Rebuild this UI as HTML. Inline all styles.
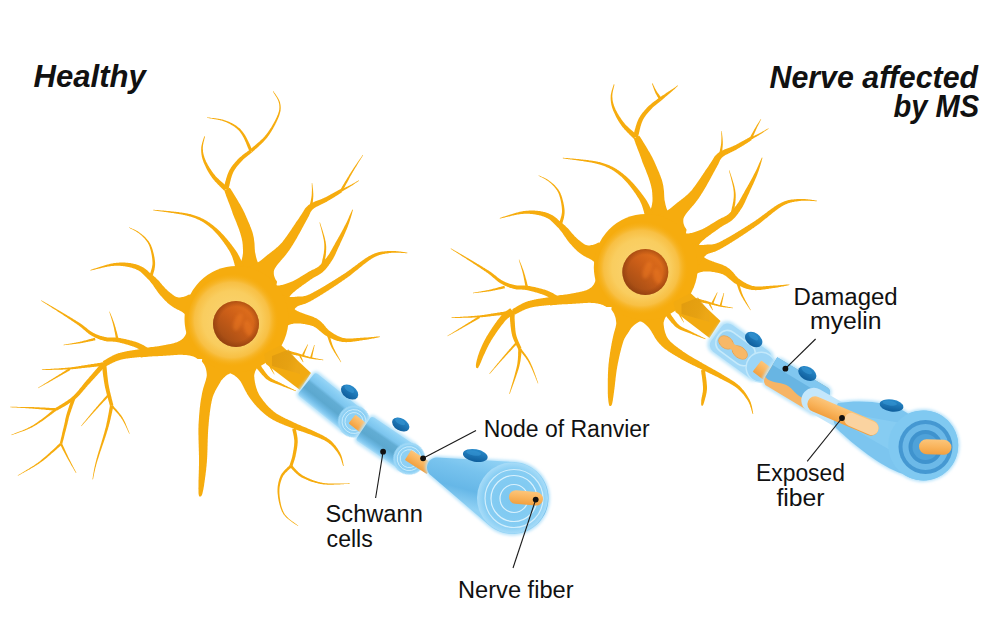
<!DOCTYPE html>
<html><head><meta charset="utf-8"><style>
html,body{margin:0;padding:0;background:#fff;}
body{width:1000px;height:630px;overflow:hidden;position:relative;}
svg{position:absolute;left:0;top:0;}
</style></head><body>
<svg width="1000" height="630" viewBox="0 0 1000 630">
<defs>
<radialGradient id="somaL" gradientUnits="userSpaceOnUse" cx="232.0" cy="320.0" r="47">
 <stop offset="0" stop-color="#FAD575"/>
 <stop offset="0.62" stop-color="#F9CD5F"/>
 <stop offset="0.8" stop-color="#F8C24A" stop-opacity="0.9"/>
 <stop offset="1" stop-color="#F6AC0E" stop-opacity="0"/>
</radialGradient>
<linearGradient id="nucL" x1="0.85" y1="0.1" x2="0.15" y2="0.9">
 <stop offset="0" stop-color="#E4721C"/>
 <stop offset="0.45" stop-color="#CB5E18"/>
 <stop offset="1" stop-color="#9E4A14"/>
</linearGradient>
<radialGradient id="nucEL" cx="0.5" cy="0.5" r="0.5">
 <stop offset="0.75" stop-color="#8A3A0C" stop-opacity="0"/>
 <stop offset="1" stop-color="#8A3A0C" stop-opacity="0.55"/>
</radialGradient>

<radialGradient id="somaR" gradientUnits="userSpaceOnUse" cx="641.3" cy="268.0" r="47">
 <stop offset="0" stop-color="#FAD575"/>
 <stop offset="0.62" stop-color="#F9CD5F"/>
 <stop offset="0.8" stop-color="#F8C24A" stop-opacity="0.9"/>
 <stop offset="1" stop-color="#F6AC0E" stop-opacity="0"/>
</radialGradient>
<linearGradient id="nucR" x1="0.85" y1="0.1" x2="0.15" y2="0.9">
 <stop offset="0" stop-color="#E4721C"/>
 <stop offset="0.45" stop-color="#CB5E18"/>
 <stop offset="1" stop-color="#9E4A14"/>
</linearGradient>
<radialGradient id="nucER" cx="0.5" cy="0.5" r="0.5">
 <stop offset="0.75" stop-color="#8A3A0C" stop-opacity="0"/>
 <stop offset="1" stop-color="#8A3A0C" stop-opacity="0.55"/>
</radialGradient>

<linearGradient id="cyl" x1="0" y1="0" x2="0" y2="1">
 <stop offset="0" stop-color="#9AD6F7"/>
 <stop offset="0.12" stop-color="#8ACFF4"/>
 <stop offset="0.3" stop-color="#7CC5EE"/>
 <stop offset="0.4" stop-color="#62ADD4"/>
 <stop offset="0.65" stop-color="#5CA8CF"/>
 <stop offset="0.8" stop-color="#6DB9E4"/>
 <stop offset="0.92" stop-color="#86CBF1"/>
 <stop offset="1" stop-color="#A8DCF8"/>
</linearGradient>
<linearGradient id="cylR" x1="0" y1="0" x2="0" y2="1">
 <stop offset="0" stop-color="#BDE5FA"/>
 <stop offset="0.3" stop-color="#A3D8F6"/>
 <stop offset="0.7" stop-color="#96D1F3"/>
 <stop offset="1" stop-color="#B8E3F9"/>
</linearGradient>
<linearGradient id="cone" gradientUnits="userSpaceOnUse" x1="455" y1="445" x2="440" y2="500">
 <stop offset="0" stop-color="#96D5F6"/>
 <stop offset="0.35" stop-color="#78C3EE"/>
 <stop offset="0.7" stop-color="#66B7E7"/>
 <stop offset="1" stop-color="#90D1F4"/>
</linearGradient>
<radialGradient id="face" cx="0.5" cy="0.5" r="0.5">
 <stop offset="0" stop-color="#7CC7F0"/>
 <stop offset="0.8" stop-color="#86CDF3"/>
 <stop offset="1" stop-color="#A8DCF8"/>
</radialGradient>
<linearGradient id="orng" x1="0" y1="0" x2="0" y2="1">
 <stop offset="0" stop-color="#FCC57A"/>
 <stop offset="0.5" stop-color="#F9B45C"/>
 <stop offset="1" stop-color="#F2A040"/>
</linearGradient>
<linearGradient id="nucb" x1="0" y1="0" x2="0" y2="1">
 <stop offset="0" stop-color="#2A8BCB"/>
 <stop offset="1" stop-color="#0F5E9C"/>
</linearGradient>
<linearGradient id="hil" x1="0" y1="0" x2="1" y2="0.3">
 <stop offset="0" stop-color="#DC970E"/>
 <stop offset="0.7" stop-color="#E29E12"/>
 <stop offset="1" stop-color="#EBA618"/>
</linearGradient>
<filter id="blur1" x="-20%" y="-20%" width="140%" height="140%"><feGaussianBlur stdDeviation="1.6"/></filter>
<filter id="blur05"><feGaussianBlur stdDeviation="0.6"/></filter>
</defs>
<g fill="#F6AC0E">
<path d="M259.8 314.4 L259.8 314.3 L259.8 314.2 L259.9 314.0 L260.1 313.6 L260.3 313.1 L260.6 312.6 L260.9 312.0 L261.2 311.3 L261.5 310.5 L261.9 309.7 L262.3 308.9 L262.7 307.9 L263.1 307.0 L263.5 306.0 L263.9 304.9 L264.3 303.8 L264.7 302.7 L265.1 301.5 L265.5 300.2 L265.9 298.9 L266.2 297.5 L266.5 296.2 L266.6 295.2 L266.6 294.3 L266.5 293.4 L266.5 292.5 L266.5 291.6 L266.4 290.7 L266.4 289.8 L266.3 288.9 L266.2 288.1 L266.1 287.2 L266.0 286.3 L265.9 285.5 L265.8 284.6 L265.7 283.8 L265.6 282.9 L265.5 282.1 L265.4 281.3 L265.3 280.4 L265.1 279.6 L265.0 278.8 L264.9 278.0 L264.7 277.2 L264.6 276.4 L264.5 275.7 L264.3 274.9 L264.2 274.2 L264.1 273.4 L263.9 272.7 L263.8 272.0 L263.6 271.4 L263.5 270.7 L263.5 269.9 L262.4 269.0 L261.5 268.1 L260.7 267.3 L260.1 266.5 L259.5 265.7 L259.0 264.9 L258.6 264.1 L258.2 263.3 L257.9 262.6 L257.6 261.8 L257.3 261.1 L257.0 260.3 L256.8 259.6 L256.6 258.9 L256.4 258.1 L256.2 257.4 L256.0 256.7 L255.9 256.0 L255.7 255.2 L255.6 254.5 L255.4 253.8 L255.3 253.1 L255.1 252.4 L255.0 251.7 L254.9 251.0 L254.9 250.3 L254.8 249.6 L254.8 248.9 L254.7 248.2 L254.7 247.6 L254.7 246.9 L254.6 246.2 L254.6 245.5 L254.6 244.8 L254.5 244.0 L254.5 243.3 L254.4 242.6 L254.3 241.8 L254.2 241.0 L254.1 240.3 L254.0 239.5 L253.9 238.6 L253.8 237.8 L253.6 237.0 L253.4 236.1 L253.2 235.2 L253.0 234.3 L252.8 233.4 L252.6 232.8 L252.4 232.1 L252.2 231.5 L252.0 230.8 L251.7 230.2 L251.5 229.5 L251.3 228.9 L251.0 228.2 L250.8 227.5 L250.5 226.9 L250.2 226.2 L250.0 225.5 L249.7 224.8 L249.4 224.1 L249.1 223.4 L248.8 222.8 L248.5 222.1 L248.2 221.4 L247.9 220.7 L247.6 220.0 L247.3 219.3 L247.0 218.6 L246.7 217.9 L246.4 217.2 L246.1 216.5 L245.8 215.8 L245.5 215.2 L245.2 214.5 L244.9 213.8 L244.6 213.1 L244.3 212.4 L243.9 211.8 L243.6 211.1 L243.3 210.5 L243.0 209.8 L242.7 209.2 L242.3 208.5 L241.9 207.8 L241.6 207.2 L241.2 206.5 L240.8 205.8 L240.4 205.1 L240.0 204.3 L239.5 203.6 L239.1 202.9 L238.7 202.2 L238.3 201.5 L237.9 200.7 L237.4 200.0 L237.0 199.3 L236.6 198.6 L236.2 197.9 L235.8 197.2 L235.3 196.5 L234.9 195.8 L234.5 195.2 L234.1 194.5 L233.7 193.9 L233.4 193.3 L233.0 192.7 L232.6 192.1 L232.3 191.5 L231.9 191.0 L231.6 190.5 L231.3 190.0 L231.0 189.5 L230.7 189.1 L230.4 188.7 L230.2 188.3 L229.9 188.0 L229.7 187.7 L224.3 190.3 L224.4 190.7 L224.5 191.1 L224.7 191.5 L224.8 192.0 L225.0 192.5 L225.2 193.0 L225.3 193.6 L225.6 194.1 L225.8 194.7 L226.0 195.4 L226.2 196.0 L226.5 196.7 L226.7 197.3 L227.0 198.0 L227.3 198.7 L227.6 199.5 L227.8 200.2 L228.1 200.9 L228.4 201.7 L228.7 202.4 L229.0 203.2 L229.3 204.0 L229.6 204.7 L229.9 205.5 L230.2 206.3 L230.4 207.0 L230.7 207.8 L231.0 208.5 L231.3 209.3 L231.5 210.0 L231.8 210.8 L232.1 211.5 L232.3 212.2 L232.5 212.9 L232.7 213.5 L233.0 214.2 L233.2 214.9 L233.5 215.5 L233.8 216.2 L234.1 216.9 L234.3 217.6 L234.6 218.2 L234.9 218.9 L235.2 219.6 L235.5 220.3 L235.7 221.0 L236.0 221.6 L236.3 222.3 L236.6 223.0 L236.8 223.7 L237.1 224.4 L237.3 225.0 L237.6 225.7 L237.9 226.4 L238.1 227.0 L238.4 227.7 L238.6 228.3 L238.8 229.0 L239.1 229.6 L239.3 230.3 L239.5 230.9 L239.7 231.5 L239.9 232.1 L240.1 232.7 L240.3 233.3 L240.5 233.9 L240.6 234.4 L240.8 235.0 L240.9 235.5 L241.1 236.1 L241.2 236.6 L241.4 237.3 L241.6 238.0 L241.8 238.7 L241.9 239.4 L242.0 240.0 L242.2 240.7 L242.3 241.3 L242.4 241.9 L242.5 242.5 L242.5 243.1 L242.6 243.7 L242.7 244.3 L242.7 244.9 L242.8 245.5 L242.8 246.2 L242.8 246.8 L242.9 247.4 L242.9 248.1 L242.9 248.8 L243.0 249.4 L243.0 250.1 L243.0 250.9 L243.0 251.6 L243.0 252.3 L243.0 253.0 L242.9 253.7 L242.8 254.4 L242.7 255.0 L242.6 255.7 L242.5 256.4 L242.4 257.0 L242.2 257.7 L242.1 258.4 L241.9 259.0 L241.7 259.7 L241.5 260.4 L241.2 261.0 L240.9 261.7 L240.6 262.4 L240.3 263.0 L239.9 263.7 L239.4 264.4 L238.9 265.1 L238.2 265.8 L237.5 266.5 L236.7 267.2 L235.7 267.8 L234.6 268.5 L234.5 269.3 L234.3 269.9 L234.1 270.6 L233.9 271.3 L233.7 271.9 L233.5 272.6 L233.3 273.3 L233.0 274.0 L232.8 274.7 L232.6 275.4 L232.4 276.1 L232.2 276.8 L231.9 277.5 L231.7 278.2 L231.5 278.9 L231.3 279.6 L231.0 280.2 L230.8 280.9 L230.6 281.5 L230.3 282.2 L230.1 282.8 L229.9 283.4 L229.6 284.0 L229.4 284.5 L229.1 285.1 L228.9 285.6 L228.6 286.0 L228.4 286.5 L228.2 286.9 L227.9 287.3 L227.7 287.6 L227.5 287.8 L227.4 288.1 L227.3 288.5 L227.2 288.8 L227.1 289.2 L226.9 289.7 L226.7 290.1 L226.6 290.6 L226.4 291.1 L226.1 291.7 L225.9 292.2 L225.7 292.7 L225.4 293.3 L225.2 293.8 L224.9 294.4 L224.7 295.0 L224.4 295.5 L224.1 296.1 L223.8 296.7 L223.6 297.3 L223.3 298.0 L222.9 298.7 L222.7 299.3Z"/>
<path d="M227.8 187.2 L227.5 186.9 L227.1 186.6 L226.7 186.3 L226.3 185.9 L225.9 185.6 L225.4 185.2 L224.9 184.7 L224.4 184.3 L223.8 183.8 L223.3 183.3 L222.7 182.8 L222.1 182.3 L221.5 181.8 L220.9 181.3 L220.3 180.7 L219.8 180.2 L219.2 179.7 L218.6 179.1 L218.0 178.5 L217.4 178.0 L216.9 177.4 L216.4 176.9 L215.9 176.4 L215.4 175.9 L215.0 175.3 L214.6 174.8 L214.1 174.3 L213.7 173.7 L213.3 173.2 L212.8 172.6 L212.4 172.0 L212.0 171.4 L211.6 170.8 L211.2 170.2 L210.8 169.6 L210.4 169.0 L210.0 168.4 L209.6 167.8 L209.2 167.2 L208.9 166.6 L208.5 166.0 L208.2 165.4 L207.8 164.8 L207.5 164.2 L207.2 163.6 L206.9 163.0 L206.6 162.5 L206.3 161.9 L206.0 161.4 L205.8 160.8 L205.5 160.1 L205.2 159.4 L204.9 158.6 L204.6 157.9 L204.4 157.3 L204.2 156.6 L204.0 155.9 L203.8 155.2 L203.6 154.6 L203.5 153.9 L203.3 153.2 L203.2 152.6 L203.1 151.9 L203.0 151.3 L203.0 150.6 L202.9 149.9 L202.9 149.3 L202.8 148.6 L202.8 147.9 L202.9 147.1 L202.9 146.4 L203.0 145.6 L203.1 144.7 L203.3 143.9 L203.4 143.1 L203.6 142.3 L203.8 141.5 L204.0 140.7 L204.2 139.9 L204.3 139.2 L204.5 138.6 L204.7 137.9 L204.8 137.4 L204.9 136.9 L205.0 136.5 L204.2 136.3 L204.1 136.7 L204.0 137.2 L203.8 137.7 L203.6 138.3 L203.4 138.9 L203.2 139.6 L202.9 140.4 L202.7 141.2 L202.4 142.0 L202.2 142.8 L202.0 143.6 L201.8 144.5 L201.6 145.3 L201.4 146.2 L201.3 147.0 L201.2 147.8 L201.2 148.6 L201.2 149.3 L201.1 150.0 L201.2 150.7 L201.2 151.4 L201.2 152.1 L201.3 152.8 L201.4 153.5 L201.4 154.2 L201.6 155.0 L201.7 155.7 L201.8 156.4 L202.0 157.2 L202.2 157.9 L202.4 158.7 L202.6 159.4 L202.9 160.2 L203.1 161.0 L203.4 161.8 L203.6 162.4 L203.9 163.0 L204.1 163.6 L204.4 164.2 L204.7 164.8 L205.0 165.5 L205.3 166.1 L205.6 166.8 L205.9 167.4 L206.2 168.1 L206.5 168.7 L206.9 169.4 L207.2 170.0 L207.6 170.7 L208.0 171.4 L208.4 172.0 L208.7 172.7 L209.1 173.3 L209.5 174.0 L209.9 174.6 L210.3 175.2 L210.7 175.8 L211.2 176.5 L211.6 177.1 L212.0 177.7 L212.5 178.3 L212.9 178.9 L213.4 179.5 L214.0 180.1 L214.5 180.7 L215.0 181.4 L215.6 182.0 L216.2 182.6 L216.8 183.2 L217.3 183.8 L217.9 184.4 L218.5 185.0 L219.1 185.6 L219.6 186.2 L220.2 186.7 L220.7 187.2 L221.2 187.7 L221.7 188.2 L222.2 188.7 L222.6 189.1 L223.0 189.5 L223.4 189.9 L223.7 190.2 L224.0 190.5 L224.2 190.8Z"/>
<path d="M228.4 189.7 L228.5 189.3 L228.6 188.8 L228.7 188.3 L228.9 187.8 L229.0 187.2 L229.1 186.6 L229.3 185.9 L229.5 185.2 L229.6 184.5 L229.8 183.8 L230.0 183.0 L230.1 182.2 L230.3 181.5 L230.5 180.7 L230.7 179.9 L230.9 179.1 L231.1 178.3 L231.4 177.6 L231.6 176.8 L231.8 176.1 L232.0 175.4 L232.3 174.7 L232.5 174.1 L232.8 173.5 L233.0 173.0 L233.3 172.3 L233.6 171.7 L233.9 171.1 L234.3 170.5 L234.6 169.9 L235.0 169.3 L235.4 168.7 L235.8 168.2 L236.2 167.6 L236.6 167.1 L237.0 166.5 L237.4 166.0 L237.8 165.5 L238.3 164.9 L238.7 164.4 L239.1 163.9 L239.6 163.4 L240.0 162.9 L240.5 162.4 L241.0 161.9 L241.4 161.4 L241.9 160.9 L242.4 160.4 L243.0 159.8 L243.5 159.3 L244.1 158.8 L244.7 158.3 L245.3 157.7 L246.0 157.2 L246.6 156.7 L247.2 156.2 L247.8 155.7 L248.4 155.3 L249.0 154.8 L249.5 154.4 L250.0 154.0 L250.5 153.6 L251.0 153.2 L251.4 152.9 L251.8 152.6 L252.1 152.4 L249.9 149.6 L249.6 149.9 L249.3 150.1 L248.9 150.4 L248.4 150.8 L247.9 151.1 L247.4 151.5 L246.8 151.9 L246.2 152.4 L245.6 152.8 L244.9 153.3 L244.3 153.8 L243.6 154.3 L242.9 154.8 L242.3 155.3 L241.6 155.9 L241.0 156.4 L240.3 157.0 L239.7 157.5 L239.1 158.1 L238.6 158.6 L238.1 159.1 L237.6 159.6 L237.1 160.1 L236.6 160.7 L236.1 161.2 L235.6 161.7 L235.2 162.2 L234.7 162.8 L234.2 163.4 L233.7 163.9 L233.2 164.5 L232.8 165.1 L232.3 165.7 L231.9 166.3 L231.4 166.9 L231.0 167.6 L230.6 168.2 L230.2 168.9 L229.8 169.6 L229.4 170.3 L229.0 171.0 L228.7 171.7 L228.4 172.4 L228.1 173.1 L227.8 173.9 L227.5 174.6 L227.2 175.4 L227.0 176.2 L226.7 177.0 L226.5 177.8 L226.2 178.6 L226.0 179.4 L225.8 180.3 L225.5 181.1 L225.3 181.8 L225.1 182.6 L224.9 183.4 L224.7 184.1 L224.6 184.8 L224.4 185.4 L224.2 186.0 L224.1 186.6 L223.9 187.1 L223.8 187.6 L223.7 188.0 L223.6 188.3Z"/>
<path d="M252.2 152.3 L252.5 152.0 L252.7 151.7 L253.1 151.4 L253.4 151.1 L253.8 150.8 L254.2 150.4 L254.7 150.0 L255.1 149.6 L255.6 149.1 L256.1 148.7 L256.7 148.2 L257.2 147.7 L257.8 147.2 L258.3 146.7 L258.9 146.2 L259.5 145.6 L260.1 145.1 L260.7 144.5 L261.3 143.9 L261.9 143.3 L262.5 142.7 L263.1 142.2 L263.7 141.6 L264.2 140.9 L264.8 140.3 L265.3 139.7 L265.9 139.1 L266.4 138.5 L266.9 137.9 L267.4 137.3 L267.8 136.7 L268.2 136.1 L268.7 135.6 L269.1 135.0 L269.5 134.3 L269.9 133.7 L270.3 133.1 L270.7 132.5 L271.1 131.8 L271.5 131.2 L271.9 130.5 L272.3 129.8 L272.7 129.2 L273.1 128.5 L273.5 127.8 L273.8 127.1 L274.2 126.5 L274.6 125.8 L274.9 125.1 L275.3 124.4 L275.6 123.8 L275.9 123.1 L276.3 122.4 L276.6 121.8 L276.9 121.1 L277.2 120.5 L277.4 119.9 L277.7 119.3 L278.0 118.7 L278.2 118.1 L278.5 117.5 L278.7 117.0 L278.9 116.4 L279.1 115.9 L279.4 115.0 L279.7 114.1 L279.9 113.3 L280.1 112.4 L280.3 111.7 L280.5 110.9 L280.6 110.2 L280.6 109.4 L280.7 108.7 L280.7 108.1 L280.7 107.4 L280.7 106.7 L280.6 106.1 L280.6 105.4 L280.5 104.8 L280.3 104.1 L280.2 103.5 L280.1 102.8 L279.9 102.1 L279.6 101.3 L279.3 100.6 L278.9 99.8 L278.6 99.1 L278.1 98.3 L277.7 97.6 L277.2 96.8 L276.8 96.1 L276.3 95.4 L275.9 94.8 L275.4 94.1 L275.0 93.5 L274.6 93.0 L274.2 92.5 L273.9 92.0 L273.7 91.6 L273.5 91.2 L272.9 91.6 L273.1 91.9 L273.4 92.3 L273.7 92.8 L274.0 93.4 L274.4 93.9 L274.8 94.5 L275.2 95.2 L275.6 95.9 L276.1 96.6 L276.5 97.3 L276.9 98.0 L277.3 98.8 L277.7 99.5 L278.0 100.3 L278.3 101.0 L278.6 101.7 L278.8 102.4 L278.9 103.0 L279.1 103.7 L279.2 104.3 L279.3 104.9 L279.3 105.6 L279.4 106.2 L279.4 106.8 L279.4 107.4 L279.4 108.0 L279.3 108.7 L279.3 109.3 L279.2 109.9 L279.0 110.6 L278.9 111.3 L278.7 112.1 L278.4 112.8 L278.2 113.6 L277.9 114.4 L277.5 115.3 L277.3 115.8 L277.1 116.3 L276.9 116.8 L276.6 117.4 L276.3 117.9 L276.1 118.5 L275.8 119.1 L275.5 119.7 L275.2 120.3 L274.9 120.9 L274.5 121.6 L274.2 122.2 L273.8 122.8 L273.5 123.5 L273.1 124.1 L272.7 124.8 L272.3 125.4 L272.0 126.1 L271.6 126.7 L271.2 127.4 L270.8 128.0 L270.4 128.6 L269.9 129.3 L269.5 129.9 L269.1 130.5 L268.7 131.1 L268.3 131.7 L267.9 132.3 L267.4 132.9 L267.0 133.5 L266.6 134.0 L266.2 134.6 L265.8 135.1 L265.3 135.6 L264.8 136.2 L264.4 136.7 L263.8 137.3 L263.3 137.9 L262.8 138.4 L262.2 139.0 L261.6 139.5 L261.0 140.1 L260.4 140.6 L259.9 141.2 L259.2 141.7 L258.6 142.3 L258.0 142.8 L257.4 143.3 L256.8 143.8 L256.3 144.3 L255.7 144.8 L255.1 145.3 L254.6 145.7 L254.0 146.2 L253.5 146.6 L253.0 147.0 L252.5 147.4 L252.0 147.8 L251.6 148.2 L251.2 148.5 L250.8 148.9 L250.4 149.2 L250.1 149.5 L249.8 149.7Z"/>
<path d="M252.5 150.3 L252.3 150.0 L252.1 149.6 L251.9 149.1 L251.6 148.6 L251.4 148.0 L251.1 147.4 L250.8 146.7 L250.5 146.0 L250.2 145.3 L249.8 144.6 L249.5 143.8 L249.1 143.0 L248.7 142.3 L248.4 141.5 L248.0 140.7 L247.6 140.0 L247.3 139.2 L246.9 138.5 L246.5 137.8 L246.1 137.1 L245.8 136.4 L245.4 135.8 L245.1 135.3 L244.6 134.5 L244.1 133.8 L243.7 133.2 L243.2 132.5 L242.7 131.9 L242.3 131.3 L241.8 130.7 L241.3 130.2 L240.9 129.7 L240.4 129.1 L239.8 128.6 L239.3 128.1 L238.7 127.7 L238.1 127.2 L237.5 126.7 L236.9 126.2 L236.4 125.8 L235.8 125.5 L235.2 125.1 L234.7 124.7 L234.1 124.4 L233.5 124.0 L232.8 123.7 L232.2 123.3 L231.6 123.0 L230.9 122.7 L230.3 122.4 L229.6 122.1 L228.9 121.8 L228.2 121.5 L227.5 121.2 L226.8 120.9 L226.1 120.7 L225.4 120.4 L224.6 120.2 L223.9 120.0 L223.3 119.8 L222.6 119.6 L221.9 119.4 L221.1 119.3 L220.3 119.1 L219.6 119.0 L218.8 118.8 L217.9 118.7 L217.1 118.6 L216.3 118.5 L215.5 118.3 L214.7 118.2 L213.9 118.1 L213.1 118.0 L212.3 117.9 L211.6 117.9 L210.9 117.8 L210.2 117.7 L209.6 117.6 L209.0 117.5 L208.5 117.5 L208.0 117.4 L207.5 117.4 L207.2 117.3 L207.0 117.9 L207.4 118.0 L207.9 118.0 L208.4 118.1 L208.9 118.2 L209.5 118.3 L210.1 118.4 L210.8 118.5 L211.5 118.6 L212.2 118.8 L213.0 118.9 L213.8 119.0 L214.5 119.2 L215.3 119.3 L216.1 119.5 L217.0 119.6 L217.8 119.8 L218.5 119.9 L219.3 120.1 L220.1 120.3 L220.8 120.5 L221.6 120.6 L222.2 120.8 L222.9 121.0 L223.5 121.2 L224.2 121.5 L224.9 121.8 L225.6 122.0 L226.3 122.3 L227.0 122.6 L227.6 122.9 L228.3 123.2 L228.9 123.5 L229.6 123.8 L230.2 124.2 L230.8 124.5 L231.4 124.9 L232.0 125.2 L232.5 125.6 L233.1 125.9 L233.7 126.3 L234.2 126.6 L234.7 127.0 L235.2 127.4 L235.7 127.8 L236.3 128.3 L236.9 128.7 L237.4 129.2 L237.9 129.7 L238.3 130.1 L238.8 130.6 L239.2 131.1 L239.7 131.6 L240.1 132.1 L240.5 132.7 L240.9 133.3 L241.3 133.8 L241.7 134.5 L242.1 135.1 L242.5 135.8 L242.9 136.5 L243.2 137.1 L243.5 137.6 L243.9 138.3 L244.2 138.9 L244.5 139.6 L244.9 140.4 L245.2 141.1 L245.5 141.9 L245.9 142.6 L246.2 143.4 L246.5 144.2 L246.8 145.0 L247.1 145.7 L247.4 146.5 L247.7 147.2 L248.0 147.9 L248.3 148.6 L248.5 149.2 L248.8 149.8 L249.0 150.4 L249.2 150.8 L249.4 151.3 L249.5 151.7Z"/>
<path d="M244.1 266.2 L244.0 266.0 L243.8 265.7 L243.6 265.3 L243.4 264.9 L243.1 264.5 L242.9 264.0 L242.6 263.5 L242.4 262.9 L242.1 262.4 L241.8 261.8 L241.5 261.1 L241.2 260.5 L240.9 259.8 L240.5 259.1 L240.2 258.4 L239.8 257.6 L239.5 256.9 L239.1 256.1 L238.7 255.4 L238.2 254.6 L237.8 253.8 L237.4 253.1 L236.9 252.3 L236.4 251.5 L235.9 250.7 L235.4 250.0 L234.8 249.2 L234.3 248.5 L233.9 248.0 L233.6 247.5 L233.2 247.0 L232.8 246.5 L232.4 245.9 L232.0 245.4 L231.6 244.8 L231.1 244.3 L230.7 243.7 L230.3 243.2 L229.8 242.6 L229.4 242.0 L228.9 241.5 L228.4 240.9 L228.0 240.3 L227.5 239.7 L227.0 239.2 L226.5 238.6 L226.0 238.0 L225.5 237.4 L225.0 236.8 L224.5 236.3 L224.0 235.7 L223.5 235.1 L222.9 234.6 L222.4 234.0 L221.9 233.4 L221.4 232.9 L220.8 232.3 L220.3 231.8 L219.8 231.3 L219.2 230.7 L218.7 230.2 L218.2 229.7 L217.6 229.2 L217.1 228.7 L216.5 228.3 L216.0 227.8 L215.5 227.4 L214.9 226.9 L214.4 226.5 L213.8 226.0 L213.2 225.6 L212.7 225.1 L212.1 224.7 L211.5 224.3 L211.0 223.8 L210.4 223.4 L209.9 223.0 L209.3 222.6 L208.7 222.2 L208.2 221.9 L207.6 221.5 L207.0 221.1 L206.5 220.8 L205.9 220.4 L205.3 220.1 L204.7 219.7 L204.1 219.4 L203.5 219.1 L202.9 218.8 L202.3 218.5 L201.6 218.2 L201.0 217.9 L200.4 217.6 L199.7 217.3 L199.0 217.0 L198.3 216.7 L197.6 216.5 L196.9 216.2 L196.2 215.9 L195.4 215.7 L194.7 215.4 L193.9 215.2 L193.1 214.9 L192.3 214.7 L191.4 214.4 L190.9 214.3 L190.2 214.1 L189.6 214.0 L189.0 213.9 L188.3 213.7 L187.6 213.6 L186.9 213.4 L186.2 213.3 L185.5 213.2 L184.7 213.1 L184.0 212.9 L183.2 212.8 L182.4 212.7 L181.6 212.6 L180.8 212.5 L180.0 212.4 L179.2 212.3 L178.4 212.1 L177.6 212.0 L176.7 211.9 L175.9 211.8 L175.1 211.7 L174.2 211.7 L173.4 211.6 L172.6 211.5 L171.7 211.4 L170.9 211.3 L170.1 211.2 L169.3 211.1 L168.4 211.0 L167.6 211.0 L166.8 210.9 L166.0 210.8 L165.3 210.7 L164.5 210.7 L163.7 210.6 L163.0 210.5 L162.3 210.5 L161.6 210.4 L160.9 210.4 L160.2 210.3 L159.5 210.2 L158.9 210.2 L158.2 210.1 L157.6 210.1 L157.1 210.0 L156.5 210.0 L156.0 209.9 L155.5 209.9 L155.0 209.9 L154.5 209.8 L154.1 209.8 L153.7 209.7 L153.3 209.7 L153.3 210.3 L153.6 210.4 L154.0 210.4 L154.4 210.5 L154.9 210.6 L155.4 210.7 L155.9 210.7 L156.4 210.8 L157.0 210.9 L157.5 211.0 L158.1 211.1 L158.8 211.2 L159.4 211.2 L160.1 211.3 L160.7 211.4 L161.4 211.5 L162.1 211.6 L162.9 211.7 L163.6 211.8 L164.4 211.9 L165.1 212.0 L165.9 212.1 L166.7 212.2 L167.5 212.3 L168.3 212.4 L169.1 212.6 L169.9 212.7 L170.7 212.8 L171.5 212.9 L172.4 213.0 L173.2 213.1 L174.0 213.3 L174.8 213.4 L175.7 213.5 L176.5 213.7 L177.3 213.8 L178.1 213.9 L178.9 214.1 L179.7 214.2 L180.5 214.3 L181.3 214.5 L182.1 214.6 L182.8 214.8 L183.6 214.9 L184.3 215.1 L185.1 215.3 L185.8 215.4 L186.5 215.6 L187.1 215.7 L187.8 215.9 L188.4 216.1 L189.0 216.2 L189.6 216.4 L190.2 216.6 L190.8 216.8 L191.6 217.0 L192.4 217.3 L193.1 217.5 L193.9 217.8 L194.6 218.1 L195.3 218.3 L196.0 218.6 L196.7 218.9 L197.3 219.2 L198.0 219.5 L198.6 219.8 L199.2 220.0 L199.8 220.3 L200.4 220.7 L201.0 221.0 L201.6 221.3 L202.1 221.6 L202.7 221.9 L203.2 222.3 L203.8 222.6 L204.3 222.9 L204.8 223.3 L205.4 223.7 L205.9 224.0 L206.4 224.4 L206.9 224.8 L207.4 225.2 L208.0 225.6 L208.5 226.0 L209.0 226.4 L209.5 226.8 L210.0 227.3 L210.6 227.7 L211.1 228.2 L211.7 228.6 L212.2 229.1 L212.7 229.5 L213.1 230.0 L213.6 230.4 L214.1 230.9 L214.6 231.4 L215.0 231.9 L215.5 232.4 L216.0 232.9 L216.5 233.4 L216.9 234.0 L217.4 234.5 L217.9 235.0 L218.3 235.6 L218.8 236.2 L219.3 236.7 L219.8 237.3 L220.2 237.9 L220.7 238.5 L221.1 239.1 L221.6 239.7 L222.0 240.2 L222.5 240.8 L222.9 241.4 L223.4 242.0 L223.8 242.6 L224.2 243.2 L224.6 243.8 L225.1 244.4 L225.5 245.0 L225.9 245.5 L226.3 246.1 L226.6 246.7 L227.0 247.3 L227.4 247.8 L227.7 248.4 L228.1 248.9 L228.4 249.5 L228.8 250.0 L229.1 250.5 L229.4 251.0 L229.7 251.5 L230.1 252.2 L230.5 252.9 L230.8 253.7 L231.1 254.4 L231.5 255.1 L231.8 255.9 L232.1 256.6 L232.4 257.3 L232.6 258.1 L232.9 258.8 L233.1 259.6 L233.4 260.3 L233.6 261.0 L233.8 261.7 L234.0 262.4 L234.2 263.1 L234.4 263.7 L234.5 264.4 L234.7 265.0 L234.8 265.6 L235.0 266.2 L235.1 266.8 L235.3 267.4 L235.4 267.9 L235.5 268.4 L235.6 268.9 L235.8 269.4 L235.9 269.8Z"/>
<path d="M228.9 299.1 L228.7 299.0 L228.4 298.9 L228.0 298.8 L227.6 298.6 L227.1 298.4 L226.5 298.1 L225.9 297.9 L225.3 297.6 L224.6 297.3 L223.8 297.0 L223.1 296.7 L222.3 296.4 L221.4 296.0 L220.6 295.7 L219.7 295.4 L218.8 295.0 L217.9 294.7 L217.0 294.4 L216.0 294.0 L215.0 293.7 L214.0 293.4 L213.0 293.1 L212.0 292.8 L211.0 292.5 L210.0 292.5 L209.1 292.5 L208.1 292.5 L207.2 292.5 L206.3 292.5 L205.4 292.6 L204.5 292.6 L203.6 292.7 L202.8 292.8 L201.9 292.8 L201.1 292.9 L200.2 293.0 L199.4 293.1 L198.6 293.2 L197.8 293.3 L197.1 293.4 L196.3 293.5 L195.6 293.7 L194.8 293.8 L194.1 293.9 L193.5 294.0 L192.8 294.1 L192.2 294.2 L191.6 294.3 L191.0 294.5 L190.4 294.6 L189.9 294.7 L189.0 294.6 L188.0 295.1 L187.0 295.5 L186.1 295.9 L185.3 296.2 L184.5 296.5 L183.8 296.7 L183.2 296.9 L182.5 297.0 L181.9 297.1 L181.4 297.3 L180.8 297.3 L180.3 297.4 L179.8 297.4 L179.3 297.4 L178.8 297.4 L178.4 297.4 L177.9 297.3 L177.4 297.2 L176.9 297.1 L176.4 296.9 L175.9 296.7 L175.4 296.4 L174.9 296.2 L174.4 295.9 L173.9 295.5 L173.4 295.2 L172.9 294.8 L172.3 294.4 L171.8 294.0 L171.3 293.6 L170.7 293.2 L170.2 292.8 L169.7 292.3 L169.1 291.9 L168.6 291.4 L168.1 290.9 L167.5 290.5 L167.0 290.0 L166.6 289.6 L166.1 289.1 L165.6 288.7 L165.1 288.2 L164.6 287.6 L164.2 287.1 L163.7 286.6 L163.2 286.0 L162.7 285.5 L162.2 284.9 L161.7 284.3 L161.3 283.8 L160.8 283.2 L160.3 282.7 L159.9 282.1 L159.4 281.6 L159.0 281.1 L158.5 280.6 L158.1 280.1 L157.6 279.7 L156.9 279.0 L156.3 278.4 L155.8 277.8 L155.2 277.3 L154.7 276.9 L154.2 276.5 L153.7 276.0 L153.2 275.6 L152.5 275.1 L151.8 274.5 L151.4 274.1 L150.9 273.7 L150.4 273.3 L149.9 272.9 L149.4 272.4 L148.9 271.9 L148.3 271.4 L147.7 270.8 L147.1 270.3 L146.4 269.8 L145.8 269.3 L145.1 268.8 L144.4 268.3 L143.7 267.8 L143.0 267.3 L142.2 266.9 L141.5 266.5 L140.8 266.2 L140.1 265.9 L139.4 265.6 L138.7 265.3 L138.0 265.0 L137.2 264.8 L136.5 264.5 L135.8 264.3 L135.0 264.1 L134.2 263.9 L133.5 263.7 L132.7 263.6 L131.9 263.4 L131.1 263.3 L130.3 263.1 L129.5 263.0 L128.7 262.9 L127.9 262.8 L127.2 262.8 L126.5 262.7 L125.8 262.7 L125.2 262.6 L124.5 262.6 L123.8 262.6 L123.1 262.6 L122.4 262.6 L121.7 262.6 L120.9 262.6 L120.2 262.6 L119.5 262.6 L118.7 262.7 L118.0 262.7 L117.2 262.8 L116.4 262.8 L115.6 262.9 L114.8 263.0 L114.0 263.1 L113.2 263.3 L112.4 263.4 L111.5 263.6 L110.9 263.7 L110.2 263.8 L109.5 264.0 L108.8 264.2 L108.1 264.4 L107.3 264.6 L106.6 264.8 L105.8 265.0 L105.0 265.2 L104.2 265.4 L103.4 265.7 L102.6 265.9 L101.8 266.2 L101.0 266.4 L100.2 266.7 L99.4 266.9 L98.6 267.2 L97.9 267.4 L97.1 267.7 L96.4 267.9 L95.6 268.2 L95.0 268.4 L94.3 268.6 L93.7 268.8 L93.0 269.0 L92.5 269.2 L91.9 269.4 L91.4 269.6 L91.0 269.7 L90.6 269.9 L90.2 270.0 L90.4 270.6 L90.8 270.5 L91.2 270.4 L91.7 270.3 L92.2 270.2 L92.7 270.1 L93.3 270.0 L93.9 269.8 L94.6 269.7 L95.3 269.5 L96.0 269.3 L96.7 269.1 L97.5 269.0 L98.2 268.8 L99.0 268.6 L99.8 268.4 L100.6 268.2 L101.4 268.0 L102.2 267.8 L103.1 267.6 L103.9 267.5 L104.7 267.3 L105.5 267.1 L106.3 266.9 L107.1 266.8 L107.8 266.6 L108.6 266.5 L109.3 266.4 L110.0 266.3 L110.6 266.2 L111.3 266.1 L111.9 266.0 L112.7 266.0 L113.5 265.9 L114.3 265.8 L115.1 265.8 L115.9 265.8 L116.6 265.7 L117.3 265.7 L118.1 265.8 L118.8 265.8 L119.5 265.8 L120.2 265.8 L120.9 265.9 L121.5 265.9 L122.2 266.0 L122.9 266.1 L123.5 266.2 L124.2 266.2 L124.8 266.3 L125.4 266.4 L126.1 266.6 L126.7 266.7 L127.3 266.8 L128.1 266.9 L128.8 267.1 L129.6 267.2 L130.3 267.4 L131.0 267.6 L131.7 267.8 L132.4 268.0 L133.0 268.2 L133.7 268.4 L134.3 268.6 L135.0 268.9 L135.6 269.1 L136.2 269.4 L136.8 269.7 L137.4 270.0 L138.0 270.3 L138.6 270.6 L139.1 270.9 L139.7 271.2 L140.2 271.6 L140.7 272.0 L141.3 272.4 L141.8 272.9 L142.3 273.4 L142.9 273.9 L143.4 274.4 L143.9 274.9 L144.4 275.4 L144.9 275.9 L145.4 276.5 L145.9 277.0 L146.4 277.5 L146.9 278.0 L147.3 278.5 L147.8 278.9 L148.4 279.6 L149.0 280.1 L149.4 280.6 L149.8 281.0 L150.1 281.4 L150.5 281.9 L150.8 282.3 L151.2 282.9 L151.8 283.5 L152.4 284.3 L152.7 284.7 L153.0 285.1 L153.3 285.6 L153.6 286.1 L154.0 286.7 L154.4 287.2 L154.8 287.8 L155.2 288.4 L155.6 289.0 L156.1 289.6 L156.5 290.3 L157.0 290.9 L157.4 291.6 L157.9 292.2 L158.4 292.9 L158.9 293.5 L159.4 294.2 L159.9 294.8 L160.4 295.4 L161.0 296.0 L161.5 296.6 L161.9 297.1 L162.4 297.6 L162.9 298.2 L163.5 298.8 L164.0 299.3 L164.5 299.9 L165.1 300.4 L165.6 301.0 L166.2 301.6 L166.8 302.1 L167.3 302.7 L167.9 303.2 L168.6 303.8 L169.2 304.3 L169.8 304.8 L170.5 305.3 L171.2 305.8 L171.9 306.3 L172.6 306.8 L173.4 307.3 L174.1 307.7 L174.9 308.2 L175.7 308.6 L176.4 309.0 L177.2 309.4 L177.9 309.8 L178.7 310.1 L179.4 310.5 L180.1 310.8 L180.8 311.2 L181.5 311.6 L182.2 312.1 L182.9 312.5 L183.5 313.1 L184.2 313.6 L184.8 314.3 L185.4 315.1 L186.1 315.3 L186.8 315.7 L187.5 316.0 L188.2 316.3 L188.9 316.6 L189.6 316.9 L190.3 317.2 L191.0 317.5 L191.7 317.8 L192.4 318.1 L193.1 318.4 L193.8 318.7 L194.5 319.0 L195.2 319.3 L195.9 319.6 L196.6 319.9 L197.3 320.2 L197.9 320.5 L198.5 320.8 L199.2 321.1 L199.7 321.4 L200.3 321.7 L200.9 322.0 L201.4 322.3 L201.8 322.6 L202.3 322.9 L202.7 323.2 L203.0 323.5 L203.5 323.6 L204.0 323.8 L204.5 323.9 L205.1 324.1 L205.7 324.3 L206.3 324.5 L207.0 324.8 L207.6 325.0 L208.3 325.3 L209.0 325.5 L209.7 325.8 L210.3 326.1 L211.0 326.3 L211.7 326.6 L212.3 326.9 L213.0 327.1 L213.6 327.4 L214.2 327.7 L214.8 327.9 L215.4 328.1 L215.9 328.4 L216.5 328.6 L217.1 328.8 L217.5 329.0Z"/>
<path d="M153.0 275.3 L153.0 275.0 L153.1 274.6 L153.2 274.1 L153.4 273.6 L153.5 273.0 L153.7 272.3 L153.9 271.7 L154.1 270.9 L154.3 270.2 L154.5 269.4 L154.6 268.5 L154.8 267.7 L154.9 266.8 L155.0 265.9 L155.1 265.1 L155.1 264.1 L155.1 263.2 L155.1 262.3 L155.0 261.7 L155.0 261.0 L154.9 260.4 L154.8 259.7 L154.7 259.0 L154.6 258.2 L154.5 257.5 L154.3 256.8 L154.2 256.0 L154.0 255.2 L153.9 254.5 L153.7 253.7 L153.5 252.9 L153.3 252.2 L153.1 251.4 L152.9 250.7 L152.7 249.9 L152.5 249.2 L152.2 248.5 L152.0 247.8 L151.7 247.1 L151.4 246.4 L151.2 245.8 L150.9 245.1 L150.6 244.5 L150.2 243.8 L149.8 243.1 L149.4 242.4 L149.0 241.7 L148.5 241.1 L148.0 240.5 L147.5 239.9 L147.0 239.3 L146.5 238.7 L146.0 238.2 L145.5 237.6 L145.0 237.1 L144.4 236.6 L143.9 236.1 L143.3 235.6 L142.8 235.2 L142.3 234.7 L141.7 234.3 L141.2 233.8 L140.6 233.4 L140.0 232.9 L139.4 232.4 L138.7 232.0 L138.0 231.6 L137.3 231.1 L136.5 230.7 L135.8 230.3 L135.1 230.0 L134.3 229.6 L133.6 229.3 L132.9 229.0 L132.3 228.7 L131.7 228.4 L131.1 228.1 L130.5 227.9 L130.1 227.7 L129.7 227.5 L129.3 227.3 L129.1 227.7 L129.4 227.9 L129.8 228.1 L130.3 228.4 L130.8 228.7 L131.4 228.9 L132.0 229.2 L132.6 229.6 L133.3 229.9 L134.0 230.3 L134.7 230.7 L135.4 231.1 L136.1 231.5 L136.8 231.9 L137.5 232.4 L138.1 232.8 L138.8 233.3 L139.4 233.7 L140.0 234.2 L140.5 234.7 L141.0 235.1 L141.5 235.6 L142.0 236.1 L142.5 236.5 L143.0 237.0 L143.5 237.5 L144.0 238.1 L144.5 238.6 L145.0 239.1 L145.4 239.7 L145.9 240.2 L146.3 240.8 L146.8 241.4 L147.2 242.0 L147.6 242.6 L148.0 243.3 L148.3 243.9 L148.7 244.6 L149.0 245.3 L149.2 245.8 L149.5 246.4 L149.7 247.1 L149.9 247.7 L150.1 248.4 L150.3 249.1 L150.5 249.8 L150.7 250.5 L150.9 251.2 L151.1 251.9 L151.2 252.7 L151.4 253.4 L151.5 254.2 L151.7 254.9 L151.8 255.7 L151.9 256.4 L152.0 257.1 L152.1 257.9 L152.2 258.6 L152.3 259.3 L152.3 259.9 L152.4 260.6 L152.4 261.3 L152.5 261.9 L152.5 262.5 L152.5 263.2 L152.5 264.0 L152.4 264.8 L152.3 265.6 L152.1 266.4 L152.0 267.2 L151.8 267.9 L151.6 268.7 L151.4 269.4 L151.2 270.1 L151.0 270.8 L150.8 271.5 L150.6 272.1 L150.4 272.7 L150.2 273.3 L150.1 273.8 L149.9 274.2 L149.8 274.7Z"/>
<path d="M211.8 309.9 L211.4 310.2 L210.9 310.5 L210.4 310.8 L209.9 311.2 L209.4 311.5 L208.9 311.9 L208.4 312.2 L207.8 312.6 L207.2 313.0 L206.6 313.4 L206.0 313.8 L205.4 314.2 L204.8 314.7 L204.1 315.1 L203.5 315.5 L202.9 315.9 L202.2 316.3 L201.6 316.7 L201.0 317.1 L200.4 317.5 L199.8 317.9 L199.3 318.2 L198.7 318.5 L198.2 318.8 L197.8 319.1 L197.4 319.3 L197.0 319.5 L196.6 320.0 L196.2 320.5 L195.8 321.0 L195.4 321.5 L195.0 322.0 L194.5 322.5 L194.1 323.0 L193.6 323.5 L193.1 323.9 L192.7 324.4 L192.2 324.9 L191.7 325.4 L191.2 325.9 L190.7 326.3 L190.2 326.8 L189.8 327.3 L189.3 327.7 L188.8 328.2 L188.3 328.7 L187.8 329.1 L187.3 329.6 L186.8 330.0 L186.7 331.3 L186.5 332.4 L186.1 333.5 L185.7 334.4 L185.3 335.2 L184.9 336.0 L184.5 336.6 L184.0 337.2 L183.6 337.7 L183.2 338.2 L182.7 338.7 L182.2 339.1 L181.7 339.5 L181.2 339.9 L180.7 340.3 L180.1 340.6 L179.5 341.0 L178.9 341.3 L178.2 341.6 L177.5 341.9 L176.8 342.3 L176.2 342.4 L175.6 342.6 L175.0 342.8 L174.4 343.0 L173.7 343.2 L173.0 343.4 L172.3 343.5 L171.5 343.7 L170.8 343.9 L170.0 344.0 L169.3 344.2 L168.5 344.3 L167.8 344.5 L167.0 344.6 L166.3 344.8 L165.5 344.9 L164.8 345.0 L164.0 345.2 L163.3 345.3 L162.6 345.4 L161.9 345.6 L161.3 345.7 L160.6 345.8 L160.0 345.9 L159.4 346.0 L158.5 346.2 L157.7 346.3 L156.9 346.4 L156.1 346.5 L155.3 346.6 L154.6 346.7 L153.9 346.8 L153.3 346.9 L152.6 346.9 L151.9 347.0 L151.2 347.1 L150.5 347.2 L149.9 347.3 L149.2 347.4 L148.4 347.5 L147.6 347.7 L146.8 347.8 L145.9 348.0 L145.1 348.2 L144.3 348.4 L143.5 348.5 L142.7 348.7 L142.0 348.9 L141.3 349.0 L140.7 349.2 L140.1 349.3 L139.7 349.5 L139.3 349.6 L140.7 357.4 L141.1 357.4 L141.6 357.4 L142.2 357.3 L142.8 357.2 L143.5 357.1 L144.2 357.0 L144.9 357.0 L145.7 356.9 L146.5 356.8 L147.3 356.7 L148.1 356.6 L148.8 356.5 L149.6 356.5 L150.2 356.4 L150.8 356.4 L151.4 356.4 L152.0 356.4 L152.6 356.3 L153.3 356.3 L153.9 356.3 L154.6 356.3 L155.4 356.3 L156.1 356.2 L156.9 356.2 L157.8 356.2 L158.7 356.1 L159.6 356.1 L160.6 356.0 L161.2 355.9 L161.8 355.9 L162.5 355.9 L163.2 355.8 L163.9 355.8 L164.6 355.7 L165.3 355.7 L166.1 355.7 L166.8 355.6 L167.6 355.6 L168.4 355.5 L169.2 355.4 L170.0 355.4 L170.8 355.3 L171.6 355.3 L172.4 355.2 L173.2 355.2 L174.0 355.1 L174.8 355.1 L175.5 355.0 L176.3 354.9 L177.1 354.9 L177.8 354.8 L178.5 354.8 L179.2 354.7 L180.1 354.8 L180.9 354.8 L181.7 354.8 L182.5 354.8 L183.3 354.9 L184.1 354.9 L184.8 355.0 L185.6 355.0 L186.4 355.1 L187.2 355.2 L188.0 355.3 L188.8 355.4 L189.6 355.6 L190.5 355.8 L191.4 356.0 L192.4 356.3 L193.4 356.6 L194.4 357.0 L195.5 357.6 L196.6 358.3 L197.6 359.1 L198.4 359.1 L199.2 359.0 L200.0 359.0 L200.8 358.9 L201.6 358.9 L202.5 358.8 L203.3 358.8 L204.2 358.7 L205.0 358.6 L205.9 358.5 L206.8 358.4 L207.7 358.3 L208.6 358.1 L209.5 358.0 L210.4 357.8 L211.3 357.7 L212.2 357.5 L213.2 357.3 L214.1 357.1 L215.1 356.9 L216.0 356.7 L217.0 356.5 L217.9 356.0 L218.7 355.5 L219.5 355.0 L220.4 354.5 L221.2 354.0 L222.0 353.5 L222.8 353.0 L223.6 352.5 L224.4 352.0 L225.1 351.5 L225.9 351.0 L226.7 350.5 L227.4 350.1 L228.1 349.6 L228.8 349.1 L229.5 348.6 L230.2 348.2 L230.8 347.8 L231.4 347.4 L232.0 347.0 L232.5 346.6 L233.0 346.3 L233.4 346.0 L233.8 345.7 L234.2 345.5 L234.4 345.3 L234.7 345.2Z"/>
<path d="M150.5 349.4 L150.2 349.2 L149.8 349.0 L149.4 348.8 L149.0 348.5 L148.5 348.2 L147.9 347.9 L147.4 347.5 L146.7 347.2 L146.1 346.8 L145.4 346.4 L144.7 346.0 L144.0 345.5 L143.2 345.1 L142.4 344.7 L141.6 344.3 L140.8 343.9 L140.0 343.5 L139.2 343.2 L138.3 342.8 L137.5 342.5 L136.8 342.3 L136.2 342.1 L135.5 341.8 L134.9 341.6 L134.2 341.4 L133.5 341.2 L132.7 341.0 L132.0 340.8 L131.3 340.6 L130.5 340.4 L129.8 340.2 L129.0 340.0 L128.3 339.8 L127.5 339.7 L126.8 339.5 L126.0 339.3 L125.3 339.1 L124.5 339.0 L123.8 338.8 L123.1 338.7 L122.4 338.5 L121.7 338.4 L121.0 338.2 L120.3 338.1 L119.7 338.0 L119.0 337.9 L118.4 337.8 L117.5 337.6 L116.6 337.5 L115.7 337.5 L114.9 337.4 L114.1 337.4 L113.3 337.4 L112.6 337.4 L111.9 337.4 L111.2 337.4 L110.5 337.4 L109.8 337.4 L109.2 337.4 L108.6 337.4 L107.9 337.4 L107.3 337.4 L106.7 337.3 L106.1 337.2 L105.4 337.1 L104.8 336.9 L104.1 336.8 L103.4 336.6 L102.8 336.5 L102.1 336.3 L101.4 336.1 L100.8 335.9 L100.1 335.7 L99.4 335.5 L98.8 335.2 L98.1 335.0 L97.5 334.7 L96.8 334.5 L96.1 334.2 L95.5 333.9 L94.8 333.6 L94.1 333.2 L93.5 332.9 L92.8 332.6 L92.3 332.3 L91.7 331.9 L91.2 331.6 L90.7 331.3 L90.2 330.9 L89.7 330.5 L89.2 330.2 L88.6 329.8 L88.1 329.4 L87.6 328.9 L87.1 328.5 L86.5 328.1 L86.0 327.6 L85.4 327.2 L84.8 326.7 L84.2 326.3 L83.6 325.8 L82.9 325.3 L82.3 324.8 L81.6 324.3 L80.9 323.8 L80.1 323.3 L79.6 323.0 L79.1 322.6 L78.5 322.3 L78.0 321.9 L77.4 321.6 L76.8 321.2 L76.3 320.9 L75.7 320.5 L75.1 320.1 L74.4 319.7 L73.8 319.4 L73.2 319.0 L72.6 318.6 L71.9 318.2 L71.3 317.8 L70.6 317.4 L70.0 317.0 L69.3 316.6 L68.7 316.3 L68.0 315.9 L67.4 315.5 L66.7 315.1 L66.1 314.7 L65.4 314.3 L64.8 313.9 L64.2 313.6 L63.5 313.2 L62.9 312.8 L62.3 312.4 L61.6 312.1 L61.0 311.7 L60.4 311.3 L59.8 311.0 L59.1 310.6 L58.5 310.2 L57.8 309.8 L57.1 309.4 L56.4 309.0 L55.7 308.6 L55.0 308.2 L54.3 307.7 L53.6 307.3 L52.9 306.9 L52.2 306.5 L51.4 306.1 L50.7 305.7 L50.0 305.3 L49.4 304.9 L48.7 304.5 L48.0 304.1 L47.4 303.8 L46.8 303.4 L46.1 303.0 L45.6 302.7 L45.0 302.4 L44.4 302.1 L43.9 301.8 L43.4 301.5 L43.0 301.2 L42.5 301.0 L42.1 300.7 L41.8 300.5 L41.5 300.3 L41.1 300.9 L41.5 301.1 L41.8 301.3 L42.2 301.5 L42.6 301.8 L43.1 302.1 L43.5 302.4 L44.0 302.7 L44.6 303.0 L45.1 303.4 L45.7 303.8 L46.3 304.1 L46.9 304.5 L47.5 304.9 L48.2 305.3 L48.8 305.8 L49.5 306.2 L50.2 306.6 L50.9 307.0 L51.6 307.5 L52.2 307.9 L52.9 308.4 L53.6 308.8 L54.3 309.3 L55.0 309.7 L55.7 310.1 L56.4 310.6 L57.0 311.0 L57.7 311.4 L58.3 311.9 L59.0 312.3 L59.6 312.7 L60.2 313.1 L60.8 313.4 L61.4 313.8 L62.0 314.2 L62.6 314.6 L63.2 315.1 L63.8 315.5 L64.5 315.9 L65.1 316.3 L65.7 316.7 L66.4 317.1 L67.0 317.5 L67.6 318.0 L68.3 318.4 L68.9 318.8 L69.5 319.2 L70.1 319.6 L70.8 320.0 L71.4 320.4 L72.0 320.9 L72.6 321.3 L73.2 321.7 L73.8 322.1 L74.4 322.5 L74.9 322.9 L75.5 323.2 L76.1 323.6 L76.6 324.0 L77.1 324.4 L77.7 324.8 L78.2 325.1 L78.7 325.5 L79.3 326.0 L80.0 326.5 L80.6 327.0 L81.3 327.5 L81.9 328.0 L82.4 328.4 L83.0 328.9 L83.5 329.4 L84.1 329.9 L84.6 330.3 L85.1 330.8 L85.7 331.3 L86.2 331.7 L86.7 332.2 L87.2 332.6 L87.8 333.0 L88.3 333.5 L88.9 333.9 L89.4 334.3 L90.0 334.7 L90.6 335.1 L91.2 335.4 L91.9 335.8 L92.6 336.2 L93.3 336.6 L94.0 337.0 L94.7 337.3 L95.4 337.7 L96.1 338.0 L96.8 338.3 L97.5 338.6 L98.2 338.9 L98.9 339.1 L99.6 339.4 L100.3 339.7 L101.0 339.9 L101.7 340.1 L102.4 340.3 L103.1 340.5 L103.9 340.7 L104.6 340.9 L105.3 341.1 L106.1 341.2 L106.9 341.4 L107.6 341.4 L108.4 341.5 L109.1 341.5 L109.8 341.6 L110.5 341.6 L111.2 341.6 L111.8 341.6 L112.5 341.6 L113.2 341.7 L113.9 341.7 L114.6 341.8 L115.3 341.8 L116.0 341.9 L116.8 342.1 L117.6 342.2 L118.2 342.3 L118.8 342.5 L119.4 342.6 L120.0 342.8 L120.7 342.9 L121.3 343.1 L122.0 343.3 L122.7 343.4 L123.4 343.6 L124.1 343.8 L124.9 344.0 L125.6 344.2 L126.3 344.4 L127.0 344.6 L127.7 344.8 L128.4 345.0 L129.2 345.3 L129.9 345.5 L130.6 345.7 L131.2 345.9 L131.9 346.1 L132.6 346.4 L133.2 346.6 L133.8 346.8 L134.4 347.1 L135.0 347.3 L135.5 347.5 L136.2 347.8 L136.9 348.1 L137.6 348.5 L138.3 348.8 L139.0 349.2 L139.7 349.6 L140.4 350.0 L141.1 350.4 L141.8 350.8 L142.4 351.3 L143.0 351.7 L143.6 352.1 L144.2 352.4 L144.8 352.8 L145.3 353.2 L145.8 353.5 L146.3 353.8 L146.7 354.1 L147.1 354.4 L147.5 354.6Z"/>
<path d="M118.8 339.7 L118.7 339.3 L118.6 338.9 L118.4 338.4 L118.3 337.9 L118.1 337.3 L118.0 336.7 L117.8 336.0 L117.6 335.3 L117.5 334.6 L117.3 333.9 L117.1 333.1 L116.9 332.3 L116.7 331.5 L116.4 330.7 L116.2 329.9 L116.0 329.2 L115.8 328.4 L115.6 327.6 L115.4 326.9 L115.1 326.2 L114.9 325.5 L114.7 324.8 L114.5 324.1 L114.2 323.3 L114.0 322.6 L113.7 321.8 L113.4 321.1 L113.1 320.3 L112.8 319.5 L112.6 318.7 L112.3 318.0 L112.0 317.3 L111.7 316.5 L111.4 315.8 L111.1 315.2 L110.9 314.5 L110.7 313.9 L110.4 313.4 L110.2 312.9 L110.0 312.4 L109.9 312.0 L109.7 311.6 L109.3 311.8 L109.4 312.1 L109.5 312.6 L109.7 313.1 L109.8 313.6 L110.0 314.2 L110.2 314.8 L110.4 315.4 L110.6 316.1 L110.9 316.8 L111.1 317.6 L111.3 318.3 L111.6 319.1 L111.8 319.9 L112.0 320.7 L112.3 321.4 L112.5 322.2 L112.7 323.0 L112.9 323.7 L113.1 324.5 L113.3 325.2 L113.4 325.9 L113.6 326.6 L113.8 327.3 L113.9 328.0 L114.1 328.8 L114.2 329.6 L114.4 330.4 L114.5 331.2 L114.7 332.0 L114.9 332.8 L115.0 333.6 L115.1 334.3 L115.3 335.1 L115.4 335.8 L115.5 336.5 L115.7 337.2 L115.8 337.8 L115.9 338.4 L116.0 339.0 L116.1 339.5 L116.2 339.9 L116.2 340.3Z"/>
<path d="M94.9 337.7 L94.5 337.8 L94.1 338.0 L93.6 338.1 L93.1 338.2 L92.5 338.4 L91.9 338.6 L91.3 338.7 L90.6 338.9 L89.9 339.1 L89.1 339.3 L88.4 339.5 L87.6 339.8 L86.8 340.0 L86.0 340.2 L85.2 340.4 L84.4 340.6 L83.6 340.8 L82.9 341.0 L82.1 341.2 L81.3 341.4 L80.6 341.6 L79.9 341.7 L79.2 341.9 L78.4 342.0 L77.7 342.2 L76.9 342.3 L76.1 342.5 L75.3 342.7 L74.4 342.8 L73.6 343.0 L72.8 343.1 L72.0 343.3 L71.1 343.4 L70.3 343.6 L69.5 343.7 L68.8 343.8 L68.0 344.0 L67.3 344.1 L66.6 344.2 L66.0 344.3 L65.4 344.4 L64.8 344.5 L64.3 344.6 L63.9 344.7 L63.5 344.8 L63.5 345.2 L63.9 345.2 L64.4 345.2 L64.9 345.1 L65.5 345.0 L66.1 345.0 L66.7 344.9 L67.4 344.8 L68.1 344.8 L68.9 344.7 L69.7 344.6 L70.5 344.5 L71.3 344.4 L72.1 344.3 L73.0 344.2 L73.8 344.1 L74.6 344.0 L75.5 343.9 L76.3 343.8 L77.1 343.7 L77.9 343.6 L78.7 343.5 L79.4 343.4 L80.1 343.3 L80.9 343.2 L81.7 343.0 L82.4 342.9 L83.2 342.8 L84.0 342.6 L84.9 342.4 L85.7 342.3 L86.5 342.1 L87.3 342.0 L88.1 341.8 L88.9 341.6 L89.7 341.5 L90.4 341.3 L91.1 341.2 L91.8 341.0 L92.5 340.9 L93.1 340.8 L93.7 340.6 L94.2 340.5 L94.7 340.4 L95.1 340.3 L95.5 340.3Z"/>
<path d="M151.8 355.7 L152.2 355.7 L151.4 347.3 L151.0 347.4 L148.4 347.9 L148.0 347.9 L147.6 348.0 L147.2 348.1 L146.7 348.2 L146.1 348.2 L145.6 348.3 L145.0 348.4 L144.4 348.5 L143.8 348.6 L143.1 348.7 L142.4 348.8 L141.7 348.9 L141.0 349.0 L140.3 349.1 L139.5 349.2 L138.7 349.3 L138.0 349.4 L137.2 349.5 L136.4 349.7 L135.6 349.8 L134.8 349.9 L133.9 350.0 L133.1 350.2 L132.3 350.3 L131.5 350.4 L130.7 350.6 L129.9 350.7 L129.1 350.8 L128.3 351.0 L127.5 351.1 L126.7 351.3 L125.9 351.4 L125.2 351.6 L124.4 351.7 L123.7 351.9 L123.0 352.0 L122.3 352.2 L121.6 352.4 L121.0 352.5 L120.3 352.7 L119.7 352.9 L118.8 353.1 L117.8 353.5 L116.9 353.8 L116.1 354.1 L115.2 354.5 L114.3 354.8 L113.5 355.2 L112.7 355.6 L111.9 356.0 L111.2 356.4 L110.4 356.8 L109.7 357.2 L109.0 357.6 L108.4 357.9 L107.7 358.3 L107.1 358.7 L106.5 359.0 L106.0 359.4 L105.4 359.7 L104.9 360.0 L104.5 360.3 L104.0 360.5 L103.6 360.8 L103.3 361.0 L103.0 361.2 L102.7 361.3 L105.3 366.7 L105.7 366.5 L106.1 366.3 L106.6 366.1 L107.0 365.8 L107.5 365.6 L108.0 365.3 L108.5 365.0 L109.0 364.7 L109.6 364.4 L110.2 364.1 L110.8 363.8 L111.4 363.5 L112.0 363.2 L112.7 362.8 L113.3 362.5 L114.0 362.2 L114.7 361.9 L115.4 361.6 L116.2 361.3 L116.9 361.0 L117.6 360.7 L118.4 360.4 L119.2 360.2 L119.9 359.9 L120.7 359.7 L121.5 359.5 L122.0 359.4 L122.6 359.3 L123.1 359.2 L123.7 359.1 L124.4 359.0 L125.0 358.8 L125.7 358.7 L126.4 358.6 L127.1 358.5 L127.9 358.4 L128.6 358.3 L129.4 358.2 L130.2 358.1 L130.9 358.0 L131.7 357.9 L132.5 357.8 L133.3 357.7 L134.1 357.7 L134.9 357.6 L135.7 357.5 L136.5 357.4 L137.3 357.3 L138.1 357.2 L138.9 357.2 L139.7 357.1 L140.4 357.0 L141.2 357.0 L141.9 356.9 L142.7 356.8 L143.4 356.7 L144.1 356.7 L144.7 356.6 L145.4 356.6 L146.0 356.5 L146.6 356.4 L147.2 356.4 L147.7 356.3 L148.2 356.3 L148.7 356.2 L149.2 356.2 L149.6 356.1 L152.3 355.8 L153.2 355.6 L151.9 347.3 L152.2 347.3Z"/>
<path d="M103.8 362.2 L103.4 362.3 L103.0 362.3 L102.5 362.4 L102.0 362.5 L101.4 362.6 L100.8 362.7 L100.1 362.8 L99.5 362.9 L98.8 363.0 L98.0 363.1 L97.3 363.2 L96.5 363.4 L95.7 363.5 L94.9 363.6 L94.1 363.7 L93.3 363.9 L92.5 364.0 L91.6 364.1 L90.8 364.2 L90.0 364.4 L89.2 364.5 L88.4 364.6 L87.7 364.7 L86.9 364.9 L86.2 365.0 L85.5 365.1 L84.8 365.2 L84.1 365.3 L83.3 365.4 L82.6 365.5 L81.9 365.6 L81.3 365.7 L80.6 365.9 L80.0 366.0 L79.3 366.1 L78.7 366.2 L78.1 366.3 L77.4 366.4 L76.8 366.5 L76.2 366.6 L75.5 366.7 L74.8 366.8 L74.1 366.9 L73.4 367.0 L72.7 367.1 L71.9 367.2 L71.1 367.3 L70.3 367.4 L69.4 367.5 L68.5 367.6 L68.0 367.6 L67.3 367.7 L66.7 367.7 L66.0 367.8 L65.3 367.8 L64.6 367.9 L63.9 368.0 L63.1 368.0 L62.4 368.1 L61.6 368.1 L60.8 368.2 L60.0 368.2 L59.2 368.3 L58.3 368.4 L57.5 368.4 L56.7 368.5 L55.9 368.5 L55.0 368.6 L54.2 368.6 L53.4 368.7 L52.6 368.7 L51.8 368.8 L51.0 368.8 L50.2 368.9 L49.4 368.9 L48.7 369.0 L48.0 369.0 L47.3 369.1 L46.6 369.1 L45.9 369.1 L45.3 369.2 L44.7 369.2 L44.2 369.3 L43.6 369.3 L43.1 369.3 L42.7 369.3 L42.3 369.4 L41.9 369.4 L41.9 370.0 L42.3 370.0 L42.7 370.0 L43.2 370.0 L43.6 370.0 L44.2 370.0 L44.7 370.0 L45.3 369.9 L46.0 369.9 L46.6 369.9 L47.3 369.9 L48.0 369.9 L48.7 369.9 L49.5 369.9 L50.2 369.9 L51.0 369.9 L51.8 369.9 L52.6 369.8 L53.4 369.8 L54.2 369.8 L55.1 369.8 L55.9 369.8 L56.7 369.8 L57.6 369.8 L58.4 369.7 L59.2 369.7 L60.1 369.7 L60.9 369.7 L61.7 369.7 L62.5 369.7 L63.2 369.6 L64.0 369.6 L64.7 369.6 L65.4 369.6 L66.1 369.5 L66.8 369.5 L67.5 369.5 L68.1 369.5 L68.7 369.4 L69.6 369.4 L70.5 369.3 L71.3 369.3 L72.1 369.2 L72.9 369.2 L73.7 369.1 L74.4 369.0 L75.1 369.0 L75.8 368.9 L76.5 368.8 L77.1 368.8 L77.8 368.7 L78.4 368.6 L79.0 368.5 L79.7 368.5 L80.3 368.4 L81.0 368.3 L81.6 368.2 L82.3 368.1 L83.0 368.1 L83.7 368.0 L84.4 367.9 L85.2 367.8 L85.8 367.8 L86.5 367.7 L87.3 367.6 L88.0 367.5 L88.8 367.4 L89.6 367.4 L90.4 367.3 L91.2 367.2 L92.0 367.1 L92.9 367.0 L93.7 366.9 L94.5 366.8 L95.3 366.7 L96.1 366.7 L96.9 366.6 L97.7 366.5 L98.5 366.4 L99.2 366.3 L99.9 366.3 L100.6 366.2 L101.2 366.1 L101.8 366.0 L102.4 366.0 L102.9 365.9 L103.4 365.9 L103.9 365.8 L104.2 365.8Z"/>
<path d="M69.4 368.1 L69.1 368.3 L68.7 368.5 L68.3 368.8 L67.8 369.1 L67.3 369.4 L66.8 369.7 L66.3 370.1 L65.7 370.4 L65.1 370.8 L64.4 371.2 L63.8 371.7 L63.1 372.1 L62.4 372.5 L61.7 373.0 L61.0 373.4 L60.3 373.9 L59.5 374.3 L58.8 374.8 L58.1 375.2 L57.4 375.7 L56.7 376.1 L56.0 376.6 L55.3 377.0 L54.6 377.4 L54.1 377.8 L53.5 378.1 L52.9 378.5 L52.2 378.9 L51.6 379.3 L50.9 379.7 L50.2 380.2 L49.5 380.6 L48.8 381.0 L48.1 381.5 L47.4 381.9 L46.8 382.3 L46.1 382.8 L45.4 383.2 L44.7 383.6 L44.0 384.0 L43.4 384.4 L42.8 384.8 L42.2 385.2 L41.6 385.5 L41.0 385.9 L40.5 386.2 L40.0 386.5 L39.5 386.8 L39.1 387.1 L38.7 387.4 L38.3 387.6 L38.0 387.8 L38.2 388.2 L38.6 388.0 L38.9 387.8 L39.3 387.6 L39.8 387.3 L40.3 387.1 L40.8 386.8 L41.4 386.5 L41.9 386.1 L42.5 385.8 L43.2 385.5 L43.8 385.1 L44.5 384.7 L45.1 384.3 L45.8 383.9 L46.5 383.6 L47.3 383.2 L48.0 382.8 L48.7 382.4 L49.4 382.0 L50.1 381.6 L50.8 381.2 L51.5 380.8 L52.2 380.4 L52.9 380.0 L53.5 379.6 L54.2 379.3 L54.8 378.9 L55.4 378.6 L56.0 378.2 L56.7 377.8 L57.5 377.4 L58.2 377.0 L58.9 376.6 L59.7 376.2 L60.4 375.7 L61.1 375.3 L61.9 374.9 L62.6 374.5 L63.3 374.1 L64.0 373.7 L64.7 373.3 L65.4 372.9 L66.1 372.5 L66.7 372.2 L67.3 371.8 L67.9 371.5 L68.4 371.2 L68.9 370.9 L69.4 370.6 L69.8 370.4 L70.2 370.1 L70.6 369.9Z"/>
<path d="M102.1 362.3 L101.9 362.6 L101.6 362.9 L101.3 363.3 L101.0 363.7 L100.6 364.1 L100.3 364.5 L99.9 364.9 L99.5 365.4 L99.0 365.9 L98.6 366.4 L98.1 367.0 L97.7 367.5 L97.2 368.1 L96.7 368.7 L96.2 369.2 L95.7 369.8 L95.1 370.4 L94.6 371.1 L94.1 371.7 L93.5 372.3 L93.0 372.9 L92.5 373.6 L91.9 374.2 L91.4 374.8 L90.9 375.4 L90.3 376.0 L89.8 376.6 L89.3 377.2 L88.8 377.8 L88.3 378.4 L87.8 379.0 L87.3 379.5 L86.8 380.1 L86.4 380.6 L85.9 381.2 L85.4 381.7 L84.9 382.3 L84.4 382.9 L84.0 383.5 L83.5 384.1 L83.0 384.7 L82.6 385.2 L82.1 385.8 L81.7 386.4 L81.2 386.9 L80.8 387.5 L80.3 388.0 L79.9 388.6 L79.4 389.1 L79.0 389.7 L78.6 390.2 L78.1 390.7 L77.7 391.3 L77.2 391.8 L76.8 392.3 L76.3 392.8 L75.9 393.3 L75.4 393.8 L74.9 394.3 L74.5 394.8 L74.0 395.2 L73.5 395.7 L73.0 396.2 L72.5 396.6 L72.0 397.1 L71.5 397.5 L70.9 398.0 L70.3 398.4 L69.7 398.9 L69.1 399.3 L68.4 399.8 L67.8 400.3 L67.1 400.7 L66.4 401.2 L65.8 401.6 L65.1 402.1 L64.4 402.5 L63.7 402.9 L63.1 403.3 L62.4 403.8 L61.7 404.2 L61.1 404.6 L60.5 404.9 L59.8 405.3 L59.2 405.7 L58.7 406.0 L58.1 406.4 L57.6 406.7 L57.1 407.0 L56.6 407.3 L56.2 407.5 L55.8 407.8 L55.4 408.0 L55.1 408.2 L56.7 410.8 L57.0 410.6 L57.4 410.4 L57.8 410.1 L58.2 409.9 L58.7 409.6 L59.2 409.3 L59.7 409.0 L60.2 408.7 L60.8 408.4 L61.4 408.1 L62.1 407.7 L62.7 407.3 L63.4 406.9 L64.1 406.6 L64.8 406.2 L65.5 405.7 L66.2 405.3 L66.9 404.9 L67.6 404.5 L68.3 404.0 L69.0 403.6 L69.7 403.1 L70.4 402.7 L71.1 402.2 L71.8 401.7 L72.4 401.3 L73.1 400.8 L73.7 400.3 L74.3 399.9 L74.9 399.4 L75.4 398.9 L76.0 398.4 L76.5 397.9 L77.1 397.4 L77.6 396.9 L78.1 396.4 L78.6 395.9 L79.1 395.4 L79.6 394.9 L80.1 394.4 L80.6 393.8 L81.1 393.3 L81.5 392.8 L82.0 392.2 L82.5 391.7 L82.9 391.1 L83.4 390.6 L83.9 390.0 L84.3 389.5 L84.8 388.9 L85.3 388.4 L85.7 387.8 L86.2 387.3 L86.7 386.7 L87.2 386.2 L87.6 385.6 L88.1 385.1 L88.6 384.5 L89.1 384.0 L89.6 383.4 L90.1 382.9 L90.5 382.4 L91.0 381.9 L91.5 381.3 L92.0 380.8 L92.6 380.2 L93.1 379.6 L93.7 379.0 L94.2 378.4 L94.8 377.8 L95.3 377.2 L95.9 376.6 L96.4 376.0 L97.0 375.4 L97.5 374.8 L98.1 374.2 L98.6 373.6 L99.2 373.0 L99.7 372.4 L100.2 371.8 L100.8 371.2 L101.3 370.7 L101.7 370.2 L102.2 369.6 L102.7 369.1 L103.1 368.7 L103.5 368.2 L103.9 367.8 L104.3 367.3 L104.7 366.9 L105.0 366.6 L105.3 366.2 L105.6 365.9 L105.9 365.7Z"/>
<path d="M56.0 408.2 L55.6 408.2 L55.2 408.2 L54.7 408.1 L54.2 408.1 L53.7 408.1 L53.1 408.0 L52.5 408.0 L51.8 408.0 L51.2 407.9 L50.5 407.9 L49.8 407.9 L49.0 407.8 L48.3 407.8 L47.5 407.7 L46.7 407.7 L45.9 407.7 L45.1 407.6 L44.2 407.6 L43.4 407.5 L42.5 407.5 L41.7 407.4 L40.8 407.4 L40.0 407.4 L39.2 407.3 L38.3 407.3 L37.5 407.3 L36.7 407.2 L35.8 407.2 L35.0 407.2 L34.4 407.2 L33.7 407.1 L33.0 407.1 L32.2 407.1 L31.5 407.1 L30.7 407.1 L29.9 407.1 L29.1 407.0 L28.3 407.0 L27.5 407.0 L26.7 407.0 L25.9 407.0 L25.0 407.0 L24.2 406.9 L23.4 406.9 L22.5 406.9 L21.7 406.9 L20.9 406.9 L20.1 406.9 L19.3 406.9 L18.5 406.9 L17.8 406.9 L17.0 406.8 L16.3 406.8 L15.6 406.8 L14.9 406.8 L14.3 406.8 L13.6 406.8 L13.1 406.8 L12.5 406.8 L12.0 406.8 L11.5 406.8 L11.0 406.8 L10.6 406.8 L10.2 406.8 L10.2 407.2 L10.6 407.3 L11.0 407.3 L11.4 407.3 L11.9 407.4 L12.5 407.4 L13.0 407.4 L13.6 407.5 L14.2 407.5 L14.9 407.5 L15.6 407.6 L16.3 407.6 L17.0 407.7 L17.7 407.7 L18.5 407.7 L19.3 407.8 L20.1 407.8 L20.9 407.9 L21.7 407.9 L22.5 408.0 L23.3 408.0 L24.1 408.1 L25.0 408.1 L25.8 408.2 L26.6 408.2 L27.4 408.3 L28.3 408.3 L29.1 408.4 L29.9 408.5 L30.6 408.5 L31.4 408.6 L32.2 408.6 L32.9 408.7 L33.6 408.7 L34.3 408.8 L35.0 408.8 L35.7 408.9 L36.6 408.9 L37.4 409.0 L38.2 409.1 L39.0 409.2 L39.9 409.2 L40.7 409.3 L41.6 409.4 L42.4 409.5 L43.2 409.5 L44.1 409.6 L44.9 409.7 L45.7 409.8 L46.5 409.9 L47.3 409.9 L48.1 410.0 L48.8 410.1 L49.6 410.2 L50.3 410.2 L51.0 410.3 L51.7 410.4 L52.3 410.4 L52.9 410.5 L53.5 410.6 L54.0 410.6 L54.5 410.7 L55.0 410.7 L55.4 410.8 L55.8 410.8Z"/>
<path d="M55.1 408.4 L54.8 408.7 L54.5 408.9 L54.1 409.2 L53.8 409.5 L53.4 409.8 L52.9 410.2 L52.5 410.5 L52.0 410.9 L51.5 411.3 L51.0 411.7 L50.5 412.1 L50.0 412.5 L49.4 413.0 L48.8 413.5 L48.3 413.9 L47.7 414.4 L47.0 414.9 L46.4 415.4 L45.8 415.9 L45.2 416.4 L44.5 416.9 L43.9 417.4 L43.2 417.9 L42.6 418.4 L41.9 418.9 L41.3 419.4 L40.6 419.9 L40.0 420.3 L39.3 420.8 L38.7 421.3 L38.0 421.8 L37.4 422.2 L36.8 422.7 L36.1 423.1 L35.5 423.5 L34.9 423.9 L34.3 424.3 L33.8 424.7 L33.2 425.0 L32.6 425.4 L32.0 425.8 L31.3 426.1 L30.6 426.5 L29.9 426.9 L29.2 427.3 L28.4 427.6 L27.7 428.0 L27.0 428.4 L26.2 428.7 L25.4 429.1 L24.7 429.4 L23.9 429.7 L23.2 430.0 L22.4 430.4 L21.7 430.7 L21.0 431.0 L20.2 431.3 L19.5 431.5 L18.8 431.8 L18.1 432.1 L17.5 432.3 L16.8 432.6 L16.2 432.8 L15.6 433.1 L15.0 433.3 L14.4 433.5 L13.9 433.7 L13.4 433.9 L12.9 434.1 L12.4 434.3 L12.0 434.5 L11.7 434.6 L11.3 434.8 L11.5 435.2 L11.8 435.1 L12.2 435.0 L12.6 434.8 L13.1 434.6 L13.6 434.5 L14.1 434.3 L14.6 434.1 L15.2 433.9 L15.8 433.7 L16.4 433.5 L17.1 433.3 L17.7 433.1 L18.4 432.8 L19.1 432.6 L19.8 432.3 L20.6 432.1 L21.3 431.8 L22.0 431.5 L22.8 431.3 L23.6 431.0 L24.3 430.7 L25.1 430.4 L25.9 430.1 L26.7 429.8 L27.4 429.4 L28.2 429.1 L29.0 428.8 L29.7 428.4 L30.5 428.1 L31.2 427.7 L31.9 427.4 L32.7 427.0 L33.4 426.6 L33.9 426.3 L34.5 426.0 L35.1 425.6 L35.8 425.2 L36.4 424.9 L37.0 424.5 L37.7 424.0 L38.3 423.6 L39.0 423.2 L39.7 422.7 L40.3 422.3 L41.0 421.8 L41.7 421.4 L42.4 420.9 L43.1 420.4 L43.7 419.9 L44.4 419.5 L45.1 419.0 L45.8 418.5 L46.4 418.0 L47.1 417.5 L47.7 417.1 L48.4 416.6 L49.0 416.2 L49.6 415.7 L50.2 415.3 L50.8 414.8 L51.4 414.4 L51.9 414.0 L52.5 413.6 L53.0 413.2 L53.5 412.8 L54.0 412.5 L54.4 412.1 L54.9 411.8 L55.3 411.5 L55.7 411.2 L56.0 411.0 L56.4 410.8 L56.7 410.6Z"/>
<path d="M72.0 397.4 L71.9 397.8 L71.7 398.2 L71.6 398.7 L71.4 399.3 L71.2 399.9 L71.0 400.5 L70.8 401.2 L70.5 401.9 L70.3 402.7 L70.0 403.4 L69.8 404.2 L69.5 405.0 L69.2 405.8 L69.0 406.6 L68.7 407.5 L68.4 408.3 L68.2 409.1 L67.9 409.9 L67.7 410.6 L67.4 411.4 L67.2 412.1 L67.0 412.8 L66.8 413.4 L66.6 414.0 L66.5 414.5 L66.2 415.5 L66.0 416.4 L65.8 417.1 L65.7 417.7 L65.5 418.2 L65.4 418.7 L65.3 419.3 L65.2 419.8 L65.1 420.4 L65.0 421.2 L64.8 422.1 L64.5 423.2 L64.4 423.7 L64.3 424.2 L64.2 424.9 L64.0 425.5 L63.8 426.2 L63.7 426.9 L63.5 427.7 L63.3 428.5 L63.1 429.3 L62.9 430.1 L62.7 430.9 L62.5 431.7 L62.3 432.6 L62.1 433.4 L62.0 434.3 L61.8 435.1 L61.6 435.9 L61.4 436.7 L61.2 437.5 L61.0 438.3 L60.8 439.0 L60.7 439.7 L60.5 440.4 L60.4 441.0 L60.2 441.6 L60.1 442.2 L60.0 442.7 L59.9 443.1 L59.8 443.5 L62.2 444.1 L62.3 443.7 L62.4 443.3 L62.6 442.8 L62.7 442.2 L62.8 441.7 L63.0 441.0 L63.2 440.4 L63.4 439.7 L63.6 438.9 L63.8 438.2 L64.0 437.4 L64.2 436.6 L64.4 435.8 L64.6 434.9 L64.8 434.1 L65.0 433.3 L65.2 432.4 L65.5 431.6 L65.7 430.8 L65.9 429.9 L66.1 429.1 L66.3 428.4 L66.5 427.6 L66.7 426.9 L66.8 426.2 L67.0 425.6 L67.2 424.9 L67.3 424.4 L67.5 423.8 L67.7 422.7 L67.9 421.8 L68.1 421.1 L68.3 420.4 L68.4 419.8 L68.5 419.3 L68.6 418.9 L68.7 418.4 L68.8 417.8 L69.0 417.2 L69.2 416.4 L69.5 415.5 L69.7 414.9 L69.9 414.4 L70.1 413.7 L70.3 413.1 L70.5 412.4 L70.8 411.7 L71.1 410.9 L71.3 410.1 L71.6 409.3 L71.9 408.5 L72.2 407.7 L72.4 406.9 L72.7 406.1 L73.0 405.3 L73.3 404.5 L73.6 403.8 L73.8 403.0 L74.1 402.3 L74.3 401.7 L74.5 401.0 L74.8 400.4 L74.9 399.9 L75.1 399.4 L75.3 398.9 L75.4 398.6Z"/>
<path d="M60.2 442.9 L59.9 443.1 L59.6 443.4 L59.3 443.7 L58.9 444.0 L58.5 444.4 L58.1 444.8 L57.7 445.1 L57.3 445.6 L56.8 446.0 L56.4 446.4 L55.9 446.9 L55.4 447.4 L54.8 447.9 L54.3 448.4 L53.8 448.9 L53.2 449.4 L52.7 449.9 L52.1 450.5 L51.5 451.0 L50.9 451.6 L50.3 452.1 L49.7 452.7 L49.1 453.2 L48.5 453.8 L47.9 454.3 L47.3 454.9 L46.6 455.5 L46.0 456.0 L45.4 456.5 L44.8 457.1 L44.2 457.6 L43.6 458.1 L43.0 458.6 L42.4 459.1 L41.8 459.6 L41.2 460.1 L40.7 460.5 L40.1 461.0 L39.6 461.4 L39.0 461.8 L38.4 462.3 L37.8 462.7 L37.2 463.2 L36.5 463.6 L35.9 464.1 L35.2 464.5 L34.5 465.0 L33.9 465.4 L33.2 465.9 L32.5 466.3 L31.8 466.8 L31.1 467.2 L30.4 467.6 L29.7 468.1 L29.1 468.5 L28.4 468.9 L27.7 469.3 L27.0 469.7 L26.4 470.1 L25.7 470.5 L25.1 470.9 L24.4 471.3 L23.8 471.7 L23.2 472.0 L22.6 472.4 L22.1 472.7 L21.5 473.1 L21.0 473.4 L20.5 473.7 L20.0 474.0 L19.5 474.2 L19.1 474.5 L18.7 474.7 L18.3 475.0 L18.0 475.2 L17.7 475.4 L17.9 475.8 L18.2 475.6 L18.6 475.4 L19.0 475.2 L19.4 475.0 L19.8 474.7 L20.3 474.5 L20.8 474.2 L21.3 473.9 L21.8 473.6 L22.4 473.3 L23.0 473.0 L23.6 472.7 L24.2 472.3 L24.8 472.0 L25.5 471.6 L26.1 471.3 L26.8 470.9 L27.5 470.5 L28.2 470.1 L28.9 469.7 L29.6 469.4 L30.3 468.9 L31.0 468.5 L31.7 468.1 L32.4 467.7 L33.1 467.3 L33.8 466.9 L34.5 466.4 L35.2 466.0 L35.9 465.6 L36.6 465.2 L37.3 464.7 L37.9 464.3 L38.6 463.9 L39.2 463.4 L39.8 463.0 L40.4 462.6 L41.0 462.2 L41.6 461.8 L42.2 461.3 L42.8 460.9 L43.4 460.4 L44.0 459.9 L44.6 459.4 L45.3 458.9 L45.9 458.4 L46.5 457.9 L47.2 457.4 L47.8 456.8 L48.5 456.3 L49.1 455.8 L49.7 455.2 L50.4 454.7 L51.0 454.1 L51.6 453.6 L52.3 453.1 L52.9 452.5 L53.5 452.0 L54.1 451.5 L54.7 451.0 L55.2 450.5 L55.8 450.0 L56.4 449.5 L56.9 449.0 L57.4 448.6 L57.9 448.1 L58.4 447.7 L58.9 447.3 L59.3 446.9 L59.7 446.5 L60.2 446.2 L60.5 445.8 L60.9 445.5 L61.2 445.2 L61.5 445.0 L61.8 444.7Z"/>
<path d="M60.0 444.3 L60.2 444.6 L60.4 445.0 L60.6 445.5 L60.9 446.0 L61.2 446.5 L61.5 447.1 L61.8 447.7 L62.1 448.3 L62.4 449.0 L62.8 449.7 L63.2 450.4 L63.5 451.1 L63.9 451.8 L64.3 452.6 L64.7 453.3 L65.1 454.0 L65.5 454.8 L65.9 455.5 L66.3 456.2 L66.6 457.0 L67.0 457.6 L67.4 458.3 L67.7 458.9 L68.1 459.6 L68.5 460.2 L68.9 460.9 L69.2 461.6 L69.7 462.3 L70.1 463.0 L70.5 463.8 L70.9 464.5 L71.3 465.2 L71.7 465.9 L72.1 466.6 L72.6 467.3 L73.0 468.0 L73.3 468.6 L73.7 469.3 L74.1 469.9 L74.4 470.4 L74.7 471.0 L75.0 471.5 L75.3 472.0 L75.6 472.4 L75.8 472.8 L76.0 473.1 L76.4 472.9 L76.2 472.5 L76.0 472.1 L75.8 471.7 L75.6 471.2 L75.3 470.7 L75.0 470.1 L74.7 469.5 L74.3 468.9 L74.0 468.3 L73.7 467.6 L73.3 466.9 L72.9 466.2 L72.6 465.4 L72.2 464.7 L71.8 464.0 L71.4 463.2 L71.0 462.5 L70.7 461.8 L70.3 461.0 L69.9 460.3 L69.6 459.6 L69.2 459.0 L68.9 458.3 L68.6 457.7 L68.3 457.0 L67.9 456.3 L67.6 455.6 L67.3 454.8 L66.9 454.1 L66.5 453.3 L66.2 452.6 L65.8 451.8 L65.5 451.0 L65.2 450.3 L64.8 449.6 L64.5 448.8 L64.2 448.1 L63.9 447.5 L63.6 446.8 L63.3 446.2 L63.0 445.6 L62.8 445.0 L62.5 444.5 L62.3 444.1 L62.2 443.7 L62.0 443.3Z"/>
<path d="M101.8 364.3 L101.8 364.6 L101.9 365.1 L101.9 365.5 L102.0 366.0 L102.1 366.6 L102.1 367.2 L102.2 367.8 L102.3 368.4 L102.4 369.1 L102.4 369.8 L102.5 370.6 L102.6 371.3 L102.7 372.1 L102.8 372.9 L102.9 373.7 L103.0 374.5 L103.1 375.3 L103.2 376.1 L103.3 377.0 L103.5 377.8 L103.6 378.7 L103.7 379.5 L103.8 380.3 L103.9 381.1 L104.1 381.9 L104.2 382.7 L104.3 383.5 L104.5 384.3 L104.6 385.0 L104.7 385.8 L104.9 386.5 L105.0 387.3 L105.2 388.0 L105.4 388.8 L105.6 389.6 L105.8 390.5 L106.0 391.3 L106.2 392.1 L106.4 392.9 L106.6 393.7 L106.8 394.5 L107.0 395.4 L107.2 396.2 L107.5 397.0 L107.7 397.7 L107.9 398.5 L108.1 399.3 L108.3 400.0 L108.5 400.7 L108.7 401.4 L108.9 402.1 L109.1 402.7 L109.2 403.3 L109.4 403.9 L109.5 404.4 L109.7 404.9 L109.8 405.3 L109.9 405.8 L110.0 406.1 L113.4 405.3 L113.3 404.9 L113.2 404.5 L113.1 404.0 L113.0 403.5 L112.8 403.0 L112.7 402.4 L112.5 401.8 L112.4 401.1 L112.2 400.5 L112.0 399.8 L111.8 399.1 L111.6 398.3 L111.5 397.6 L111.3 396.8 L111.1 396.0 L110.9 395.2 L110.7 394.4 L110.5 393.6 L110.3 392.8 L110.1 392.0 L109.9 391.2 L109.7 390.4 L109.6 389.6 L109.4 388.8 L109.2 388.0 L109.1 387.2 L108.9 386.5 L108.8 385.8 L108.7 385.0 L108.5 384.3 L108.4 383.6 L108.3 382.9 L108.2 382.1 L108.1 381.4 L108.0 380.6 L107.9 379.8 L107.8 378.9 L107.7 378.1 L107.6 377.3 L107.5 376.5 L107.4 375.6 L107.3 374.8 L107.2 374.0 L107.2 373.2 L107.1 372.4 L107.0 371.6 L106.9 370.8 L106.9 370.1 L106.8 369.4 L106.7 368.6 L106.7 368.0 L106.6 367.3 L106.5 366.7 L106.5 366.1 L106.4 365.5 L106.4 365.0 L106.3 364.6 L106.3 364.1 L106.2 363.7Z"/>
<path d="M110.9 406.4 L111.1 406.7 L111.5 407.1 L111.8 407.4 L112.2 407.9 L112.6 408.3 L113.1 408.8 L113.6 409.3 L114.1 409.8 L114.6 410.3 L115.1 410.9 L115.7 411.5 L116.2 412.1 L116.8 412.7 L117.4 413.3 L117.9 413.9 L118.5 414.6 L119.0 415.2 L119.5 415.9 L120.0 416.5 L120.5 417.1 L121.0 417.8 L121.4 418.4 L121.8 419.0 L122.2 419.6 L122.6 420.2 L123.0 420.9 L123.3 421.6 L123.7 422.3 L124.1 423.0 L124.5 423.8 L124.9 424.5 L125.3 425.3 L125.6 426.1 L126.0 426.8 L126.3 427.5 L126.7 428.3 L127.0 429.0 L127.3 429.6 L127.6 430.3 L127.9 430.9 L128.2 431.5 L128.4 432.1 L128.7 432.6 L128.9 433.0 L129.1 433.5 L129.3 433.8 L129.7 433.6 L129.6 433.2 L129.4 432.8 L129.2 432.4 L129.0 431.8 L128.8 431.3 L128.5 430.7 L128.3 430.0 L128.0 429.4 L127.7 428.7 L127.4 427.9 L127.1 427.2 L126.8 426.4 L126.5 425.7 L126.1 424.9 L125.8 424.1 L125.5 423.3 L125.1 422.6 L124.8 421.8 L124.4 421.0 L124.0 420.3 L123.7 419.6 L123.3 418.9 L122.9 418.3 L122.6 417.6 L122.2 417.0 L121.7 416.3 L121.3 415.6 L120.8 414.9 L120.3 414.2 L119.7 413.6 L119.2 412.9 L118.7 412.2 L118.1 411.5 L117.6 410.9 L117.1 410.3 L116.5 409.6 L116.0 409.0 L115.5 408.5 L115.0 407.9 L114.6 407.4 L114.2 406.9 L113.8 406.4 L113.4 406.0 L113.1 405.6 L112.8 405.3 L112.5 405.0Z"/>
<path d="M110.0 405.3 L109.9 405.7 L109.8 406.1 L109.8 406.5 L109.7 407.0 L109.6 407.5 L109.5 408.0 L109.4 408.5 L109.3 409.1 L109.2 409.7 L109.1 410.3 L109.0 410.9 L108.9 411.6 L108.8 412.3 L108.6 413.0 L108.5 413.7 L108.4 414.4 L108.2 415.1 L108.1 415.9 L107.9 416.7 L107.8 417.5 L107.6 418.3 L107.5 419.1 L107.3 419.9 L107.2 420.7 L107.0 421.5 L106.8 422.3 L106.6 423.2 L106.4 424.0 L106.3 424.9 L106.1 425.7 L105.9 426.6 L105.7 427.4 L105.4 428.3 L105.3 428.8 L105.1 429.4 L105.0 430.0 L104.8 430.6 L104.6 431.3 L104.5 431.9 L104.3 432.6 L104.1 433.2 L103.9 433.9 L103.7 434.6 L103.5 435.3 L103.3 436.0 L103.1 436.7 L102.9 437.4 L102.7 438.1 L102.5 438.8 L102.3 439.6 L102.0 440.3 L101.8 441.0 L101.6 441.8 L101.4 442.5 L101.2 443.3 L100.9 444.0 L100.7 444.8 L100.5 445.5 L100.3 446.2 L100.0 447.0 L99.8 447.7 L99.6 448.4 L99.4 449.2 L99.2 449.9 L99.0 450.6 L98.7 451.3 L98.5 452.0 L98.3 452.7 L98.1 453.4 L97.9 454.1 L97.7 454.8 L97.5 455.5 L97.3 456.1 L97.2 456.8 L97.0 457.4 L96.8 458.0 L96.6 458.6 L96.5 459.2 L96.3 459.8 L96.2 460.3 L96.0 460.9 L95.9 461.4 L95.6 462.4 L95.4 463.4 L95.2 464.3 L95.0 465.2 L94.8 466.1 L94.6 467.0 L94.4 467.8 L94.2 468.7 L94.1 469.5 L93.9 470.3 L93.8 471.0 L93.7 471.8 L93.5 472.5 L93.4 473.2 L93.3 473.8 L93.2 474.5 L93.1 475.1 L93.0 475.7 L92.9 476.2 L92.8 476.8 L92.8 477.3 L92.7 477.7 L92.6 478.2 L92.5 478.6 L92.5 479.0 L92.4 479.3 L93.0 479.5 L93.1 479.1 L93.2 478.7 L93.2 478.3 L93.3 477.9 L93.4 477.4 L93.5 476.9 L93.6 476.4 L93.7 475.8 L93.9 475.2 L94.0 474.6 L94.1 474.0 L94.2 473.3 L94.4 472.6 L94.5 471.9 L94.7 471.2 L94.9 470.5 L95.0 469.7 L95.2 468.9 L95.4 468.1 L95.6 467.2 L95.9 466.4 L96.1 465.5 L96.3 464.6 L96.6 463.7 L96.8 462.7 L97.1 461.8 L97.3 461.3 L97.4 460.7 L97.6 460.2 L97.8 459.6 L98.0 459.0 L98.2 458.4 L98.4 457.8 L98.6 457.2 L98.8 456.6 L99.0 455.9 L99.2 455.3 L99.4 454.6 L99.6 453.9 L99.9 453.2 L100.1 452.5 L100.3 451.8 L100.6 451.1 L100.8 450.4 L101.1 449.7 L101.3 449.0 L101.6 448.3 L101.8 447.5 L102.1 446.8 L102.3 446.1 L102.6 445.3 L102.8 444.6 L103.1 443.9 L103.3 443.1 L103.6 442.4 L103.8 441.7 L104.1 441.0 L104.3 440.2 L104.6 439.5 L104.8 438.8 L105.0 438.1 L105.3 437.4 L105.5 436.7 L105.7 436.0 L106.0 435.3 L106.2 434.6 L106.4 433.9 L106.6 433.3 L106.8 432.6 L107.0 432.0 L107.2 431.3 L107.4 430.7 L107.6 430.1 L107.8 429.5 L108.0 428.9 L108.2 428.1 L108.4 427.2 L108.7 426.4 L108.9 425.5 L109.1 424.7 L109.4 423.8 L109.6 423.0 L109.8 422.2 L110.0 421.3 L110.2 420.5 L110.4 419.7 L110.6 418.9 L110.8 418.1 L110.9 417.3 L111.1 416.5 L111.3 415.8 L111.5 415.0 L111.6 414.3 L111.8 413.6 L111.9 412.9 L112.1 412.2 L112.2 411.6 L112.3 410.9 L112.5 410.3 L112.6 409.8 L112.7 409.2 L112.8 408.7 L112.9 408.2 L113.0 407.7 L113.1 407.2 L113.2 406.8 L113.3 406.4 L113.4 406.1Z"/>
<path d="M107.2 394.9 L106.9 395.2 L106.6 395.5 L106.3 395.8 L106.0 396.2 L105.6 396.7 L105.2 397.1 L104.8 397.6 L104.4 398.1 L103.9 398.6 L103.4 399.1 L103.0 399.7 L102.5 400.3 L101.9 400.9 L101.4 401.5 L100.9 402.1 L100.3 402.7 L99.8 403.3 L99.2 404.0 L98.7 404.6 L98.1 405.3 L97.6 405.9 L97.1 406.5 L96.5 407.1 L96.0 407.8 L95.5 408.4 L95.0 409.0 L94.5 409.5 L94.0 410.1 L93.6 410.6 L93.1 411.2 L92.6 411.8 L92.1 412.4 L91.6 413.0 L91.1 413.6 L90.6 414.2 L90.1 414.8 L89.6 415.5 L89.1 416.1 L88.5 416.7 L88.0 417.4 L87.5 418.0 L87.0 418.6 L86.5 419.2 L86.0 419.8 L85.5 420.4 L85.1 421.0 L84.6 421.6 L84.2 422.1 L83.7 422.6 L83.3 423.1 L82.9 423.6 L82.6 424.0 L82.2 424.5 L81.9 424.9 L81.6 425.2 L81.3 425.5 L81.1 425.8 L81.5 426.2 L81.7 425.9 L82.0 425.6 L82.3 425.2 L82.7 424.8 L83.0 424.4 L83.4 424.0 L83.8 423.5 L84.2 423.1 L84.7 422.6 L85.2 422.0 L85.6 421.5 L86.1 420.9 L86.6 420.4 L87.2 419.8 L87.7 419.2 L88.2 418.6 L88.7 418.0 L89.3 417.4 L89.8 416.8 L90.4 416.2 L90.9 415.5 L91.5 414.9 L92.0 414.3 L92.5 413.7 L93.1 413.2 L93.6 412.6 L94.1 412.0 L94.6 411.5 L95.1 411.0 L95.5 410.5 L96.0 409.9 L96.6 409.3 L97.1 408.7 L97.7 408.2 L98.2 407.6 L98.8 406.9 L99.3 406.3 L99.9 405.7 L100.5 405.1 L101.1 404.5 L101.6 403.9 L102.2 403.3 L102.8 402.7 L103.3 402.1 L103.9 401.6 L104.4 401.0 L104.9 400.5 L105.4 399.9 L105.9 399.4 L106.3 399.0 L106.8 398.5 L107.2 398.1 L107.6 397.7 L107.9 397.3 L108.3 396.9 L108.6 396.6 L108.8 396.3Z"/>
<path d="M211.9 329.5 L211.7 329.9 L211.6 330.2 L211.4 330.6 L211.2 331.1 L211.0 331.6 L210.8 332.1 L210.6 332.7 L210.3 333.3 L210.1 333.9 L209.8 334.6 L209.6 335.3 L209.3 336.0 L209.0 336.7 L208.7 337.4 L208.4 338.2 L208.1 338.9 L207.8 339.7 L207.4 340.5 L207.1 341.3 L206.8 342.1 L206.5 342.9 L206.2 343.7 L205.9 344.5 L205.5 345.3 L205.2 346.1 L204.9 346.9 L204.6 347.6 L204.3 348.4 L204.0 349.2 L203.8 349.9 L203.5 350.6 L203.2 351.3 L203.1 352.1 L203.0 352.9 L202.9 353.7 L202.7 354.5 L202.6 355.3 L202.5 356.1 L202.4 356.8 L202.4 357.6 L202.3 358.4 L202.2 359.1 L202.1 359.9 L202.0 360.6 L201.9 361.4 L202.7 362.4 L203.4 363.4 L204.0 364.3 L204.5 365.2 L204.9 366.1 L205.3 367.0 L205.6 367.8 L205.8 368.6 L206.1 369.4 L206.2 370.2 L206.4 371.0 L206.5 371.7 L206.6 372.5 L206.7 373.2 L206.7 374.0 L206.8 374.7 L206.8 375.4 L206.7 376.1 L206.6 376.7 L206.5 377.4 L206.3 378.0 L206.2 378.6 L206.0 379.3 L205.9 379.9 L205.7 380.5 L205.5 381.2 L205.3 381.8 L205.1 382.5 L204.9 383.1 L204.7 383.8 L204.4 384.5 L204.2 385.2 L204.0 385.9 L203.8 386.6 L203.5 387.4 L203.3 388.1 L203.1 388.9 L202.9 389.7 L202.7 390.5 L202.5 391.3 L202.3 392.2 L202.1 393.1 L201.9 394.0 L201.8 394.9 L201.6 395.8 L201.5 396.4 L201.4 397.1 L201.3 397.7 L201.1 398.4 L201.0 399.0 L200.9 399.7 L200.8 400.3 L200.7 401.0 L200.6 401.7 L200.5 402.3 L200.4 403.0 L200.3 403.7 L200.2 404.4 L200.2 405.1 L200.1 405.8 L200.0 406.5 L199.9 407.2 L199.8 408.0 L199.7 408.7 L199.7 409.4 L199.6 410.1 L199.5 410.9 L199.5 411.6 L199.4 412.4 L199.3 413.1 L199.3 413.9 L199.2 414.6 L199.1 415.4 L199.1 416.1 L199.0 416.9 L199.0 417.7 L198.9 418.4 L198.9 419.2 L198.8 420.0 L198.8 420.7 L198.7 421.5 L198.7 422.3 L198.6 423.0 L198.6 423.8 L198.5 424.6 L198.5 425.4 L198.5 426.1 L198.5 426.7 L198.5 427.4 L198.4 428.1 L198.4 428.8 L198.4 429.5 L198.4 430.3 L198.4 431.0 L198.4 431.7 L198.4 432.4 L198.4 433.2 L198.4 433.9 L198.4 434.6 L198.5 435.4 L198.5 436.1 L198.5 436.9 L198.5 437.6 L198.5 438.4 L198.5 439.1 L198.5 439.9 L198.6 440.6 L198.6 441.4 L198.6 442.1 L198.6 442.9 L198.6 443.6 L198.7 444.4 L198.7 445.1 L198.7 445.9 L198.7 446.6 L198.7 447.3 L198.8 448.1 L198.8 448.8 L198.8 449.5 L198.8 450.2 L198.8 450.9 L198.9 451.6 L198.9 452.3 L198.9 453.0 L198.9 453.7 L198.9 454.3 L198.9 455.0 L199.0 455.6 L199.0 456.3 L199.0 456.9 L199.0 457.5 L199.0 458.1 L199.0 458.7 L199.0 459.3 L199.0 459.9 L199.0 460.7 L199.0 461.6 L199.0 462.5 L199.0 463.3 L199.0 464.2 L199.0 465.0 L199.0 465.8 L198.9 466.6 L198.9 467.4 L198.9 468.2 L198.9 468.9 L198.9 469.7 L198.8 470.4 L198.8 471.1 L198.8 471.8 L198.8 472.5 L198.8 473.2 L198.7 473.9 L198.7 474.6 L198.7 475.2 L198.7 475.9 L198.7 476.5 L198.6 477.1 L198.6 477.7 L198.6 478.4 L198.6 478.9 L198.6 479.5 L198.5 480.1 L198.5 480.7 L198.5 481.2 L198.5 481.8 L198.5 482.8 L198.5 483.8 L198.5 484.8 L198.5 485.7 L198.5 486.5 L198.5 487.3 L198.4 488.1 L198.4 488.8 L198.5 489.4 L198.5 490.1 L198.5 490.7 L198.5 491.2 L198.5 491.8 L198.5 492.3 L198.5 492.8 L198.6 494.0 L198.8 494.9 L198.9 495.5 L199.1 496.0 L199.3 496.4 L200.7 496.6 L201.0 496.3 L201.4 495.9 L201.7 495.3 L202.1 494.5 L202.5 493.2 L202.6 492.7 L202.7 492.2 L202.8 491.7 L203.0 491.1 L203.1 490.5 L203.2 489.9 L203.4 489.2 L203.5 488.5 L203.6 487.8 L203.8 487.0 L203.9 486.2 L204.1 485.3 L204.2 484.3 L204.3 483.3 L204.5 482.2 L204.6 481.7 L204.6 481.2 L204.7 480.6 L204.8 480.0 L204.9 479.5 L205.0 478.9 L205.0 478.3 L205.1 477.7 L205.2 477.1 L205.3 476.4 L205.4 475.8 L205.5 475.1 L205.6 474.5 L205.6 473.8 L205.7 473.1 L205.8 472.4 L205.9 471.6 L206.0 470.9 L206.1 470.2 L206.2 469.4 L206.2 468.6 L206.3 467.8 L206.4 467.0 L206.5 466.2 L206.6 465.4 L206.6 464.6 L206.7 463.7 L206.8 462.8 L206.9 462.0 L206.9 461.1 L207.0 460.1 L207.0 459.5 L207.1 458.9 L207.1 458.3 L207.1 457.7 L207.2 457.1 L207.2 456.4 L207.2 455.7 L207.3 455.1 L207.3 454.4 L207.3 453.7 L207.3 453.0 L207.4 452.3 L207.4 451.6 L207.4 450.9 L207.4 450.2 L207.5 449.5 L207.5 448.8 L207.5 448.1 L207.5 447.3 L207.5 446.6 L207.6 445.9 L207.6 445.1 L207.6 444.4 L207.6 443.6 L207.6 442.9 L207.7 442.2 L207.7 441.4 L207.7 440.7 L207.7 439.9 L207.7 439.2 L207.8 438.4 L207.8 437.7 L207.8 437.0 L207.9 436.2 L207.9 435.5 L207.9 434.8 L207.9 434.1 L208.0 433.4 L208.0 432.7 L208.1 432.0 L208.1 431.3 L208.1 430.6 L208.2 429.9 L208.2 429.2 L208.3 428.6 L208.3 427.9 L208.4 427.3 L208.4 426.6 L208.5 426.0 L208.6 425.3 L208.6 424.5 L208.7 423.8 L208.7 423.0 L208.8 422.2 L208.9 421.5 L208.9 420.8 L209.0 420.0 L209.1 419.3 L209.2 418.5 L209.2 417.8 L209.3 417.1 L209.4 416.3 L209.5 415.6 L209.6 414.9 L209.7 414.2 L209.7 413.5 L209.8 412.8 L209.9 412.1 L210.0 411.4 L210.1 410.7 L210.2 410.0 L210.3 409.3 L210.4 408.6 L210.5 407.9 L210.6 407.3 L210.7 406.6 L210.8 406.0 L210.9 405.3 L211.0 404.7 L211.1 404.1 L211.3 403.4 L211.4 402.8 L211.5 402.2 L211.6 401.6 L211.7 401.0 L211.9 400.4 L212.0 399.9 L212.1 399.3 L212.3 398.7 L212.4 398.2 L212.6 397.4 L212.8 396.7 L213.1 396.0 L213.3 395.4 L213.6 394.7 L213.8 394.1 L214.1 393.5 L214.4 392.9 L214.7 392.3 L214.9 391.7 L215.2 391.1 L215.5 390.6 L215.8 390.0 L216.1 389.4 L216.4 388.8 L216.8 388.3 L217.1 387.7 L217.4 387.1 L217.8 386.5 L218.1 385.9 L218.5 385.3 L218.8 384.7 L219.2 384.0 L219.6 383.4 L220.0 382.7 L220.4 382.0 L220.8 381.3 L221.2 380.6 L221.7 380.0 L222.2 379.4 L222.7 378.9 L223.2 378.3 L223.8 377.7 L224.4 377.2 L225.0 376.7 L225.6 376.1 L226.3 375.6 L227.0 375.1 L227.7 374.6 L228.5 374.2 L229.4 373.7 L230.4 373.3 L231.4 372.9 L232.5 372.6 L233.8 372.3 L234.2 371.7 L234.5 371.1 L234.9 370.5 L235.3 369.9 L235.7 369.3 L236.1 368.7 L236.5 368.1 L236.8 367.6 L237.2 367.0 L237.6 366.4 L238.0 365.8 L238.4 365.2 L238.8 364.7 L239.0 364.1 L239.3 363.4 L239.5 362.8 L239.8 362.1 L240.0 361.4 L240.3 360.7 L240.6 359.9 L240.9 359.2 L241.2 358.4 L241.5 357.7 L241.8 356.9 L242.1 356.2 L242.4 355.4 L242.7 354.6 L243.0 353.9 L243.3 353.1 L243.6 352.4 L243.9 351.6 L244.2 350.9 L244.5 350.2 L244.8 349.5 L245.1 348.8 L245.3 348.2 L245.6 347.6 L245.8 347.0 L246.0 346.4 L246.3 345.8 L246.5 345.3 L246.7 344.8 L246.9 344.4 L247.0 344.0 L247.2 343.6Z"/>
<path d="M222.1 338.9 L222.2 339.2 L222.2 339.6 L222.3 340.0 L222.3 340.5 L222.4 341.0 L222.5 341.6 L222.6 342.2 L222.6 342.9 L222.7 343.5 L222.8 344.3 L222.9 345.0 L223.0 345.8 L223.1 346.6 L223.2 347.4 L223.3 348.2 L223.4 349.1 L223.5 349.9 L223.7 350.8 L223.8 351.7 L223.9 352.5 L224.0 353.4 L224.2 354.3 L224.3 355.2 L224.4 356.1 L224.6 356.9 L224.7 357.8 L224.8 358.7 L225.0 359.5 L225.2 360.4 L225.3 361.2 L225.6 362.0 L225.9 362.7 L226.2 363.4 L226.5 364.1 L226.8 364.8 L227.1 365.6 L227.4 366.3 L227.8 367.0 L228.1 367.7 L228.4 368.4 L228.7 369.1 L229.0 369.9 L229.4 370.6 L229.7 371.3 L230.0 372.0 L230.4 372.7 L230.7 373.4 L231.8 374.0 L232.8 374.5 L233.8 375.0 L234.6 375.6 L235.4 376.2 L236.1 376.8 L236.8 377.3 L237.5 377.9 L238.1 378.6 L238.7 379.2 L239.2 379.8 L239.8 380.4 L240.2 381.0 L240.6 381.6 L241.0 382.2 L241.3 382.8 L241.7 383.4 L242.0 384.1 L242.4 384.7 L242.7 385.4 L243.1 386.0 L243.4 386.7 L243.7 387.4 L244.1 388.0 L244.4 388.7 L244.7 389.4 L245.1 390.1 L245.4 390.8 L245.8 391.4 L246.2 392.1 L246.6 392.8 L246.9 393.5 L247.3 394.2 L247.8 394.9 L248.2 395.6 L248.6 396.3 L249.1 396.9 L249.5 397.6 L250.0 398.3 L250.5 399.0 L251.0 399.6 L251.5 400.2 L251.9 400.8 L252.3 401.3 L252.8 401.9 L253.2 402.5 L253.7 403.0 L254.1 403.6 L254.6 404.2 L255.1 404.7 L255.6 405.3 L256.1 405.8 L256.6 406.4 L257.1 406.9 L257.6 407.5 L258.2 408.0 L258.7 408.6 L259.2 409.1 L259.8 409.7 L260.3 410.2 L260.9 410.7 L261.5 411.3 L262.0 411.8 L262.6 412.3 L263.2 412.8 L263.7 413.3 L264.3 413.8 L264.9 414.3 L265.5 414.7 L266.1 415.2 L266.7 415.7 L267.3 416.1 L267.8 416.5 L268.4 417.0 L269.0 417.4 L269.7 417.8 L270.4 418.3 L271.0 418.7 L271.7 419.1 L272.4 419.5 L273.0 419.9 L273.7 420.3 L274.4 420.6 L275.1 421.0 L275.8 421.3 L276.5 421.7 L277.1 422.0 L277.8 422.3 L278.5 422.6 L279.2 422.9 L279.9 423.2 L280.6 423.5 L281.3 423.8 L282.0 424.1 L282.7 424.4 L283.4 424.6 L284.0 424.9 L284.7 425.2 L285.4 425.4 L286.1 425.7 L286.7 426.0 L287.4 426.2 L288.1 426.5 L288.7 426.8 L289.4 427.0 L290.0 427.3 L290.7 427.5 L291.4 427.8 L292.1 428.1 L292.8 428.4 L293.5 428.6 L294.2 428.9 L294.9 429.2 L295.6 429.4 L296.3 429.7 L297.0 429.9 L297.7 430.2 L298.4 430.4 L299.1 430.7 L299.8 430.9 L300.5 431.1 L301.2 431.4 L301.9 431.6 L302.6 431.8 L303.2 432.1 L303.9 432.3 L304.6 432.5 L305.3 432.8 L305.9 433.0 L306.6 433.2 L307.2 433.4 L307.9 433.7 L308.5 433.9 L309.2 434.1 L309.8 434.4 L310.4 434.6 L311.0 434.8 L311.6 435.1 L312.3 435.4 L313.0 435.6 L313.8 435.9 L314.5 436.2 L315.2 436.5 L315.9 436.8 L316.6 437.0 L317.3 437.3 L317.9 437.6 L318.6 437.8 L319.3 438.1 L319.9 438.4 L320.6 438.6 L321.2 438.9 L321.8 439.2 L322.5 439.5 L323.1 439.7 L323.7 440.0 L324.2 440.3 L324.8 440.6 L325.4 440.9 L325.9 441.2 L326.5 441.6 L327.0 441.9 L327.5 442.2 L328.0 442.6 L328.6 443.0 L329.1 443.4 L329.7 443.9 L330.2 444.3 L330.8 444.8 L331.3 445.3 L331.8 445.7 L332.3 446.3 L332.8 446.8 L333.3 447.3 L333.7 447.8 L334.2 448.3 L334.6 448.9 L335.1 449.4 L335.5 449.9 L335.9 450.5 L336.3 451.0 L336.7 451.6 L337.1 452.1 L337.5 452.6 L337.8 453.2 L338.2 453.7 L338.5 454.2 L338.9 454.9 L339.3 455.5 L339.7 456.2 L340.0 457.0 L340.4 457.7 L340.7 458.5 L340.9 459.3 L341.2 460.0 L341.5 460.8 L341.7 461.5 L341.9 462.3 L342.2 462.9 L342.4 463.6 L342.5 464.2 L342.7 464.8 L342.9 465.3 L343.1 465.7 L343.2 466.1 L343.8 465.9 L343.7 465.5 L343.6 465.1 L343.5 464.6 L343.4 464.0 L343.3 463.4 L343.2 462.7 L343.0 462.0 L342.9 461.2 L342.7 460.5 L342.5 459.7 L342.3 458.8 L342.1 458.0 L341.9 457.2 L341.6 456.4 L341.3 455.6 L341.0 454.7 L340.6 454.0 L340.3 453.2 L340.0 452.6 L339.6 452.1 L339.3 451.5 L339.0 450.9 L338.6 450.3 L338.2 449.7 L337.9 449.1 L337.5 448.5 L337.1 447.9 L336.6 447.3 L336.2 446.7 L335.8 446.1 L335.3 445.5 L334.8 445.0 L334.3 444.4 L333.8 443.8 L333.3 443.2 L332.8 442.7 L332.3 442.1 L331.7 441.6 L331.2 441.1 L330.6 440.5 L330.0 440.0 L329.4 439.6 L328.9 439.2 L328.3 438.8 L327.7 438.4 L327.2 438.0 L326.6 437.6 L326.0 437.2 L325.4 436.9 L324.7 436.5 L324.1 436.2 L323.5 435.8 L322.8 435.5 L322.2 435.1 L321.5 434.8 L320.9 434.5 L320.2 434.2 L319.6 433.8 L318.9 433.5 L318.2 433.2 L317.5 432.9 L316.9 432.6 L316.2 432.3 L315.5 431.9 L314.8 431.6 L314.1 431.3 L313.4 430.9 L312.8 430.6 L312.2 430.4 L311.6 430.1 L310.9 429.8 L310.3 429.5 L309.7 429.2 L309.0 428.9 L308.4 428.7 L307.7 428.4 L307.0 428.1 L306.4 427.8 L305.7 427.5 L305.1 427.3 L304.4 427.0 L303.7 426.7 L303.0 426.4 L302.4 426.2 L301.7 425.9 L301.0 425.6 L300.4 425.3 L299.7 425.0 L299.0 424.7 L298.3 424.5 L297.7 424.2 L297.0 423.9 L296.4 423.6 L295.7 423.3 L295.1 423.0 L294.4 422.7 L293.8 422.4 L293.1 422.1 L292.5 421.7 L291.8 421.4 L291.2 421.1 L290.5 420.8 L289.9 420.5 L289.2 420.2 L288.6 419.9 L287.9 419.6 L287.3 419.3 L286.6 419.0 L286.0 418.7 L285.3 418.4 L284.7 418.1 L284.0 417.7 L283.4 417.4 L282.8 417.1 L282.1 416.8 L281.5 416.5 L280.9 416.1 L280.3 415.8 L279.7 415.5 L279.1 415.1 L278.5 414.8 L277.9 414.4 L277.3 414.1 L276.8 413.7 L276.2 413.4 L275.7 413.0 L275.1 412.6 L274.6 412.2 L274.1 411.8 L273.6 411.4 L273.1 411.0 L272.6 410.6 L272.1 410.1 L271.6 409.7 L271.1 409.3 L270.6 408.8 L270.2 408.3 L269.7 407.9 L269.2 407.4 L268.7 406.9 L268.2 406.4 L267.8 405.9 L267.3 405.4 L266.8 404.9 L266.4 404.4 L265.9 403.9 L265.5 403.3 L265.0 402.8 L264.6 402.3 L264.2 401.8 L263.7 401.2 L263.3 400.7 L262.9 400.2 L262.5 399.6 L262.1 399.1 L261.7 398.6 L261.3 398.0 L261.0 397.5 L260.6 397.0 L260.3 396.4 L259.9 395.9 L259.6 395.4 L259.3 394.9 L259.0 394.4 L258.7 393.8 L258.4 393.2 L258.1 392.6 L257.8 392.0 L257.6 391.4 L257.3 390.8 L257.1 390.2 L256.9 389.6 L256.7 389.0 L256.5 388.4 L256.3 387.8 L256.1 387.2 L255.9 386.5 L255.8 385.9 L255.6 385.3 L255.4 384.6 L255.3 384.0 L255.2 383.3 L255.0 382.7 L254.9 382.0 L254.8 381.3 L254.7 380.7 L254.6 380.0 L254.5 379.3 L254.4 378.6 L254.4 377.8 L254.3 377.1 L254.2 376.4 L254.2 375.6 L254.3 374.9 L254.4 374.1 L254.6 373.4 L254.8 372.7 L255.0 371.9 L255.3 371.1 L255.7 370.4 L256.1 369.6 L256.6 368.8 L257.1 368.0 L257.8 367.1 L258.5 366.3 L258.5 365.6 L258.5 365.0 L258.5 364.3 L258.5 363.7 L258.5 363.0 L258.5 362.3 L258.5 361.7 L258.5 361.0 L258.6 360.3 L258.6 359.6 L258.6 358.9 L258.6 358.3 L258.6 357.6 L258.6 356.9 L258.6 356.2 L258.7 355.5 L258.7 354.8 L258.6 354.2 L258.5 353.6 L258.4 352.9 L258.2 352.3 L258.1 351.6 L258.0 350.8 L257.9 350.1 L257.8 349.3 L257.7 348.6 L257.6 347.8 L257.5 347.0 L257.3 346.2 L257.2 345.4 L257.1 344.6 L257.0 343.8 L256.9 343.1 L256.8 342.3 L256.7 341.5 L256.6 340.8 L256.6 340.1 L256.5 339.4 L256.4 338.7 L256.3 338.0 L256.2 337.4 L256.1 336.8 L256.1 336.2 L256.0 335.7 L255.9 335.1 L255.9 334.6 L255.8 334.2Z"/>
<path d="M292.2 429.2 L292.3 429.6 L292.4 430.1 L292.5 430.7 L292.7 431.3 L292.8 432.0 L293.0 432.7 L293.2 433.4 L293.3 434.2 L293.5 434.9 L293.6 435.7 L293.8 436.6 L293.9 437.4 L294.0 438.2 L294.1 439.0 L294.2 439.8 L294.3 440.6 L294.3 441.3 L294.3 441.9 L294.3 442.6 L294.2 443.3 L294.2 444.0 L294.1 444.7 L294.1 445.4 L294.0 446.2 L293.9 446.9 L293.8 447.6 L293.7 448.4 L293.6 449.1 L293.5 449.9 L293.3 450.6 L293.2 451.3 L293.1 452.0 L293.0 452.7 L292.8 453.4 L292.7 454.1 L292.6 454.8 L292.4 455.4 L292.3 456.2 L292.1 457.0 L291.9 457.8 L291.7 458.6 L291.4 459.4 L291.2 460.1 L291.0 460.9 L290.7 461.6 L290.5 462.3 L290.3 463.0 L290.1 463.6 L289.9 464.2 L289.7 464.7 L289.6 465.2 L289.5 465.6 L292.3 466.4 L292.4 466.1 L292.6 465.7 L292.8 465.2 L293.0 464.6 L293.2 464.0 L293.4 463.3 L293.7 462.6 L293.9 461.8 L294.2 461.1 L294.4 460.3 L294.7 459.4 L294.9 458.6 L295.1 457.7 L295.4 456.9 L295.6 456.0 L295.7 455.4 L295.8 454.7 L296.0 454.1 L296.1 453.4 L296.3 452.6 L296.4 451.9 L296.5 451.2 L296.7 450.4 L296.8 449.7 L296.9 448.9 L297.1 448.1 L297.2 447.3 L297.3 446.6 L297.4 445.8 L297.5 445.0 L297.5 444.3 L297.6 443.5 L297.7 442.8 L297.7 442.0 L297.7 441.3 L297.7 440.4 L297.6 439.5 L297.6 438.7 L297.5 437.8 L297.4 436.9 L297.2 436.0 L297.1 435.1 L296.9 434.3 L296.8 433.4 L296.6 432.7 L296.5 431.9 L296.3 431.2 L296.2 430.5 L296.0 429.9 L295.9 429.4 L295.8 429.0 L295.8 428.6Z"/>
<path d="M289.9 467.0 L290.2 467.3 L290.5 467.5 L290.8 467.9 L291.2 468.3 L291.6 468.7 L292.0 469.2 L292.5 469.7 L293.0 470.2 L293.5 470.8 L294.0 471.3 L294.6 471.9 L295.2 472.5 L295.8 473.1 L296.5 473.7 L297.2 474.3 L297.8 474.8 L298.6 475.4 L299.3 475.9 L300.1 476.5 L300.9 476.9 L301.6 477.4 L302.2 477.7 L302.7 477.9 L303.3 478.2 L303.9 478.5 L304.5 478.8 L305.1 479.1 L305.7 479.3 L306.3 479.6 L306.9 479.9 L307.6 480.1 L308.2 480.4 L308.9 480.7 L309.5 480.9 L310.2 481.2 L310.9 481.4 L311.6 481.7 L312.3 481.9 L313.0 482.1 L313.7 482.3 L314.5 482.5 L315.2 482.8 L315.9 483.0 L316.7 483.1 L317.4 483.3 L318.2 483.5 L318.9 483.7 L319.7 483.8 L320.5 484.0 L321.2 484.1 L322.0 484.2 L322.8 484.3 L323.4 484.4 L324.1 484.5 L324.8 484.5 L325.5 484.6 L326.3 484.6 L327.0 484.7 L327.8 484.7 L328.6 484.7 L329.4 484.7 L330.2 484.7 L331.0 484.7 L331.8 484.7 L332.6 484.7 L333.5 484.7 L334.3 484.6 L335.1 484.6 L336.0 484.6 L336.8 484.6 L337.6 484.5 L338.4 484.5 L339.2 484.4 L340.0 484.4 L340.8 484.3 L341.6 484.3 L342.3 484.3 L343.0 484.2 L343.7 484.2 L344.4 484.1 L345.1 484.1 L345.7 484.0 L346.3 484.0 L346.9 484.0 L347.5 483.9 L348.0 483.9 L348.5 483.9 L348.9 483.9 L349.3 483.9 L349.7 483.8 L349.7 483.4 L349.3 483.3 L348.9 483.3 L348.5 483.3 L348.0 483.4 L347.4 483.4 L346.9 483.4 L346.3 483.4 L345.7 483.4 L345.1 483.4 L344.4 483.4 L343.7 483.5 L343.0 483.5 L342.3 483.5 L341.5 483.5 L340.8 483.5 L340.0 483.5 L339.2 483.6 L338.4 483.6 L337.6 483.6 L336.8 483.6 L335.9 483.6 L335.1 483.6 L334.3 483.6 L333.5 483.6 L332.6 483.6 L331.8 483.6 L331.0 483.5 L330.2 483.5 L329.4 483.5 L328.6 483.4 L327.9 483.4 L327.1 483.3 L326.4 483.3 L325.7 483.2 L325.0 483.2 L324.3 483.1 L323.6 483.0 L323.0 482.9 L322.3 482.7 L321.5 482.6 L320.8 482.4 L320.0 482.3 L319.3 482.1 L318.6 481.9 L317.8 481.7 L317.1 481.5 L316.4 481.3 L315.7 481.1 L315.0 480.9 L314.3 480.6 L313.6 480.4 L312.9 480.1 L312.2 479.9 L311.6 479.6 L310.9 479.4 L310.3 479.1 L309.6 478.8 L309.0 478.6 L308.4 478.3 L307.8 478.0 L307.2 477.7 L306.6 477.4 L306.0 477.1 L305.4 476.9 L304.9 476.6 L304.3 476.3 L303.8 476.0 L303.2 475.7 L302.8 475.4 L302.0 475.0 L301.4 474.5 L300.7 474.0 L300.0 473.5 L299.4 473.0 L298.8 472.4 L298.2 471.9 L297.6 471.3 L297.0 470.7 L296.5 470.2 L295.9 469.6 L295.4 469.0 L294.9 468.5 L294.5 467.9 L294.0 467.4 L293.6 466.9 L293.2 466.5 L292.9 466.0 L292.5 465.6 L292.2 465.3 L291.9 465.0Z"/>
<path d="M289.9 465.0 L289.6 465.3 L289.3 465.6 L289.0 466.0 L288.5 466.4 L288.0 466.8 L287.5 467.3 L287.0 467.8 L286.4 468.4 L285.8 468.9 L285.2 469.5 L284.6 470.2 L284.0 470.8 L283.5 471.5 L282.9 472.2 L282.3 472.9 L281.8 473.6 L281.3 474.4 L280.9 475.1 L280.5 475.9 L280.3 476.5 L280.0 477.2 L279.8 477.8 L279.5 478.5 L279.3 479.1 L279.1 479.8 L278.9 480.5 L278.7 481.2 L278.5 482.0 L278.3 482.7 L278.2 483.4 L278.1 484.2 L277.9 484.9 L277.8 485.7 L277.7 486.5 L277.6 487.3 L277.6 488.1 L277.5 488.9 L277.5 489.7 L277.5 490.5 L277.5 491.3 L277.5 492.1 L277.6 492.9 L277.6 493.6 L277.7 494.2 L277.8 494.9 L277.9 495.6 L277.9 496.3 L278.0 497.0 L278.1 497.7 L278.2 498.4 L278.4 499.2 L278.5 499.9 L278.6 500.6 L278.8 501.4 L278.9 502.1 L279.1 502.9 L279.3 503.6 L279.5 504.4 L279.7 505.1 L279.9 505.8 L280.1 506.6 L280.3 507.3 L280.6 508.0 L280.8 508.7 L281.1 509.4 L281.4 510.1 L281.6 510.7 L281.9 511.4 L282.2 512.0 L282.6 512.6 L282.9 513.2 L283.2 513.8 L283.6 514.4 L284.1 515.0 L284.6 515.6 L285.1 516.2 L285.6 516.8 L286.2 517.4 L286.8 517.9 L287.4 518.5 L288.1 519.0 L288.7 519.6 L289.4 520.1 L290.0 520.6 L290.7 521.1 L291.3 521.5 L292.0 522.0 L292.6 522.4 L293.2 522.9 L293.8 523.3 L294.4 523.7 L295.0 524.0 L295.5 524.4 L296.0 524.7 L296.5 525.0 L296.9 525.3 L297.3 525.6 L297.6 525.9 L297.9 526.1 L298.3 525.7 L298.0 525.5 L297.6 525.2 L297.2 524.9 L296.8 524.6 L296.4 524.2 L295.9 523.9 L295.3 523.5 L294.8 523.1 L294.2 522.7 L293.6 522.3 L293.0 521.8 L292.4 521.4 L291.8 520.9 L291.1 520.4 L290.5 519.9 L289.9 519.4 L289.3 518.9 L288.6 518.4 L288.0 517.8 L287.5 517.3 L286.9 516.7 L286.4 516.1 L285.9 515.6 L285.4 515.0 L284.9 514.4 L284.5 513.8 L284.2 513.2 L283.9 512.7 L283.6 512.1 L283.3 511.5 L283.0 510.9 L282.8 510.3 L282.5 509.6 L282.3 508.9 L282.0 508.3 L281.8 507.6 L281.6 506.9 L281.4 506.2 L281.2 505.5 L281.0 504.7 L280.9 504.0 L280.7 503.3 L280.6 502.6 L280.4 501.8 L280.3 501.1 L280.2 500.4 L280.1 499.6 L280.0 498.9 L279.9 498.2 L279.8 497.5 L279.7 496.8 L279.6 496.1 L279.6 495.4 L279.5 494.8 L279.5 494.1 L279.4 493.5 L279.4 492.9 L279.4 492.1 L279.4 491.3 L279.4 490.5 L279.4 489.7 L279.5 489.0 L279.5 488.2 L279.6 487.5 L279.7 486.7 L279.8 486.0 L280.0 485.3 L280.1 484.6 L280.2 483.9 L280.4 483.2 L280.6 482.5 L280.8 481.8 L281.0 481.2 L281.2 480.5 L281.4 479.9 L281.7 479.2 L281.9 478.6 L282.1 478.0 L282.4 477.5 L282.7 476.9 L283.0 476.3 L283.4 475.6 L283.8 475.0 L284.3 474.4 L284.8 473.7 L285.3 473.1 L285.9 472.5 L286.5 471.9 L287.1 471.4 L287.6 470.8 L288.2 470.3 L288.8 469.8 L289.3 469.3 L289.9 468.8 L290.4 468.4 L290.8 468.0 L291.2 467.6 L291.6 467.3 L291.9 467.0Z"/>
<path d="M256.5 335.0 L257.0 335.0 L257.7 334.8 L258.3 334.7 L258.9 334.6 L259.5 334.5 L260.2 334.3 L260.8 334.2 L261.5 334.1 L262.2 333.9 L262.9 333.8 L263.6 333.6 L264.4 333.5 L265.1 333.3 L265.8 333.2 L266.6 333.1 L267.3 332.9 L268.1 332.8 L268.8 332.7 L269.5 332.6 L270.2 332.4 L270.8 332.3 L271.4 332.3 L272.0 332.2 L272.5 332.1 L273.0 332.1 L273.4 332.0 L273.8 332.0 L274.0 332.0 L274.2 332.0 L274.5 331.7 L274.8 331.4 L275.2 331.2 L275.4 330.9 L275.7 330.7 L276.0 330.4 L276.3 330.2 L276.7 329.9 L277.1 329.7 L277.5 329.5 L277.9 329.3 L278.4 329.2 L279.0 329.0 L279.6 328.9 L280.2 328.7 L280.9 328.6 L281.7 328.5 L282.5 328.5 L283.3 328.4 L284.2 328.3 L285.4 327.3 L286.6 326.3 L287.8 325.5 L288.6 325.1 L289.4 324.8 L290.1 324.5 L290.9 324.3 L291.6 324.1 L292.4 323.9 L293.1 323.7 L293.9 323.6 L294.7 323.5 L295.4 323.5 L296.2 323.5 L297.0 323.4 L297.8 323.5 L298.5 323.5 L299.3 323.5 L300.1 323.6 L300.8 323.6 L301.6 323.7 L302.4 323.8 L303.1 323.9 L303.9 324.0 L304.6 324.1 L305.3 324.3 L306.0 324.4 L306.7 324.5 L307.4 324.7 L308.1 324.8 L308.7 325.0 L309.4 325.1 L310.0 325.3 L310.6 325.4 L311.1 325.6 L311.6 325.8 L312.1 325.9 L312.6 326.1 L313.2 326.3 L313.8 326.6 L314.4 326.9 L314.9 327.2 L315.5 327.5 L316.0 327.8 L316.5 328.2 L317.0 328.5 L317.5 328.9 L318.0 329.4 L318.5 329.8 L319.0 330.2 L319.5 330.7 L320.1 331.2 L320.6 331.6 L321.1 332.1 L321.7 332.6 L322.3 333.1 L322.9 333.6 L323.5 334.1 L324.1 334.5 L324.8 335.0 L325.5 335.4 L326.2 335.8 L326.9 336.2 L327.5 336.5 L328.1 336.9 L328.8 337.2 L329.4 337.5 L330.1 337.9 L330.7 338.2 L331.4 338.5 L332.0 338.8 L332.7 339.1 L333.4 339.4 L334.1 339.7 L334.8 339.9 L335.5 340.2 L336.2 340.5 L336.9 340.7 L337.6 340.9 L338.4 341.1 L339.1 341.3 L339.9 341.5 L340.6 341.6 L341.4 341.8 L342.2 341.9 L343.0 342.0 L343.7 342.0 L344.4 342.1 L345.1 342.1 L345.9 342.2 L346.6 342.2 L347.3 342.1 L348.1 342.1 L348.8 342.1 L349.6 342.0 L350.3 342.0 L351.1 341.9 L351.9 341.8 L352.6 341.7 L353.4 341.6 L354.1 341.5 L354.9 341.4 L355.6 341.3 L356.4 341.2 L357.1 341.1 L357.9 341.0 L358.6 340.9 L359.3 340.8 L360.0 340.6 L360.7 340.5 L361.4 340.4 L362.1 340.3 L362.8 340.2 L363.4 340.1 L364.2 340.0 L365.0 339.9 L365.8 339.8 L366.6 339.7 L367.4 339.5 L368.2 339.4 L369.0 339.2 L369.9 339.1 L370.7 338.9 L371.5 338.8 L372.2 338.6 L373.0 338.5 L373.8 338.4 L374.5 338.2 L375.2 338.1 L375.9 337.9 L376.5 337.8 L377.2 337.7 L377.7 337.5 L378.3 337.4 L378.8 337.3 L379.3 337.2 L379.7 337.1 L380.0 337.0 L380.0 336.4 L379.6 336.4 L379.2 336.4 L378.7 336.5 L378.2 336.5 L377.6 336.5 L377.0 336.6 L376.4 336.6 L375.7 336.7 L375.0 336.8 L374.3 336.8 L373.6 336.9 L372.8 337.0 L372.0 337.0 L371.2 337.1 L370.4 337.2 L369.6 337.2 L368.8 337.3 L368.0 337.4 L367.2 337.4 L366.3 337.5 L365.5 337.5 L364.7 337.6 L364.0 337.6 L363.2 337.7 L362.5 337.7 L361.8 337.7 L361.1 337.8 L360.4 337.8 L359.7 337.9 L359.0 337.9 L358.3 338.0 L357.5 338.1 L356.8 338.1 L356.0 338.2 L355.3 338.2 L354.6 338.3 L353.8 338.3 L353.1 338.4 L352.3 338.4 L351.6 338.5 L350.9 338.5 L350.2 338.5 L349.4 338.5 L348.7 338.5 L348.0 338.5 L347.4 338.5 L346.7 338.4 L346.0 338.4 L345.4 338.3 L344.8 338.2 L344.2 338.1 L343.6 338.0 L342.9 337.9 L342.3 337.7 L341.6 337.5 L341.0 337.3 L340.4 337.1 L339.8 336.8 L339.1 336.6 L338.5 336.3 L337.9 336.0 L337.4 335.8 L336.8 335.5 L336.2 335.1 L335.6 334.8 L335.1 334.5 L334.5 334.2 L333.9 333.8 L333.3 333.4 L332.8 333.1 L332.2 332.7 L331.7 332.3 L331.1 331.9 L330.5 331.5 L329.9 331.1 L329.4 330.8 L328.9 330.4 L328.5 330.0 L328.1 329.6 L327.7 329.2 L327.3 328.8 L326.9 328.3 L326.5 327.9 L326.0 327.4 L325.6 326.8 L325.2 326.3 L324.7 325.8 L324.3 325.2 L323.8 324.6 L323.3 324.0 L322.7 323.5 L322.2 322.9 L321.6 322.3 L320.9 321.7 L320.3 321.1 L319.5 320.5 L318.8 319.9 L318.0 319.4 L317.1 318.8 L316.2 318.3 L315.5 318.0 L314.9 317.7 L314.2 317.4 L313.6 317.1 L312.9 316.8 L312.2 316.5 L311.5 316.2 L310.7 316.0 L310.0 315.7 L309.2 315.4 L308.5 315.2 L307.7 314.9 L307.0 314.7 L306.2 314.4 L305.4 314.2 L304.7 313.9 L303.9 313.6 L303.1 313.4 L302.3 313.1 L301.6 312.8 L300.8 312.6 L300.1 312.3 L299.4 312.0 L298.6 311.6 L297.9 311.3 L297.2 310.9 L296.6 310.6 L295.9 310.2 L295.3 309.7 L294.7 309.3 L294.1 308.8 L293.5 308.3 L293.0 307.7 L292.6 307.2 L292.2 306.5 L291.6 305.3 L291.2 303.9 L290.8 302.5 L290.2 302.0 L289.6 301.6 L289.0 301.1 L288.4 300.7 L287.8 300.2 L287.1 299.7 L286.5 299.3 L285.7 298.8 L285.0 298.3 L284.2 297.9 L283.4 297.4 L282.5 297.0 L281.5 296.5 L280.6 296.1 L279.5 295.7 L278.5 295.3 L277.4 294.9 L276.2 294.6 L275.0 294.3 L273.8 294.0 L272.7 294.0 L271.6 294.1 L270.5 294.2 L269.4 294.2 L268.4 294.4 L267.4 294.5 L266.3 294.6 L265.3 294.7 L264.4 294.9 L263.4 295.0 L262.4 295.2 L261.5 295.4 L260.5 295.5 L259.6 295.7 L258.7 295.9 L257.8 296.0 L257.0 296.2 L256.2 296.4 L255.4 296.5 L254.6 296.7 L253.9 296.8 L253.2 297.0 L252.6 297.1 L252.0 297.2 L251.5 297.3 L251.1 297.4 L250.7 297.5 L250.5 297.5 L250.2 297.6Z"/>
<path d="M326.5 333.7 L326.6 334.1 L326.7 334.5 L326.9 334.9 L327.0 335.4 L327.2 336.0 L327.4 336.6 L327.6 337.3 L327.8 337.9 L328.1 338.6 L328.3 339.4 L328.6 340.1 L328.8 340.9 L329.1 341.7 L329.4 342.4 L329.7 343.2 L330.0 344.0 L330.3 344.8 L330.7 345.6 L331.0 346.3 L331.4 347.1 L331.7 347.7 L332.0 348.3 L332.4 348.9 L332.8 349.6 L333.2 350.3 L333.6 351.0 L334.0 351.7 L334.4 352.4 L334.9 353.1 L335.3 353.8 L335.8 354.5 L336.2 355.2 L336.7 355.9 L337.1 356.6 L337.6 357.3 L338.0 357.9 L338.4 358.5 L338.8 359.1 L339.2 359.7 L339.5 360.2 L339.9 360.7 L340.2 361.2 L340.4 361.6 L340.7 362.0 L340.9 362.3 L341.3 362.1 L341.1 361.7 L340.9 361.3 L340.7 360.9 L340.4 360.4 L340.1 359.9 L339.8 359.3 L339.5 358.7 L339.1 358.1 L338.7 357.4 L338.4 356.8 L338.0 356.1 L337.6 355.4 L337.2 354.6 L336.8 353.9 L336.4 353.2 L336.0 352.4 L335.6 351.7 L335.2 351.0 L334.9 350.3 L334.5 349.5 L334.2 348.9 L333.8 348.2 L333.5 347.5 L333.3 346.9 L333.0 346.3 L332.7 345.6 L332.4 344.9 L332.2 344.1 L331.9 343.3 L331.7 342.5 L331.4 341.8 L331.2 341.0 L331.0 340.2 L330.8 339.4 L330.6 338.7 L330.4 338.0 L330.2 337.3 L330.1 336.6 L329.9 335.9 L329.7 335.3 L329.6 334.7 L329.5 334.2 L329.4 333.7 L329.2 333.3 L329.1 332.9Z"/>
<path d="M262.3 315.0 L262.5 314.8 L262.7 314.5 L262.9 314.1 L263.2 313.7 L263.4 313.3 L263.7 312.8 L264.1 312.3 L264.4 311.7 L264.7 311.2 L265.1 310.6 L265.5 310.0 L265.9 309.3 L266.3 308.7 L266.7 308.0 L267.2 307.3 L267.6 306.6 L268.0 305.9 L268.5 305.2 L268.9 304.4 L269.4 303.7 L269.8 302.9 L270.3 302.2 L270.8 301.4 L271.2 300.6 L271.7 299.9 L272.1 299.1 L272.6 298.3 L273.0 297.6 L273.4 296.8 L273.7 295.9 L274.0 295.0 L274.3 294.2 L274.5 293.3 L274.8 292.5 L275.0 291.7 L275.2 290.9 L275.4 290.1 L275.5 289.3 L275.7 288.5 L275.9 287.8 L276.0 287.1 L276.2 286.3 L276.3 285.6 L276.4 284.9 L276.6 284.3 L276.7 283.6 L276.8 282.9 L277.0 282.3 L277.1 281.7 L276.3 280.6 L275.7 279.7 L275.2 278.7 L274.8 277.8 L274.5 277.0 L274.2 276.1 L274.0 275.3 L273.9 274.6 L273.8 273.8 L273.8 273.1 L273.8 272.4 L273.8 271.7 L273.9 271.0 L274.0 270.5 L274.2 270.0 L274.4 269.5 L274.6 269.0 L274.9 268.5 L275.2 268.0 L275.5 267.5 L275.8 267.0 L276.1 266.5 L276.5 266.0 L276.8 265.5 L277.2 265.0 L277.6 264.5 L278.0 264.0 L278.4 263.5 L278.8 263.0 L279.3 262.4 L279.7 261.9 L280.2 261.4 L280.7 260.8 L281.1 260.3 L281.6 259.8 L282.1 259.2 L282.6 258.6 L283.1 258.1 L283.6 257.5 L284.1 256.9 L284.6 256.3 L285.1 255.7 L285.6 255.1 L286.1 254.4 L286.6 253.8 L287.1 253.1 L287.6 252.5 L288.1 251.8 L288.6 251.1 L289.1 250.4 L289.6 249.7 L290.0 249.1 L290.4 248.5 L290.7 248.0 L291.1 247.4 L291.5 246.7 L291.9 246.1 L292.3 245.5 L292.7 244.9 L293.1 244.2 L293.5 243.6 L293.9 242.9 L294.3 242.2 L294.7 241.6 L295.1 240.9 L295.5 240.2 L295.9 239.5 L296.3 238.9 L296.7 238.2 L297.1 237.5 L297.5 236.8 L297.9 236.1 L298.2 235.4 L298.6 234.7 L299.0 234.1 L299.4 233.4 L299.8 232.7 L300.1 232.0 L300.5 231.4 L300.9 230.7 L301.2 230.1 L301.6 229.4 L301.9 228.8 L302.3 228.1 L302.6 227.5 L302.9 226.9 L303.3 226.3 L303.6 225.7 L303.9 225.1 L304.2 224.6 L304.5 224.0 L304.8 223.5 L305.1 223.0 L305.3 222.5 L305.6 222.0 L305.9 221.5 L306.1 221.1 L306.4 220.6 L307.0 219.6 L307.5 218.6 L308.0 217.6 L308.5 216.8 L308.9 216.0 L309.2 215.3 L309.5 214.6 L309.8 214.0 L310.0 213.4 L310.2 213.0 L310.4 212.5 L310.6 212.1 L310.8 211.7 L311.1 211.4 L311.3 211.0 L311.6 210.7 L311.9 210.3 L312.3 209.8 L312.7 209.4 L313.1 209.1 L313.5 208.7 L313.9 208.4 L314.4 208.1 L314.9 207.8 L315.4 207.4 L315.9 207.1 L316.5 206.8 L317.1 206.5 L317.7 206.2 L318.3 205.9 L319.0 205.5 L319.6 205.2 L320.3 204.9 L320.9 204.6 L321.6 204.3 L322.3 204.0 L323.0 203.6 L323.7 203.3 L324.4 203.0 L325.0 202.6 L325.7 202.2 L326.4 201.9 L327.1 201.5 L327.7 201.1 L328.3 200.7 L329.0 200.3 L329.7 199.9 L330.4 199.5 L331.1 199.1 L331.8 198.7 L332.5 198.2 L333.2 197.8 L333.9 197.4 L334.6 196.9 L335.3 196.5 L336.0 196.1 L336.6 195.7 L337.3 195.3 L337.9 194.9 L338.5 194.5 L339.1 194.1 L339.6 193.8 L340.2 193.4 L340.6 193.1 L341.1 192.8 L341.5 192.6 L341.9 192.3 L342.2 192.1 L340.4 189.1 L340.1 189.3 L339.7 189.5 L339.3 189.7 L338.8 190.0 L338.3 190.2 L337.7 190.5 L337.2 190.9 L336.6 191.2 L335.9 191.5 L335.3 191.9 L334.6 192.3 L333.9 192.7 L333.2 193.0 L332.5 193.4 L331.8 193.8 L331.1 194.2 L330.4 194.6 L329.7 195.0 L328.9 195.4 L328.2 195.8 L327.5 196.2 L326.9 196.5 L326.2 196.9 L325.5 197.2 L324.9 197.5 L324.3 197.8 L323.7 198.1 L323.0 198.4 L322.4 198.6 L321.7 198.9 L321.0 199.2 L320.4 199.4 L319.7 199.7 L319.0 199.9 L318.3 200.2 L317.6 200.5 L316.9 200.7 L316.2 201.0 L315.5 201.3 L314.8 201.6 L314.1 201.9 L313.4 202.2 L312.7 202.5 L312.1 202.8 L311.4 203.2 L310.7 203.5 L310.1 203.9 L309.5 204.4 L308.9 204.8 L308.2 205.3 L307.6 205.9 L307.0 206.4 L306.5 206.9 L306.0 207.5 L305.5 208.0 L305.1 208.6 L304.7 209.1 L304.4 209.7 L304.0 210.3 L303.7 210.8 L303.3 211.4 L303.0 212.0 L302.6 212.6 L302.2 213.3 L301.7 214.0 L301.2 214.8 L300.7 215.6 L300.0 216.6 L299.7 217.0 L299.4 217.4 L299.1 217.9 L298.8 218.4 L298.4 218.9 L298.1 219.4 L297.7 219.9 L297.4 220.4 L297.0 220.9 L296.6 221.5 L296.2 222.1 L295.9 222.6 L295.5 223.2 L295.1 223.8 L294.7 224.4 L294.3 225.0 L293.9 225.6 L293.5 226.2 L293.0 226.9 L292.6 227.5 L292.2 228.1 L291.8 228.7 L291.4 229.4 L290.9 230.0 L290.5 230.7 L290.1 231.3 L289.6 231.9 L289.2 232.6 L288.8 233.2 L288.3 233.8 L287.9 234.5 L287.5 235.1 L287.0 235.7 L286.6 236.3 L286.2 236.9 L285.7 237.5 L285.3 238.1 L284.9 238.7 L284.5 239.2 L284.0 239.8 L283.6 240.3 L283.2 240.9 L282.8 241.4 L282.4 241.9 L282.0 242.4 L281.6 242.9 L281.2 243.3 L280.7 243.8 L280.3 244.3 L279.8 244.8 L279.3 245.3 L278.8 245.8 L278.3 246.3 L277.8 246.7 L277.3 247.2 L276.7 247.6 L276.2 248.1 L275.7 248.5 L275.2 249.0 L274.6 249.4 L274.1 249.8 L273.6 250.3 L273.0 250.7 L272.5 251.1 L271.9 251.6 L271.4 252.0 L270.8 252.4 L270.2 252.8 L269.7 253.3 L269.1 253.7 L268.5 254.2 L267.9 254.6 L267.4 255.0 L266.8 255.5 L266.2 256.0 L265.6 256.4 L265.0 256.9 L264.4 257.4 L263.8 257.9 L263.2 258.4 L262.6 258.9 L262.0 259.4 L261.4 259.9 L260.7 260.4 L260.1 261.0 L259.3 261.6 L258.5 262.1 L257.7 262.6 L256.8 263.2 L256.0 263.7 L255.1 264.2 L254.1 264.7 L253.1 265.2 L252.1 265.6 L251.0 266.0 L249.8 266.4 L248.5 266.7 L247.2 267.0 L246.6 267.7 L246.1 268.3 L245.6 269.0 L245.2 269.6 L244.7 270.3 L244.2 270.9 L243.8 271.5 L243.3 272.0 L242.9 272.6 L242.4 273.1 L242.0 273.7 L241.6 274.2 L241.2 274.6 L240.8 275.1 L240.4 275.5 L240.0 275.9 L239.6 276.3 L239.3 276.6 L238.9 276.9 L238.6 277.2 L238.2 277.8 L237.9 278.4 L237.5 279.0 L237.2 279.6 L236.8 280.3 L236.4 280.9 L236.0 281.6 L235.6 282.2 L235.2 282.9 L234.8 283.6 L234.4 284.3 L234.0 284.9 L233.6 285.6 L233.2 286.2 L232.8 286.9 L232.4 287.5 L232.0 288.1 L231.6 288.8 L231.2 289.3 L230.9 289.9 L230.5 290.5 L230.2 291.0 L229.8 291.5 L229.5 292.0 L229.2 292.5 L229.0 293.0 L228.7 293.4 L228.4 293.8 L228.2 294.2Z"/>
<path d="M312.2 207.3 L312.2 206.9 L312.3 206.5 L312.3 205.9 L312.4 205.3 L312.5 204.6 L312.6 203.9 L312.7 203.2 L312.8 202.4 L312.9 201.6 L312.9 200.7 L313.0 199.9 L313.1 199.1 L313.2 198.2 L313.2 197.4 L313.3 196.6 L313.3 195.8 L313.3 195.0 L313.3 194.3 L313.3 193.5 L313.2 192.7 L313.2 191.9 L313.1 191.1 L313.1 190.2 L313.0 189.4 L312.9 188.6 L312.8 187.8 L312.7 187.1 L312.6 186.3 L312.6 185.6 L312.5 185.0 L312.4 184.4 L312.3 183.8 L312.3 183.4 L312.2 183.0 L311.8 183.0 L311.8 183.4 L311.8 183.9 L311.8 184.4 L311.8 185.0 L311.8 185.7 L311.8 186.4 L311.8 187.1 L311.9 187.9 L311.9 188.7 L311.9 189.5 L311.9 190.3 L311.9 191.1 L311.8 191.9 L311.8 192.7 L311.8 193.5 L311.7 194.3 L311.7 195.0 L311.6 195.7 L311.5 196.4 L311.4 197.2 L311.3 198.0 L311.1 198.8 L311.0 199.6 L310.8 200.4 L310.6 201.2 L310.5 202.0 L310.3 202.8 L310.1 203.5 L310.0 204.2 L309.8 204.9 L309.7 205.5 L309.6 206.0 L309.5 206.5 L309.4 206.9Z"/>
<path d="M342.4 191.2 L342.6 190.9 L342.8 190.5 L343.0 190.1 L343.3 189.7 L343.5 189.2 L343.8 188.6 L344.1 188.1 L344.4 187.5 L344.7 186.9 L345.1 186.3 L345.4 185.6 L345.8 185.0 L346.1 184.3 L346.5 183.6 L346.9 182.9 L347.3 182.2 L347.7 181.4 L348.1 180.7 L348.5 180.0 L348.9 179.2 L349.2 178.5 L349.6 177.8 L350.0 177.1 L350.4 176.3 L350.8 175.6 L351.2 175.0 L351.6 174.3 L351.9 173.6 L352.3 173.0 L352.6 172.4 L353.0 171.7 L353.4 171.1 L353.8 170.4 L354.2 169.7 L354.6 169.0 L355.1 168.3 L355.5 167.6 L355.9 166.9 L356.4 166.2 L356.8 165.4 L357.2 164.7 L357.7 164.0 L358.1 163.3 L358.5 162.6 L358.9 162.0 L359.3 161.3 L359.7 160.7 L360.1 160.0 L360.5 159.4 L360.9 158.8 L361.2 158.3 L361.6 157.8 L361.9 157.2 L362.2 156.8 L362.4 156.3 L362.7 155.9 L362.9 155.6 L363.1 155.2 L362.7 155.0 L362.5 155.3 L362.2 155.6 L362.0 156.0 L361.7 156.5 L361.3 156.9 L361.0 157.4 L360.7 157.9 L360.3 158.5 L359.9 159.0 L359.5 159.6 L359.1 160.2 L358.6 160.8 L358.2 161.5 L357.7 162.1 L357.3 162.8 L356.8 163.5 L356.3 164.2 L355.9 164.8 L355.4 165.5 L354.9 166.2 L354.4 166.9 L354.0 167.6 L353.5 168.3 L353.1 169.0 L352.6 169.7 L352.2 170.3 L351.8 171.0 L351.4 171.6 L351.0 172.2 L350.6 172.8 L350.2 173.5 L349.8 174.1 L349.3 174.8 L348.9 175.5 L348.5 176.2 L348.1 176.9 L347.6 177.6 L347.2 178.3 L346.8 179.0 L346.3 179.7 L345.9 180.4 L345.5 181.1 L345.0 181.8 L344.6 182.5 L344.2 183.2 L343.8 183.9 L343.4 184.5 L343.1 185.1 L342.7 185.8 L342.3 186.3 L342.0 186.9 L341.7 187.4 L341.4 187.9 L341.1 188.4 L340.8 188.9 L340.6 189.3 L340.4 189.6 L340.2 190.0Z"/>
<path d="M341.8 191.6 L342.2 191.4 L342.6 191.1 L343.1 190.9 L343.6 190.5 L344.2 190.2 L344.8 189.8 L345.5 189.5 L346.2 189.1 L346.9 188.7 L347.6 188.2 L348.3 187.8 L349.0 187.4 L349.7 187.0 L350.3 186.6 L350.9 186.2 L351.6 185.8 L352.2 185.4 L352.9 184.9 L353.6 184.5 L354.3 184.0 L354.9 183.6 L355.6 183.1 L356.2 182.7 L356.8 182.3 L357.4 181.9 L357.9 181.5 L358.4 181.2 L358.8 180.9 L359.1 180.7 L358.9 180.3 L358.5 180.5 L358.1 180.7 L357.6 181.0 L357.1 181.3 L356.5 181.6 L355.8 182.0 L355.2 182.4 L354.5 182.8 L353.8 183.2 L353.0 183.6 L352.3 184.0 L351.6 184.4 L350.9 184.7 L350.3 185.1 L349.7 185.4 L349.0 185.7 L348.3 186.1 L347.6 186.4 L346.9 186.8 L346.1 187.1 L345.4 187.5 L344.7 187.8 L344.0 188.1 L343.3 188.5 L342.7 188.7 L342.1 189.0 L341.6 189.2 L341.2 189.5 L340.8 189.6Z"/>
<path d="M258.0 325.4 L258.2 325.2 L258.5 325.1 L258.9 324.9 L259.3 324.8 L259.8 324.6 L260.3 324.3 L260.9 324.1 L261.5 323.8 L262.1 323.5 L262.8 323.2 L263.5 322.9 L264.2 322.6 L264.9 322.3 L265.7 321.9 L266.5 321.6 L267.3 321.2 L268.1 320.8 L268.9 320.5 L269.7 320.1 L270.5 319.7 L271.3 319.3 L272.2 318.9 L273.0 318.5 L273.8 318.1 L274.6 317.6 L275.4 317.2 L276.2 316.7 L277.0 316.3 L277.8 315.8 L278.6 315.1 L279.4 314.4 L280.1 313.6 L280.9 312.9 L281.5 312.2 L282.2 311.5 L282.8 310.8 L283.3 310.1 L283.9 309.4 L284.4 308.7 L284.9 308.1 L285.4 307.4 L285.9 306.8 L286.3 306.2 L286.7 305.6 L287.1 305.0 L287.5 304.5 L287.9 303.9 L288.2 303.4 L288.6 302.9 L288.5 301.9 L288.5 301.0 L288.5 300.1 L288.5 299.3 L288.6 298.6 L289.0 297.8 L289.3 297.2 L289.7 296.5 L290.1 295.9 L290.6 295.3 L291.0 294.8 L291.5 294.3 L292.0 293.8 L292.5 293.3 L293.0 292.8 L293.5 292.3 L294.1 291.9 L294.6 291.4 L295.2 290.9 L295.7 290.5 L296.3 290.0 L296.9 289.6 L297.5 289.1 L298.1 288.7 L298.7 288.2 L299.3 287.7 L299.9 287.3 L300.5 286.9 L301.1 286.4 L301.7 286.0 L302.3 285.6 L302.9 285.1 L303.5 284.7 L304.1 284.3 L304.8 283.8 L305.4 283.4 L306.0 282.9 L306.6 282.5 L307.2 282.1 L307.8 281.7 L308.4 281.2 L309.0 280.8 L309.6 280.4 L310.1 280.0 L310.7 279.6 L311.2 279.2 L311.8 278.9 L312.3 278.5 L312.8 278.2 L313.4 277.8 L314.1 277.4 L314.7 277.0 L315.3 276.7 L315.9 276.4 L316.6 276.0 L317.2 275.7 L317.8 275.4 L318.5 275.0 L319.2 274.6 L319.8 274.2 L320.5 273.8 L321.2 273.3 L321.9 272.8 L322.6 272.2 L323.3 271.6 L323.8 271.1 L324.4 270.6 L324.9 270.0 L325.4 269.5 L325.9 268.9 L326.4 268.3 L326.9 267.7 L327.4 267.1 L327.8 266.5 L328.3 265.9 L328.8 265.2 L329.2 264.6 L329.6 264.0 L330.1 263.4 L330.5 262.7 L330.9 262.1 L331.3 261.5 L331.7 260.9 L332.1 260.3 L332.5 259.7 L332.9 259.0 L333.3 258.4 L333.6 257.7 L334.0 257.1 L334.3 256.5 L334.6 255.9 L334.9 255.3 L335.2 254.7 L335.5 254.1 L335.8 253.5 L336.0 252.8 L336.3 252.2 L336.6 251.5 L337.0 250.8 L337.3 250.1 L337.6 249.3 L338.0 248.5 L338.4 247.6 L338.7 247.1 L338.9 246.6 L339.2 246.0 L339.4 245.4 L339.7 244.9 L340.0 244.2 L340.2 243.6 L340.5 243.0 L340.8 242.3 L341.1 241.7 L341.4 241.0 L341.8 240.3 L342.1 239.6 L342.4 239.0 L342.7 238.3 L343.0 237.6 L343.3 236.9 L343.7 236.2 L344.0 235.5 L344.3 234.8 L344.6 234.1 L344.9 233.4 L345.2 232.7 L345.5 232.0 L345.8 231.3 L346.1 230.6 L346.4 230.0 L346.7 229.3 L346.9 228.7 L347.2 228.0 L347.4 227.4 L347.7 226.8 L348.0 226.0 L348.2 225.3 L348.5 224.5 L348.8 223.7 L349.1 222.9 L349.4 222.1 L349.6 221.3 L349.9 220.5 L350.1 219.7 L350.4 218.9 L350.6 218.1 L350.9 217.4 L351.1 216.6 L351.3 215.9 L351.5 215.2 L351.7 214.5 L351.9 213.9 L352.1 213.2 L352.2 212.6 L352.4 212.1 L352.5 211.5 L352.7 211.0 L352.8 210.6 L352.9 210.2 L353.0 209.8 L352.4 209.6 L352.2 209.9 L352.0 210.3 L351.8 210.7 L351.6 211.2 L351.4 211.7 L351.1 212.2 L350.9 212.8 L350.6 213.4 L350.3 214.0 L350.0 214.7 L349.7 215.3 L349.4 216.0 L349.1 216.7 L348.8 217.4 L348.5 218.2 L348.1 218.9 L347.8 219.7 L347.5 220.4 L347.1 221.2 L346.8 221.9 L346.4 222.7 L346.0 223.4 L345.7 224.1 L345.3 224.9 L344.9 225.6 L344.6 226.1 L344.3 226.7 L344.0 227.3 L343.7 227.9 L343.4 228.5 L343.1 229.2 L342.7 229.8 L342.4 230.4 L342.0 231.1 L341.7 231.8 L341.3 232.4 L340.9 233.1 L340.6 233.8 L340.2 234.4 L339.8 235.1 L339.5 235.8 L339.1 236.4 L338.7 237.1 L338.3 237.7 L338.0 238.4 L337.6 239.0 L337.2 239.7 L336.9 240.3 L336.5 240.9 L336.2 241.5 L335.8 242.1 L335.5 242.7 L335.2 243.3 L334.9 243.8 L334.6 244.4 L334.3 244.9 L334.0 245.4 L333.5 246.2 L333.1 247.0 L332.7 247.8 L332.3 248.5 L331.9 249.2 L331.6 249.8 L331.2 250.4 L330.9 251.0 L330.6 251.6 L330.3 252.1 L330.0 252.6 L329.7 253.2 L329.3 253.7 L329.0 254.2 L328.7 254.7 L328.3 255.2 L327.9 255.8 L327.5 256.3 L327.1 256.9 L326.7 257.4 L326.3 258.0 L325.9 258.5 L325.4 259.1 L325.0 259.6 L324.6 260.2 L324.1 260.7 L323.7 261.3 L323.2 261.8 L322.7 262.3 L322.3 262.9 L321.8 263.4 L321.4 263.9 L320.9 264.3 L320.5 264.8 L320.0 265.2 L319.6 265.6 L319.1 266.0 L318.7 266.4 L318.2 266.8 L317.7 267.1 L317.2 267.5 L316.7 267.8 L316.2 268.1 L315.7 268.3 L315.1 268.6 L314.6 268.9 L314.0 269.2 L313.3 269.5 L312.6 269.8 L311.9 270.1 L311.2 270.5 L310.4 270.9 L309.6 271.3 L308.8 271.8 L308.3 272.1 L307.7 272.5 L307.1 272.8 L306.5 273.2 L305.9 273.5 L305.3 273.9 L304.7 274.3 L304.1 274.7 L303.4 275.0 L302.8 275.4 L302.2 275.8 L301.5 276.2 L300.9 276.6 L300.3 277.0 L299.6 277.4 L299.0 277.8 L298.3 278.2 L297.7 278.5 L297.1 278.9 L296.5 279.3 L295.9 279.6 L295.3 280.0 L294.7 280.3 L294.0 280.6 L293.4 280.9 L292.7 281.2 L292.1 281.5 L291.4 281.8 L290.8 282.0 L290.1 282.3 L289.5 282.6 L288.8 282.8 L288.1 283.1 L287.4 283.3 L286.7 283.6 L286.0 283.8 L285.3 284.0 L284.5 284.3 L283.7 284.5 L282.9 284.7 L282.1 284.9 L281.2 285.1 L280.3 285.3 L279.4 285.4 L278.4 285.4 L277.4 285.5 L276.3 285.4 L275.2 285.4 L274.1 285.2 L273.4 285.6 L272.7 285.9 L272.0 286.3 L271.3 286.6 L270.6 287.0 L270.0 287.3 L269.4 287.6 L268.7 287.9 L268.1 288.2 L267.5 288.5 L266.9 288.7 L266.3 289.0 L265.8 289.2 L265.2 289.4 L264.7 289.6 L264.1 289.7 L263.6 289.9 L263.1 290.0 L262.7 290.1 L262.2 290.2 L261.8 290.4 L261.4 290.6 L261.0 290.9 L260.5 291.2 L259.9 291.5 L259.4 291.7 L258.8 292.1 L258.1 292.4 L257.5 292.7 L256.8 293.0 L256.1 293.3 L255.5 293.6 L254.8 293.9 L254.1 294.3 L253.4 294.6 L252.7 294.9 L252.0 295.2 L251.3 295.5 L250.7 295.8 L250.0 296.1 L249.4 296.3 L248.8 296.6 L248.2 296.9 L247.7 297.1 L247.1 297.3 L246.6 297.6 L246.1 297.8 L245.6 298.0 L245.2 298.2Z"/>
<path d="M323.5 268.3 L323.5 267.9 L323.6 267.5 L323.7 267.0 L323.8 266.4 L323.9 265.8 L324.0 265.2 L324.2 264.5 L324.3 263.7 L324.4 263.0 L324.6 262.2 L324.7 261.4 L324.9 260.6 L325.0 259.8 L325.2 259.0 L325.3 258.1 L325.4 257.3 L325.6 256.5 L325.7 255.7 L325.8 254.9 L325.9 254.2 L325.9 253.4 L326.0 252.7 L326.1 252.1 L326.1 251.3 L326.1 250.5 L326.2 249.8 L326.2 249.1 L326.2 248.4 L326.2 247.7 L326.2 247.0 L326.2 246.4 L326.1 245.7 L326.1 245.1 L326.0 244.4 L325.9 243.7 L325.8 243.0 L325.7 242.3 L325.6 241.5 L325.4 240.7 L325.2 239.9 L325.1 239.3 L324.9 238.6 L324.8 238.0 L324.6 237.3 L324.4 236.5 L324.2 235.8 L324.0 235.0 L323.7 234.3 L323.5 233.5 L323.3 232.7 L323.0 231.9 L322.8 231.1 L322.5 230.3 L322.3 229.5 L322.0 228.8 L321.8 228.0 L321.5 227.3 L321.3 226.6 L321.1 225.9 L320.9 225.3 L320.7 224.7 L320.5 224.1 L320.3 223.6 L320.2 223.1 L320.1 222.7 L319.9 222.3 L319.5 222.5 L319.6 222.8 L319.7 223.3 L319.8 223.7 L319.9 224.3 L320.1 224.9 L320.2 225.5 L320.4 226.1 L320.6 226.8 L320.8 227.5 L321.0 228.3 L321.2 229.0 L321.4 229.8 L321.6 230.6 L321.8 231.4 L322.0 232.2 L322.2 233.0 L322.4 233.8 L322.6 234.6 L322.8 235.4 L323.0 236.1 L323.1 236.9 L323.3 237.6 L323.4 238.3 L323.6 238.9 L323.7 239.6 L323.8 240.1 L323.9 241.0 L324.0 241.8 L324.1 242.5 L324.2 243.2 L324.2 243.9 L324.3 244.6 L324.3 245.2 L324.3 245.8 L324.3 246.4 L324.3 247.1 L324.3 247.7 L324.3 248.3 L324.2 249.0 L324.2 249.7 L324.1 250.4 L324.0 251.1 L323.9 251.9 L323.9 252.5 L323.8 253.2 L323.7 253.8 L323.5 254.6 L323.4 255.3 L323.2 256.1 L323.1 256.9 L322.9 257.7 L322.7 258.5 L322.5 259.3 L322.3 260.1 L322.2 260.9 L322.0 261.7 L321.8 262.4 L321.6 263.2 L321.4 263.9 L321.3 264.6 L321.1 265.2 L321.0 265.8 L320.8 266.4 L320.7 266.9 L320.6 267.3 L320.5 267.7Z"/>
<path d="M257.7 328.1 L258.0 328.0 L258.4 327.9 L258.8 327.8 L259.2 327.7 L259.7 327.6 L260.3 327.5 L260.8 327.3 L261.5 327.2 L262.1 327.0 L262.8 326.9 L263.5 326.7 L264.2 326.5 L264.9 326.4 L265.7 326.2 L266.5 326.0 L267.2 325.8 L268.0 325.6 L268.9 325.4 L269.7 325.2 L270.5 325.0 L271.3 324.8 L272.1 324.6 L273.0 324.4 L273.8 324.2 L274.6 323.9 L275.4 323.7 L276.2 323.5 L277.0 323.3 L277.8 323.1 L278.6 322.8 L279.4 322.6 L280.1 322.4 L280.9 322.0 L281.7 321.5 L282.5 321.1 L283.2 320.7 L284.0 320.3 L284.7 319.8 L285.4 319.4 L286.1 319.0 L286.8 318.5 L287.5 318.1 L288.2 317.7 L288.9 317.2 L289.5 316.8 L290.2 316.4 L290.5 315.3 L290.9 314.4 L291.4 313.5 L291.8 312.7 L292.3 311.9 L292.7 311.2 L293.2 310.6 L293.7 310.0 L294.2 309.4 L294.7 308.9 L295.2 308.3 L295.7 307.8 L296.2 307.4 L296.6 306.9 L297.2 306.6 L297.7 306.3 L298.2 306.0 L298.7 305.8 L299.2 305.6 L299.7 305.4 L300.2 305.2 L300.7 305.1 L301.3 304.9 L301.9 304.7 L302.5 304.6 L303.1 304.4 L303.7 304.1 L304.4 303.9 L305.2 303.7 L305.9 303.4 L306.7 303.0 L307.5 302.7 L308.4 302.3 L309.3 301.8 L310.2 301.4 L311.2 300.8 L312.3 300.2 L312.8 300.0 L313.2 299.7 L313.7 299.4 L314.2 299.1 L314.7 298.8 L315.2 298.5 L315.7 298.2 L316.3 297.9 L316.8 297.6 L317.4 297.3 L317.9 296.9 L318.5 296.6 L319.1 296.2 L319.7 295.9 L320.2 295.5 L320.8 295.1 L321.4 294.8 L322.1 294.4 L322.7 294.0 L323.3 293.6 L323.9 293.2 L324.5 292.8 L325.2 292.4 L325.8 292.0 L326.5 291.6 L327.1 291.2 L327.7 290.8 L328.4 290.4 L329.0 289.9 L329.7 289.5 L330.3 289.1 L331.0 288.7 L331.6 288.2 L332.3 287.8 L332.9 287.4 L333.6 286.9 L334.2 286.5 L334.9 286.1 L335.5 285.7 L336.2 285.2 L336.8 284.8 L337.4 284.4 L338.1 284.0 L338.7 283.5 L339.3 283.1 L339.9 282.7 L340.5 282.3 L341.1 281.9 L341.7 281.5 L342.3 281.0 L342.9 280.6 L343.5 280.2 L344.1 279.9 L344.6 279.5 L345.2 279.1 L345.8 278.6 L346.4 278.2 L347.1 277.7 L347.7 277.3 L348.3 276.8 L348.9 276.4 L349.5 275.9 L350.2 275.4 L350.8 275.0 L351.4 274.5 L352.0 274.0 L352.6 273.5 L353.2 273.0 L353.8 272.6 L354.4 272.1 L355.0 271.6 L355.6 271.1 L356.2 270.6 L356.8 270.2 L357.4 269.7 L358.0 269.2 L358.5 268.7 L359.1 268.3 L359.7 267.8 L360.3 267.3 L360.8 266.9 L361.4 266.4 L361.9 265.9 L362.5 265.5 L363.1 265.1 L363.6 264.6 L364.1 264.2 L364.7 263.8 L365.2 263.4 L365.7 262.9 L366.3 262.5 L366.8 262.2 L367.3 261.8 L367.8 261.4 L368.3 261.0 L368.8 260.7 L369.3 260.3 L369.8 260.0 L370.2 259.7 L370.7 259.4 L371.2 259.1 L371.6 258.8 L372.1 258.5 L372.5 258.2 L373.4 257.8 L374.2 257.3 L374.9 256.9 L375.7 256.6 L376.4 256.2 L377.2 255.9 L377.9 255.6 L378.5 255.4 L379.2 255.1 L379.9 254.9 L380.5 254.7 L381.2 254.5 L381.8 254.4 L382.4 254.2 L383.0 254.1 L383.7 254.0 L384.3 253.9 L384.9 253.7 L385.5 253.6 L386.2 253.5 L386.8 253.5 L387.4 253.4 L388.1 253.3 L388.8 253.2 L389.4 253.1 L390.1 253.0 L390.8 252.9 L391.6 252.8 L392.4 252.8 L393.1 252.7 L394.0 252.7 L394.8 252.7 L395.6 252.7 L396.4 252.7 L397.3 252.7 L398.1 252.7 L398.9 252.8 L399.7 252.8 L400.5 252.8 L401.3 252.9 L402.1 252.9 L402.8 253.0 L403.5 253.0 L404.2 253.1 L404.8 253.1 L405.4 253.2 L405.9 253.2 L406.4 253.2 L406.9 253.2 L407.3 253.2 L407.3 252.6 L406.9 252.5 L406.5 252.5 L406.0 252.4 L405.5 252.3 L404.9 252.2 L404.3 252.1 L403.6 252.0 L402.9 251.9 L402.2 251.8 L401.4 251.7 L400.6 251.6 L399.9 251.5 L399.0 251.4 L398.2 251.3 L397.4 251.2 L396.5 251.2 L395.7 251.1 L394.8 251.0 L394.0 251.0 L393.1 251.0 L392.3 250.9 L391.5 250.9 L390.7 251.0 L389.9 251.0 L389.2 251.0 L388.6 251.1 L387.9 251.1 L387.2 251.1 L386.6 251.2 L385.9 251.2 L385.3 251.3 L384.6 251.3 L384.0 251.4 L383.3 251.4 L382.6 251.5 L381.9 251.6 L381.2 251.7 L380.5 251.8 L379.8 251.9 L379.1 252.1 L378.4 252.3 L377.6 252.5 L376.8 252.7 L376.0 253.0 L375.2 253.2 L374.4 253.6 L373.6 253.9 L372.7 254.3 L371.8 254.7 L370.9 255.2 L370.4 255.4 L369.9 255.7 L369.3 256.0 L368.8 256.3 L368.3 256.6 L367.8 256.9 L367.2 257.2 L366.7 257.6 L366.2 257.9 L365.6 258.3 L365.1 258.6 L364.5 259.0 L364.0 259.4 L363.4 259.8 L362.9 260.2 L362.3 260.6 L361.7 261.0 L361.1 261.4 L360.6 261.8 L360.0 262.2 L359.4 262.7 L358.8 263.1 L358.2 263.5 L357.7 264.0 L357.1 264.4 L356.5 264.9 L355.9 265.3 L355.3 265.8 L354.7 266.2 L354.1 266.7 L353.5 267.1 L352.9 267.6 L352.3 268.0 L351.6 268.5 L351.0 268.9 L350.4 269.4 L349.8 269.8 L349.2 270.3 L348.6 270.7 L348.0 271.2 L347.3 271.6 L346.7 272.0 L346.1 272.5 L345.5 272.9 L344.9 273.3 L344.3 273.7 L343.6 274.1 L343.0 274.5 L342.4 274.9 L341.8 275.3 L341.3 275.6 L340.7 276.0 L340.1 276.4 L339.5 276.8 L338.9 277.1 L338.3 277.5 L337.7 277.9 L337.1 278.3 L336.4 278.7 L335.8 279.1 L335.2 279.5 L334.5 279.9 L333.9 280.3 L333.2 280.7 L332.6 281.1 L331.9 281.5 L331.3 281.9 L330.6 282.3 L330.0 282.7 L329.3 283.1 L328.6 283.5 L328.0 283.9 L327.3 284.3 L326.7 284.7 L326.0 285.1 L325.4 285.5 L324.7 285.9 L324.0 286.3 L323.4 286.7 L322.8 287.0 L322.1 287.4 L321.5 287.8 L320.8 288.2 L320.2 288.5 L319.6 288.9 L319.0 289.2 L318.4 289.6 L317.7 289.9 L317.1 290.3 L316.6 290.6 L316.0 290.9 L315.4 291.2 L314.8 291.5 L314.3 291.8 L313.7 292.1 L313.2 292.4 L312.7 292.7 L312.1 293.0 L311.6 293.2 L311.1 293.5 L310.7 293.7 L310.2 294.0 L309.7 294.2 L309.3 294.4 L308.3 294.8 L307.4 295.2 L306.5 295.5 L305.8 295.7 L305.0 295.9 L304.4 296.1 L303.7 296.2 L303.2 296.3 L302.6 296.4 L302.1 296.5 L301.5 296.5 L301.0 296.5 L300.5 296.5 L299.9 296.5 L299.4 296.5 L298.8 296.6 L298.1 296.6 L297.4 296.6 L296.7 296.7 L295.9 296.7 L295.1 296.8 L294.3 296.9 L293.4 297.1 L292.6 297.0 L291.8 297.0 L291.1 297.0 L290.3 296.9 L289.5 296.9 L288.7 296.8 L287.9 296.7 L287.0 296.5 L286.2 296.3 L285.3 296.1 L284.4 295.8 L283.5 295.5 L282.6 295.0 L281.6 294.5 L280.9 294.6 L280.1 294.7 L279.4 294.8 L278.7 294.9 L278.0 295.0 L277.3 295.1 L276.6 295.2 L275.9 295.3 L275.2 295.4 L274.5 295.4 L273.9 295.5 L273.2 295.5 L272.5 295.6 L271.9 295.6 L271.3 295.8 L270.8 296.0 L270.1 296.1 L269.5 296.3 L268.8 296.5 L268.1 296.7 L267.4 296.9 L266.7 297.1 L266.0 297.3 L265.2 297.4 L264.5 297.6 L263.7 297.8 L262.9 298.0 L262.2 298.2 L261.4 298.4 L260.7 298.6 L259.9 298.8 L259.2 298.9 L258.4 299.1 L257.7 299.3 L257.0 299.5 L256.3 299.6 L255.7 299.8 L255.0 299.9 L254.4 300.1 L253.8 300.2 L253.2 300.3 L252.7 300.5 L252.2 300.6 L251.7 300.7 L251.3 300.8 L250.9 300.9Z"/>
<path d="M287.6 353.5 L288.0 353.5 L288.5 353.6 L289.1 353.8 L289.7 353.9 L290.3 354.0 L291.1 354.2 L291.8 354.3 L292.6 354.5 L293.4 354.7 L294.2 354.9 L295.1 355.0 L295.9 355.2 L296.7 355.4 L297.5 355.6 L298.3 355.7 L299.0 355.9 L299.7 356.1 L300.4 356.2 L301.1 356.4 L301.8 356.6 L302.5 356.7 L303.2 356.9 L303.9 357.1 L304.6 357.3 L305.2 357.4 L305.9 357.6 L306.6 357.8 L307.3 357.9 L308.0 358.1 L308.7 358.3 L309.4 358.4 L310.1 358.6 L310.9 358.7 L311.6 358.8 L312.3 358.9 L313.1 359.1 L314.0 359.2 L314.8 359.3 L315.7 359.4 L316.5 359.5 L317.3 359.6 L318.2 359.7 L319.0 359.8 L319.8 359.9 L320.5 360.0 L321.2 360.1 L321.8 360.1 L322.4 360.2 L322.8 360.2 L323.3 360.3 L323.3 359.7 L322.9 359.6 L322.5 359.5 L321.9 359.4 L321.3 359.3 L320.6 359.2 L319.9 359.1 L319.1 358.9 L318.3 358.8 L317.5 358.6 L316.7 358.5 L315.8 358.3 L315.0 358.1 L314.2 358.0 L313.4 357.8 L312.6 357.6 L311.8 357.5 L311.1 357.3 L310.4 357.1 L309.7 356.9 L309.1 356.7 L308.4 356.5 L307.7 356.3 L307.1 356.1 L306.4 355.9 L305.7 355.7 L305.1 355.5 L304.4 355.3 L303.7 355.0 L303.1 354.8 L302.4 354.6 L301.7 354.4 L301.0 354.2 L300.3 353.9 L299.6 353.7 L298.8 353.5 L298.1 353.3 L297.3 353.1 L296.5 352.8 L295.7 352.6 L294.8 352.4 L294.0 352.1 L293.2 351.9 L292.5 351.7 L291.7 351.5 L291.0 351.3 L290.4 351.1 L289.8 350.9 L289.2 350.8 L288.8 350.7 L288.4 350.5Z"/>
<path d="M303.9 355.4 L304.1 355.0 L304.3 354.5 L304.5 353.9 L304.7 353.2 L305.0 352.4 L305.3 351.6 L305.6 350.8 L306.0 350.0 L306.3 349.1 L306.6 348.3 L306.9 347.5 L307.2 346.7 L307.5 346.0 L307.7 345.4 L307.9 344.9 L308.0 344.5 L307.6 344.3 L307.4 344.7 L307.1 345.2 L306.8 345.7 L306.5 346.4 L306.1 347.1 L305.7 347.9 L305.3 348.6 L304.8 349.4 L304.4 350.2 L304.0 351.0 L303.6 351.8 L303.2 352.5 L302.9 353.1 L302.5 353.7 L302.3 354.2 L302.1 354.6Z"/>
<path d="M312.0 358.3 L312.0 357.9 L312.1 357.4 L312.3 356.8 L312.4 356.1 L312.5 355.4 L312.7 354.6 L312.9 353.8 L313.0 353.0 L313.2 352.1 L313.4 351.2 L313.6 350.4 L313.7 349.5 L313.9 348.7 L314.1 347.9 L314.2 347.2 L314.3 346.5 L314.5 346.0 L314.6 345.5 L314.6 345.1 L314.2 344.9 L314.0 345.3 L313.9 345.8 L313.7 346.4 L313.5 347.0 L313.3 347.7 L313.0 348.5 L312.8 349.3 L312.5 350.1 L312.2 350.9 L312.0 351.8 L311.7 352.6 L311.4 353.4 L311.2 354.2 L310.9 355.0 L310.7 355.7 L310.5 356.3 L310.3 356.9 L310.2 357.4 L310.0 357.7Z"/>
<path d="M299.2 356.4 L299.5 356.8 L299.8 357.3 L300.2 357.9 L300.7 358.6 L301.1 359.4 L301.6 360.1 L302.1 360.8 L302.5 361.4 L302.8 361.9 L303.1 362.3 L303.5 362.1 L303.3 361.7 L303.1 361.1 L302.8 360.4 L302.5 359.6 L302.2 358.8 L301.8 358.0 L301.5 357.3 L301.2 356.6 L301.0 356.0 L300.8 355.6Z"/>
<path d="M266.8 358.3 L266.9 358.7 L267.0 359.2 L267.2 359.8 L267.4 360.5 L267.6 361.3 L267.8 362.1 L268.1 363.0 L268.3 363.8 L268.6 364.7 L268.9 365.5 L269.3 366.3 L269.6 366.9 L269.9 367.6 L270.3 368.4 L270.8 369.1 L271.2 369.8 L271.6 370.5 L272.1 371.2 L272.5 371.9 L272.9 372.5 L273.3 373.1 L273.6 373.6 L273.9 374.1 L274.1 374.4 L274.5 374.2 L274.3 373.8 L274.1 373.3 L273.8 372.8 L273.5 372.2 L273.2 371.5 L272.9 370.8 L272.5 370.0 L272.2 369.3 L271.8 368.5 L271.5 367.8 L271.2 367.0 L270.9 366.4 L270.7 365.7 L270.5 365.0 L270.3 364.2 L270.1 363.3 L270.0 362.5 L269.8 361.7 L269.7 360.9 L269.6 360.1 L269.5 359.4 L269.4 358.7 L269.3 358.2 L269.2 357.7Z"/>
<path d="M256.1 367.6 L256.3 367.8 L256.6 368.2 L256.9 368.5 L257.3 369.0 L257.6 369.5 L258.1 370.0 L258.5 370.5 L259.0 371.1 L259.5 371.7 L260.0 372.3 L260.5 372.9 L261.1 373.6 L261.6 374.2 L262.2 374.9 L262.8 375.5 L263.4 376.1 L264.0 376.7 L264.5 377.3 L265.1 377.9 L265.7 378.4 L266.3 378.9 L266.9 379.4 L267.5 379.8 L268.2 380.3 L268.8 380.7 L269.5 381.0 L270.1 381.4 L270.8 381.7 L271.4 382.0 L272.1 382.3 L272.7 382.5 L273.4 382.8 L274.0 383.0 L274.7 383.2 L275.3 383.5 L276.0 383.7 L276.7 384.0 L277.4 384.2 L278.1 384.5 L278.8 384.7 L279.5 385.0 L280.1 385.3 L280.8 385.5 L281.5 385.8 L282.2 386.1 L283.0 386.4 L283.7 386.7 L284.5 387.0 L285.3 387.3 L286.1 387.6 L286.9 387.9 L287.7 388.2 L288.5 388.5 L289.3 388.8 L290.0 389.1 L290.8 389.4 L291.5 389.6 L292.2 389.9 L292.9 390.1 L293.5 390.4 L294.1 390.6 L294.6 390.8 L295.1 391.0 L295.5 391.1 L295.9 391.3 L296.1 390.7 L295.8 390.5 L295.3 390.3 L294.9 390.1 L294.4 389.9 L293.8 389.6 L293.2 389.3 L292.6 389.0 L291.9 388.7 L291.2 388.3 L290.5 388.0 L289.8 387.6 L289.0 387.3 L288.3 386.9 L287.5 386.5 L286.7 386.1 L286.0 385.8 L285.2 385.4 L284.5 385.0 L283.7 384.6 L283.0 384.3 L282.3 383.9 L281.7 383.6 L281.1 383.3 L280.5 383.0 L279.7 382.6 L279.0 382.3 L278.3 381.9 L277.7 381.6 L277.0 381.3 L276.3 381.0 L275.7 380.7 L275.1 380.4 L274.5 380.1 L273.9 379.8 L273.3 379.5 L272.8 379.2 L272.2 378.9 L271.7 378.6 L271.2 378.2 L270.6 377.9 L270.1 377.5 L269.6 377.1 L269.1 376.6 L268.7 376.2 L268.2 375.8 L267.8 375.3 L267.3 374.7 L266.8 374.1 L266.3 373.5 L265.9 372.9 L265.4 372.3 L264.9 371.6 L264.4 371.0 L264.0 370.3 L263.5 369.6 L263.1 369.0 L262.6 368.4 L262.2 367.8 L261.8 367.2 L261.5 366.6 L261.1 366.1 L260.8 365.6 L260.5 365.2 L260.2 364.8 L259.9 364.4Z"/>
</g>
<ellipse cx="236.5" cy="319.0" rx="52" ry="53" fill="#F6AC0E"/>
<circle cx="235.0" cy="321.0" r="47" fill="url(#somaL)"/>
<circle cx="236.0" cy="324.0" r="23" fill="url(#nucL)"/>
<g fill="#EE7A22" opacity="0.5" filter="url(#blur1)"><ellipse cx="238.0" cy="322.0" rx="4" ry="9" transform="rotate(20 238.0 322.0)"/><ellipse cx="248.0" cy="328.0" rx="4" ry="8" transform="rotate(-15 248.0 328.0)"/></g>
<circle cx="236.0" cy="324.0" r="23" fill="url(#nucEL)"/>
<g fill="#F6AC0E">
<path d="M669.1 262.5 L669.1 262.4 L669.2 262.3 L669.3 262.1 L669.4 261.7 L669.7 261.3 L669.9 260.7 L670.2 260.1 L670.6 259.4 L670.9 258.7 L671.3 257.9 L671.7 257.0 L672.1 256.1 L672.5 255.1 L672.9 254.1 L673.3 253.0 L673.8 251.9 L674.2 250.8 L674.6 249.6 L675.0 248.3 L675.4 247.0 L675.7 245.6 L676.0 244.3 L676.1 243.2 L676.1 242.3 L676.0 241.4 L676.0 240.5 L676.0 239.6 L675.9 238.7 L675.9 237.8 L675.8 236.9 L675.7 236.1 L675.6 235.2 L675.5 234.3 L675.4 233.5 L675.3 232.6 L675.2 231.8 L675.1 230.9 L675.0 230.1 L674.9 229.2 L674.8 228.4 L674.6 227.6 L674.5 226.8 L674.4 226.0 L674.3 225.2 L674.1 224.4 L674.0 223.7 L673.8 222.9 L673.7 222.2 L673.6 221.4 L673.4 220.7 L673.3 220.0 L673.1 219.4 L673.0 218.7 L673.0 217.9 L671.9 217.0 L671.0 216.1 L670.2 215.3 L669.6 214.5 L669.0 213.7 L668.5 212.9 L668.1 212.1 L667.7 211.3 L667.4 210.6 L667.1 209.8 L666.8 209.1 L666.5 208.3 L666.3 207.6 L666.1 206.9 L665.9 206.1 L665.7 205.4 L665.5 204.7 L665.4 204.0 L665.2 203.2 L665.1 202.5 L664.9 201.8 L664.8 201.1 L664.6 200.4 L664.5 199.7 L664.4 199.0 L664.4 198.3 L664.3 197.6 L664.3 196.9 L664.2 196.2 L664.2 195.6 L664.2 194.9 L664.1 194.2 L664.1 193.5 L664.1 192.8 L664.0 192.0 L664.0 191.3 L663.9 190.6 L663.8 189.8 L663.7 189.0 L663.6 188.3 L663.5 187.5 L663.4 186.6 L663.3 185.8 L663.1 185.0 L662.9 184.1 L662.7 183.2 L662.5 182.3 L662.3 181.4 L662.1 180.8 L661.9 180.1 L661.7 179.5 L661.5 178.8 L661.2 178.2 L661.0 177.5 L660.8 176.9 L660.5 176.2 L660.3 175.5 L660.0 174.9 L659.7 174.2 L659.5 173.5 L659.2 172.8 L658.9 172.1 L658.6 171.4 L658.3 170.8 L658.0 170.1 L657.7 169.4 L657.4 168.7 L657.1 168.0 L656.8 167.3 L656.5 166.6 L656.2 165.9 L655.9 165.2 L655.6 164.5 L655.3 163.8 L655.0 163.2 L654.7 162.5 L654.4 161.8 L654.1 161.1 L653.8 160.4 L653.4 159.8 L653.1 159.1 L652.8 158.5 L652.5 157.8 L652.2 157.2 L651.8 156.5 L651.4 155.8 L651.1 155.2 L650.7 154.5 L650.3 153.8 L649.9 153.1 L649.5 152.3 L649.0 151.6 L648.6 150.9 L648.2 150.2 L647.8 149.5 L647.4 148.7 L646.9 148.0 L646.5 147.3 L646.1 146.6 L645.7 145.9 L645.3 145.2 L644.8 144.5 L644.4 143.8 L644.0 143.2 L643.6 142.5 L643.2 141.9 L642.9 141.3 L642.5 140.7 L642.1 140.1 L641.8 139.5 L641.4 139.0 L641.1 138.5 L640.8 138.0 L640.5 137.5 L640.2 137.1 L639.9 136.7 L639.7 136.3 L639.4 136.0 L639.2 135.7 L633.8 138.3 L633.9 138.7 L634.0 139.1 L634.2 139.5 L634.3 140.0 L634.5 140.5 L634.7 141.0 L634.8 141.6 L635.1 142.1 L635.3 142.7 L635.5 143.4 L635.7 144.0 L636.0 144.7 L636.2 145.3 L636.5 146.0 L636.8 146.7 L637.1 147.5 L637.3 148.2 L637.6 148.9 L637.9 149.7 L638.2 150.4 L638.5 151.2 L638.8 152.0 L639.1 152.7 L639.4 153.5 L639.7 154.3 L639.9 155.0 L640.2 155.8 L640.5 156.5 L640.8 157.3 L641.0 158.0 L641.3 158.8 L641.6 159.5 L641.8 160.2 L642.0 160.9 L642.2 161.5 L642.5 162.2 L642.7 162.9 L643.0 163.5 L643.3 164.2 L643.6 164.9 L643.8 165.6 L644.1 166.2 L644.4 166.9 L644.7 167.6 L645.0 168.3 L645.2 169.0 L645.5 169.6 L645.8 170.3 L646.1 171.0 L646.3 171.7 L646.6 172.4 L646.8 173.0 L647.1 173.7 L647.4 174.4 L647.6 175.0 L647.9 175.7 L648.1 176.3 L648.3 177.0 L648.6 177.6 L648.8 178.3 L649.0 178.9 L649.2 179.5 L649.4 180.1 L649.6 180.7 L649.8 181.3 L650.0 181.9 L650.1 182.4 L650.3 183.0 L650.4 183.5 L650.6 184.1 L650.7 184.6 L650.9 185.3 L651.1 186.0 L651.3 186.7 L651.4 187.4 L651.5 188.0 L651.7 188.7 L651.8 189.3 L651.9 189.9 L652.0 190.5 L652.0 191.1 L652.1 191.7 L652.2 192.3 L652.2 192.9 L652.3 193.5 L652.3 194.2 L652.3 194.8 L652.4 195.4 L652.4 196.1 L652.4 196.8 L652.5 197.4 L652.5 198.1 L652.5 198.9 L652.5 199.6 L652.5 200.3 L652.5 201.0 L652.4 201.7 L652.3 202.4 L652.2 203.0 L652.1 203.7 L652.0 204.4 L651.9 205.0 L651.7 205.7 L651.6 206.4 L651.4 207.0 L651.2 207.7 L651.0 208.4 L650.7 209.0 L650.4 209.7 L650.1 210.4 L649.8 211.0 L649.4 211.7 L648.9 212.4 L648.4 213.1 L647.7 213.8 L647.0 214.5 L646.2 215.2 L645.2 215.8 L644.1 216.5 L644.0 217.3 L643.8 217.9 L643.6 218.6 L643.4 219.3 L643.2 219.9 L643.0 220.6 L642.8 221.3 L642.5 222.0 L642.3 222.7 L642.1 223.4 L641.9 224.1 L641.7 224.8 L641.5 225.5 L641.2 226.2 L641.0 226.9 L640.8 227.6 L640.6 228.2 L640.3 228.9 L640.1 229.5 L639.9 230.2 L639.6 230.8 L639.4 231.4 L639.1 232.0 L638.9 232.5 L638.6 233.0 L638.4 233.6 L638.2 234.0 L637.9 234.5 L637.7 234.9 L637.4 235.2 L637.2 235.5 L637.0 235.7 L636.9 236.1 L636.8 236.4 L636.7 236.7 L636.6 237.1 L636.4 237.6 L636.3 238.0 L636.1 238.5 L635.9 239.0 L635.7 239.5 L635.4 240.1 L635.2 240.6 L634.9 241.2 L634.7 241.7 L634.4 242.3 L634.1 242.8 L633.9 243.4 L633.6 244.0 L633.3 244.6 L633.0 245.2 L632.7 245.8 L632.4 246.6 L632.1 247.2Z"/>
<path d="M637.3 135.2 L637.0 134.9 L636.6 134.6 L636.2 134.3 L635.8 133.9 L635.4 133.6 L634.9 133.2 L634.4 132.7 L633.9 132.3 L633.3 131.8 L632.8 131.3 L632.2 130.8 L631.6 130.3 L631.0 129.8 L630.4 129.3 L629.8 128.7 L629.3 128.2 L628.7 127.7 L628.1 127.1 L627.5 126.5 L626.9 126.0 L626.4 125.4 L625.9 124.9 L625.4 124.4 L624.9 123.9 L624.5 123.3 L624.1 122.8 L623.6 122.3 L623.2 121.7 L622.8 121.2 L622.3 120.6 L621.9 120.0 L621.5 119.4 L621.1 118.8 L620.7 118.2 L620.3 117.6 L619.9 117.0 L619.5 116.4 L619.1 115.8 L618.7 115.2 L618.4 114.6 L618.0 114.0 L617.7 113.4 L617.3 112.8 L617.0 112.2 L616.7 111.6 L616.4 111.0 L616.1 110.5 L615.8 109.9 L615.5 109.4 L615.3 108.8 L615.0 108.1 L614.7 107.4 L614.4 106.6 L614.1 105.9 L613.9 105.3 L613.7 104.6 L613.5 103.9 L613.3 103.2 L613.1 102.6 L613.0 101.9 L612.8 101.2 L612.7 100.6 L612.6 99.9 L612.5 99.3 L612.5 98.6 L612.4 97.9 L612.4 97.3 L612.3 96.6 L612.3 95.9 L612.4 95.1 L612.4 94.4 L612.5 93.6 L612.6 92.7 L612.8 91.9 L612.9 91.1 L613.1 90.3 L613.3 89.5 L613.5 88.7 L613.7 87.9 L613.8 87.2 L614.0 86.6 L614.2 85.9 L614.3 85.4 L614.4 84.9 L614.5 84.5 L613.7 84.3 L613.6 84.7 L613.5 85.2 L613.3 85.7 L613.1 86.3 L612.9 86.9 L612.7 87.6 L612.4 88.4 L612.2 89.2 L611.9 90.0 L611.7 90.8 L611.5 91.6 L611.3 92.5 L611.1 93.3 L610.9 94.2 L610.8 95.0 L610.7 95.8 L610.7 96.6 L610.7 97.3 L610.6 98.0 L610.7 98.7 L610.7 99.4 L610.7 100.1 L610.8 100.8 L610.9 101.5 L610.9 102.2 L611.1 103.0 L611.2 103.7 L611.3 104.4 L611.5 105.2 L611.7 105.9 L611.9 106.7 L612.1 107.4 L612.4 108.2 L612.6 109.0 L612.9 109.8 L613.1 110.4 L613.4 111.0 L613.6 111.6 L613.9 112.2 L614.2 112.8 L614.5 113.5 L614.8 114.1 L615.1 114.8 L615.4 115.4 L615.7 116.1 L616.0 116.7 L616.4 117.4 L616.7 118.0 L617.1 118.7 L617.5 119.4 L617.9 120.0 L618.2 120.7 L618.6 121.3 L619.0 122.0 L619.4 122.6 L619.8 123.2 L620.2 123.8 L620.7 124.5 L621.1 125.1 L621.5 125.7 L622.0 126.3 L622.4 126.9 L622.9 127.5 L623.5 128.1 L624.0 128.7 L624.5 129.4 L625.1 130.0 L625.7 130.6 L626.3 131.2 L626.8 131.8 L627.4 132.4 L628.0 133.0 L628.6 133.6 L629.1 134.2 L629.7 134.7 L630.2 135.2 L630.7 135.7 L631.2 136.2 L631.7 136.7 L632.1 137.1 L632.5 137.5 L632.9 137.9 L633.2 138.2 L633.5 138.5 L633.7 138.8Z"/>
<path d="M637.9 137.7 L638.0 137.3 L638.1 136.8 L638.2 136.3 L638.4 135.8 L638.5 135.2 L638.6 134.6 L638.8 133.9 L639.0 133.2 L639.1 132.5 L639.3 131.8 L639.5 131.0 L639.6 130.2 L639.8 129.5 L640.0 128.7 L640.2 127.9 L640.4 127.1 L640.6 126.3 L640.9 125.6 L641.1 124.8 L641.3 124.1 L641.5 123.4 L641.8 122.7 L642.0 122.1 L642.3 121.5 L642.5 121.0 L642.8 120.3 L643.1 119.7 L643.4 119.1 L643.8 118.5 L644.1 117.9 L644.5 117.3 L644.9 116.7 L645.3 116.2 L645.7 115.6 L646.1 115.1 L646.5 114.5 L646.9 114.0 L647.3 113.5 L647.8 112.9 L648.2 112.4 L648.6 111.9 L649.1 111.4 L649.5 110.9 L650.0 110.4 L650.5 109.9 L650.9 109.4 L651.4 108.9 L651.9 108.4 L652.5 107.8 L653.0 107.3 L653.6 106.8 L654.2 106.3 L654.8 105.7 L655.5 105.2 L656.1 104.7 L656.7 104.2 L657.3 103.7 L657.9 103.3 L658.5 102.8 L659.0 102.4 L659.5 102.0 L660.0 101.6 L660.5 101.2 L660.9 100.9 L661.3 100.6 L661.6 100.4 L659.4 97.6 L659.1 97.9 L658.8 98.1 L658.4 98.4 L657.9 98.8 L657.4 99.1 L656.9 99.5 L656.3 99.9 L655.7 100.4 L655.1 100.8 L654.4 101.3 L653.8 101.8 L653.1 102.3 L652.4 102.8 L651.8 103.3 L651.1 103.9 L650.5 104.4 L649.8 105.0 L649.2 105.5 L648.6 106.1 L648.1 106.6 L647.6 107.1 L647.1 107.6 L646.6 108.1 L646.1 108.7 L645.6 109.2 L645.1 109.7 L644.7 110.2 L644.2 110.8 L643.7 111.4 L643.2 111.9 L642.7 112.5 L642.3 113.1 L641.8 113.7 L641.4 114.3 L640.9 114.9 L640.5 115.6 L640.1 116.2 L639.7 116.9 L639.3 117.6 L638.9 118.3 L638.5 119.0 L638.2 119.7 L637.9 120.4 L637.6 121.1 L637.3 121.9 L637.0 122.6 L636.7 123.4 L636.5 124.2 L636.2 125.0 L636.0 125.8 L635.7 126.6 L635.5 127.4 L635.3 128.3 L635.0 129.1 L634.8 129.8 L634.6 130.6 L634.4 131.4 L634.2 132.1 L634.1 132.8 L633.9 133.4 L633.7 134.0 L633.6 134.6 L633.4 135.1 L633.3 135.6 L633.2 136.0 L633.1 136.3Z"/>
<path d="M653.6 214.2 L653.5 214.0 L653.3 213.7 L653.1 213.3 L652.9 212.9 L652.6 212.5 L652.4 212.0 L652.1 211.5 L651.9 210.9 L651.6 210.4 L651.3 209.8 L651.0 209.1 L650.7 208.5 L650.4 207.8 L650.0 207.1 L649.7 206.4 L649.3 205.6 L649.0 204.9 L648.6 204.1 L648.2 203.4 L647.7 202.6 L647.3 201.8 L646.9 201.1 L646.4 200.3 L645.9 199.5 L645.4 198.7 L644.9 198.0 L644.3 197.2 L643.8 196.5 L643.4 196.0 L643.1 195.5 L642.7 195.0 L642.3 194.5 L641.9 193.9 L641.5 193.4 L641.1 192.8 L640.6 192.3 L640.2 191.7 L639.8 191.2 L639.3 190.6 L638.9 190.0 L638.4 189.5 L637.9 188.9 L637.5 188.3 L637.0 187.7 L636.5 187.2 L636.0 186.6 L635.5 186.0 L635.0 185.4 L634.5 184.8 L634.0 184.3 L633.5 183.7 L633.0 183.1 L632.4 182.6 L631.9 182.0 L631.4 181.4 L630.9 180.9 L630.3 180.3 L629.8 179.8 L629.3 179.3 L628.7 178.7 L628.2 178.2 L627.7 177.7 L627.1 177.2 L626.6 176.7 L626.0 176.3 L625.5 175.8 L625.0 175.4 L624.4 174.9 L623.9 174.5 L623.3 174.0 L622.7 173.6 L622.2 173.1 L621.6 172.7 L621.0 172.3 L620.5 171.8 L619.9 171.4 L619.4 171.0 L618.8 170.6 L618.2 170.2 L617.7 169.9 L617.1 169.5 L616.5 169.1 L616.0 168.8 L615.4 168.4 L614.8 168.1 L614.2 167.7 L613.6 167.4 L613.0 167.1 L612.4 166.8 L611.8 166.5 L611.1 166.2 L610.5 165.9 L609.9 165.6 L609.2 165.3 L608.5 165.0 L607.8 164.7 L607.1 164.5 L606.4 164.2 L605.7 163.9 L604.9 163.7 L604.2 163.4 L603.4 163.2 L602.6 162.9 L601.8 162.7 L600.9 162.4 L600.4 162.3 L599.7 162.1 L599.1 162.0 L598.5 161.9 L597.8 161.7 L597.1 161.6 L596.4 161.4 L595.7 161.3 L595.0 161.2 L594.2 161.1 L593.5 160.9 L592.7 160.8 L591.9 160.7 L591.1 160.6 L590.3 160.5 L589.5 160.4 L588.7 160.3 L587.9 160.1 L587.1 160.0 L586.2 159.9 L585.4 159.8 L584.6 159.7 L583.7 159.7 L582.9 159.6 L582.1 159.5 L581.2 159.4 L580.4 159.3 L579.6 159.2 L578.8 159.1 L577.9 159.0 L577.1 159.0 L576.3 158.9 L575.5 158.8 L574.8 158.7 L574.0 158.7 L573.2 158.6 L572.5 158.5 L571.8 158.5 L571.1 158.4 L570.4 158.4 L569.7 158.3 L569.0 158.2 L568.4 158.2 L567.7 158.1 L567.1 158.1 L566.6 158.0 L566.0 158.0 L565.5 157.9 L565.0 157.9 L564.5 157.9 L564.0 157.8 L563.6 157.8 L563.2 157.7 L562.8 157.7 L562.8 158.3 L563.1 158.4 L563.5 158.4 L563.9 158.5 L564.4 158.6 L564.9 158.7 L565.4 158.7 L565.9 158.8 L566.5 158.9 L567.0 159.0 L567.6 159.1 L568.3 159.2 L568.9 159.2 L569.6 159.3 L570.2 159.4 L570.9 159.5 L571.6 159.6 L572.4 159.7 L573.1 159.8 L573.9 159.9 L574.6 160.0 L575.4 160.1 L576.2 160.2 L577.0 160.3 L577.8 160.4 L578.6 160.6 L579.4 160.7 L580.2 160.8 L581.0 160.9 L581.9 161.0 L582.7 161.1 L583.5 161.3 L584.3 161.4 L585.2 161.5 L586.0 161.7 L586.8 161.8 L587.6 161.9 L588.4 162.1 L589.2 162.2 L590.0 162.3 L590.8 162.5 L591.6 162.6 L592.3 162.8 L593.1 162.9 L593.8 163.1 L594.6 163.3 L595.3 163.4 L596.0 163.6 L596.6 163.7 L597.3 163.9 L597.9 164.1 L598.5 164.2 L599.1 164.4 L599.7 164.6 L600.3 164.8 L601.1 165.0 L601.9 165.3 L602.6 165.5 L603.4 165.8 L604.1 166.1 L604.8 166.3 L605.5 166.6 L606.2 166.9 L606.8 167.2 L607.5 167.5 L608.1 167.8 L608.7 168.0 L609.3 168.3 L609.9 168.7 L610.5 169.0 L611.1 169.3 L611.6 169.6 L612.2 169.9 L612.7 170.3 L613.3 170.6 L613.8 170.9 L614.3 171.3 L614.9 171.7 L615.4 172.0 L615.9 172.4 L616.4 172.8 L616.9 173.2 L617.5 173.6 L618.0 174.0 L618.5 174.4 L619.0 174.8 L619.5 175.3 L620.1 175.7 L620.6 176.2 L621.2 176.6 L621.7 177.1 L622.2 177.5 L622.6 178.0 L623.1 178.4 L623.6 178.9 L624.1 179.4 L624.5 179.9 L625.0 180.4 L625.5 180.9 L626.0 181.4 L626.4 182.0 L626.9 182.5 L627.4 183.0 L627.8 183.6 L628.3 184.2 L628.8 184.7 L629.3 185.3 L629.7 185.9 L630.2 186.5 L630.6 187.1 L631.1 187.7 L631.5 188.2 L632.0 188.8 L632.4 189.4 L632.9 190.0 L633.3 190.6 L633.7 191.2 L634.1 191.8 L634.6 192.4 L635.0 193.0 L635.4 193.5 L635.8 194.1 L636.1 194.7 L636.5 195.3 L636.9 195.8 L637.2 196.4 L637.6 196.9 L637.9 197.5 L638.3 198.0 L638.6 198.5 L638.9 199.0 L639.2 199.5 L639.6 200.2 L640.0 200.9 L640.3 201.7 L640.6 202.4 L641.0 203.1 L641.3 203.9 L641.6 204.6 L641.9 205.3 L642.1 206.1 L642.4 206.8 L642.6 207.6 L642.9 208.3 L643.1 209.0 L643.3 209.7 L643.5 210.4 L643.7 211.1 L643.9 211.7 L644.0 212.4 L644.2 213.0 L644.3 213.6 L644.5 214.2 L644.6 214.8 L644.8 215.4 L644.9 215.9 L645.0 216.4 L645.1 216.9 L645.3 217.4 L645.4 217.8Z"/>
<path d="M638.4 247.1 L638.1 247.0 L637.8 246.9 L637.5 246.8 L637.1 246.6 L636.6 246.4 L636.0 246.1 L635.4 245.9 L634.7 245.6 L634.0 245.3 L633.3 245.0 L632.5 244.7 L631.7 244.4 L630.9 244.0 L630.1 243.7 L629.2 243.4 L628.3 243.0 L627.4 242.7 L626.5 242.4 L625.5 242.0 L624.5 241.7 L623.6 241.4 L622.6 241.1 L621.5 240.8 L620.5 240.5 L619.5 240.5 L618.6 240.5 L617.6 240.5 L616.7 240.5 L615.8 240.5 L614.9 240.6 L614.0 240.6 L613.1 240.7 L612.3 240.8 L611.4 240.8 L610.6 240.9 L609.7 241.0 L608.9 241.1 L608.1 241.2 L607.3 241.3 L606.6 241.4 L605.8 241.5 L605.1 241.7 L604.3 241.8 L603.6 241.9 L603.0 242.0 L602.3 242.1 L601.7 242.2 L601.1 242.3 L600.5 242.5 L599.9 242.6 L599.4 242.7 L598.5 242.6 L597.5 243.1 L596.5 243.5 L595.6 243.9 L594.8 244.2 L594.0 244.5 L593.3 244.7 L592.7 244.9 L592.0 245.0 L591.4 245.1 L590.9 245.3 L590.3 245.3 L589.8 245.4 L589.3 245.4 L588.8 245.4 L588.3 245.4 L587.9 245.4 L587.4 245.3 L586.9 245.2 L586.4 245.1 L585.9 244.9 L585.4 244.7 L584.9 244.4 L584.4 244.2 L583.9 243.9 L583.4 243.5 L582.9 243.2 L582.4 242.8 L581.8 242.4 L581.3 242.0 L580.8 241.6 L580.2 241.2 L579.7 240.8 L579.2 240.3 L578.6 239.9 L578.1 239.4 L577.6 238.9 L577.0 238.5 L576.5 238.0 L576.1 237.6 L575.6 237.1 L575.1 236.7 L574.6 236.2 L574.1 235.6 L573.7 235.1 L573.2 234.6 L572.7 234.0 L572.2 233.5 L571.7 232.9 L571.2 232.3 L570.8 231.8 L570.3 231.2 L569.8 230.7 L569.4 230.1 L568.9 229.6 L568.5 229.1 L568.0 228.6 L567.6 228.1 L567.1 227.7 L566.4 227.0 L565.8 226.4 L565.3 225.8 L564.7 225.3 L564.2 224.9 L563.7 224.5 L563.2 224.0 L562.7 223.6 L562.0 223.1 L561.3 222.5 L560.9 222.1 L560.4 221.7 L559.9 221.3 L559.4 220.9 L558.9 220.4 L558.4 219.9 L557.8 219.4 L557.2 218.8 L556.6 218.3 L555.9 217.8 L555.3 217.3 L554.6 216.8 L553.9 216.3 L553.2 215.8 L552.5 215.3 L551.7 214.9 L551.0 214.5 L550.3 214.2 L549.6 213.9 L548.9 213.6 L548.2 213.3 L547.5 213.0 L546.7 212.8 L546.0 212.5 L545.3 212.3 L544.5 212.1 L543.7 211.9 L543.0 211.7 L542.2 211.6 L541.4 211.4 L540.6 211.3 L539.8 211.1 L539.0 211.0 L538.2 210.9 L537.4 210.8 L536.7 210.8 L536.0 210.7 L535.3 210.7 L534.7 210.6 L534.0 210.6 L533.3 210.6 L532.6 210.6 L531.9 210.6 L531.2 210.6 L530.4 210.6 L529.7 210.6 L529.0 210.6 L528.2 210.7 L527.5 210.7 L526.7 210.8 L525.9 210.8 L525.1 210.9 L524.3 211.0 L523.5 211.1 L522.7 211.3 L521.9 211.4 L521.0 211.6 L520.4 211.7 L519.7 211.8 L519.0 212.0 L518.3 212.2 L517.6 212.4 L516.8 212.6 L516.1 212.8 L515.3 213.0 L514.5 213.2 L513.7 213.4 L512.9 213.7 L512.1 213.9 L511.3 214.2 L510.5 214.4 L509.7 214.7 L508.9 214.9 L508.1 215.2 L507.4 215.4 L506.6 215.7 L505.9 215.9 L505.1 216.2 L504.5 216.4 L503.8 216.6 L503.2 216.8 L502.5 217.0 L502.0 217.2 L501.4 217.4 L500.9 217.6 L500.5 217.7 L500.1 217.9 L499.7 218.0 L499.9 218.6 L500.3 218.5 L500.7 218.4 L501.2 218.3 L501.7 218.2 L502.2 218.1 L502.8 218.0 L503.4 217.8 L504.1 217.7 L504.8 217.5 L505.5 217.3 L506.2 217.1 L507.0 217.0 L507.7 216.8 L508.5 216.6 L509.3 216.4 L510.1 216.2 L510.9 216.0 L511.7 215.8 L512.6 215.6 L513.4 215.5 L514.2 215.3 L515.0 215.1 L515.8 214.9 L516.6 214.8 L517.3 214.6 L518.1 214.5 L518.8 214.4 L519.5 214.3 L520.1 214.2 L520.8 214.1 L521.4 214.0 L522.2 214.0 L523.0 213.9 L523.8 213.8 L524.6 213.8 L525.4 213.8 L526.1 213.7 L526.8 213.7 L527.6 213.8 L528.3 213.8 L529.0 213.8 L529.7 213.8 L530.4 213.9 L531.0 213.9 L531.7 214.0 L532.4 214.1 L533.0 214.2 L533.7 214.2 L534.3 214.3 L534.9 214.4 L535.6 214.6 L536.2 214.7 L536.8 214.8 L537.6 214.9 L538.3 215.1 L539.1 215.2 L539.8 215.4 L540.5 215.6 L541.2 215.8 L541.9 216.0 L542.5 216.2 L543.2 216.4 L543.8 216.6 L544.5 216.9 L545.1 217.1 L545.7 217.4 L546.3 217.7 L546.9 218.0 L547.5 218.3 L548.1 218.6 L548.6 218.9 L549.2 219.2 L549.7 219.6 L550.2 220.0 L550.8 220.4 L551.3 220.9 L551.8 221.4 L552.4 221.9 L552.9 222.4 L553.4 222.9 L553.9 223.4 L554.4 223.9 L554.9 224.5 L555.4 225.0 L555.9 225.5 L556.4 226.0 L556.8 226.5 L557.3 226.9 L557.9 227.6 L558.5 228.1 L558.9 228.6 L559.3 229.0 L559.6 229.4 L560.0 229.9 L560.3 230.3 L560.7 230.9 L561.3 231.5 L561.9 232.3 L562.2 232.7 L562.5 233.1 L562.8 233.6 L563.1 234.1 L563.5 234.7 L563.9 235.2 L564.3 235.8 L564.7 236.4 L565.1 237.0 L565.6 237.6 L566.0 238.3 L566.5 238.9 L566.9 239.6 L567.4 240.2 L567.9 240.9 L568.4 241.5 L568.9 242.2 L569.4 242.8 L569.9 243.4 L570.5 244.0 L571.0 244.6 L571.4 245.1 L571.9 245.6 L572.4 246.2 L573.0 246.8 L573.5 247.3 L574.0 247.9 L574.6 248.4 L575.1 249.0 L575.7 249.6 L576.3 250.1 L576.8 250.7 L577.4 251.2 L578.1 251.8 L578.7 252.3 L579.3 252.8 L580.0 253.3 L580.7 253.8 L581.4 254.3 L582.1 254.8 L582.9 255.3 L583.6 255.7 L584.4 256.2 L585.2 256.6 L585.9 257.0 L586.7 257.4 L587.4 257.8 L588.2 258.1 L588.9 258.5 L589.6 258.8 L590.3 259.2 L591.0 259.6 L591.7 260.1 L592.4 260.5 L593.0 261.1 L593.7 261.6 L594.3 262.3 L594.9 263.1 L595.6 263.3 L596.3 263.7 L597.0 264.0 L597.7 264.3 L598.4 264.6 L599.1 264.9 L599.8 265.2 L600.5 265.5 L601.2 265.8 L601.9 266.1 L602.6 266.4 L603.3 266.7 L604.1 267.0 L604.7 267.3 L605.4 267.6 L606.1 267.9 L606.8 268.2 L607.4 268.5 L608.1 268.8 L608.7 269.1 L609.3 269.4 L609.8 269.7 L610.4 270.0 L610.9 270.3 L611.3 270.6 L611.8 270.9 L612.2 271.2 L612.5 271.5 L612.9 271.6 L613.4 271.8 L614.0 271.9 L614.5 272.1 L615.1 272.3 L615.8 272.5 L616.4 272.8 L617.1 273.0 L617.7 273.2 L618.4 273.5 L619.1 273.8 L619.7 274.0 L620.4 274.3 L621.1 274.6 L621.7 274.9 L622.4 275.1 L623.0 275.4 L623.6 275.6 L624.2 275.9 L624.7 276.1 L625.3 276.4 L625.8 276.6 L626.4 276.8 L626.9 277.0Z"/>
<path d="M562.5 223.3 L562.5 223.0 L562.6 222.6 L562.7 222.1 L562.9 221.6 L563.0 221.0 L563.2 220.3 L563.4 219.7 L563.6 218.9 L563.8 218.2 L564.0 217.4 L564.1 216.5 L564.3 215.7 L564.4 214.8 L564.5 213.9 L564.6 213.1 L564.6 212.1 L564.6 211.2 L564.6 210.3 L564.5 209.7 L564.5 209.0 L564.4 208.4 L564.3 207.7 L564.2 207.0 L564.1 206.2 L564.0 205.5 L563.8 204.8 L563.7 204.0 L563.5 203.2 L563.4 202.5 L563.2 201.7 L563.0 200.9 L562.8 200.2 L562.6 199.4 L562.4 198.7 L562.2 197.9 L562.0 197.2 L561.7 196.5 L561.5 195.8 L561.2 195.1 L560.9 194.4 L560.7 193.8 L560.4 193.1 L560.1 192.5 L559.7 191.8 L559.3 191.1 L558.9 190.4 L558.5 189.7 L558.0 189.1 L557.5 188.5 L557.0 187.9 L556.5 187.3 L556.0 186.7 L555.5 186.2 L555.0 185.6 L554.5 185.1 L553.9 184.6 L553.4 184.1 L552.8 183.6 L552.3 183.2 L551.8 182.7 L551.2 182.3 L550.7 181.8 L550.1 181.4 L549.5 180.9 L548.9 180.4 L548.2 180.0 L547.5 179.6 L546.8 179.1 L546.0 178.7 L545.3 178.3 L544.6 178.0 L543.8 177.6 L543.1 177.3 L542.4 177.0 L541.8 176.7 L541.2 176.4 L540.6 176.1 L540.0 175.9 L539.6 175.7 L539.2 175.5 L538.8 175.3 L538.6 175.7 L538.9 175.9 L539.3 176.1 L539.8 176.4 L540.3 176.7 L540.9 176.9 L541.5 177.2 L542.1 177.6 L542.8 177.9 L543.5 178.3 L544.2 178.7 L544.9 179.1 L545.6 179.5 L546.3 179.9 L547.0 180.4 L547.6 180.8 L548.3 181.3 L548.9 181.7 L549.5 182.2 L550.0 182.7 L550.5 183.1 L551.0 183.6 L551.5 184.1 L552.0 184.5 L552.5 185.0 L553.0 185.5 L553.5 186.1 L554.0 186.6 L554.5 187.1 L554.9 187.7 L555.4 188.2 L555.8 188.8 L556.3 189.4 L556.7 190.0 L557.1 190.6 L557.5 191.3 L557.8 191.9 L558.2 192.6 L558.5 193.3 L558.7 193.8 L559.0 194.4 L559.2 195.1 L559.4 195.7 L559.6 196.4 L559.8 197.1 L560.0 197.8 L560.2 198.5 L560.4 199.2 L560.6 199.9 L560.7 200.7 L560.9 201.4 L561.0 202.2 L561.2 202.9 L561.3 203.7 L561.4 204.4 L561.5 205.1 L561.6 205.9 L561.7 206.6 L561.8 207.3 L561.8 207.9 L561.9 208.6 L561.9 209.3 L562.0 209.9 L562.0 210.5 L562.0 211.2 L562.0 212.0 L561.9 212.8 L561.8 213.6 L561.6 214.4 L561.5 215.2 L561.3 215.9 L561.1 216.7 L560.9 217.4 L560.7 218.1 L560.5 218.8 L560.3 219.5 L560.1 220.1 L559.9 220.7 L559.7 221.3 L559.6 221.8 L559.4 222.2 L559.3 222.7Z"/>
<path d="M621.1 258.0 L620.7 258.2 L620.2 258.6 L619.8 258.9 L619.3 259.2 L618.8 259.5 L618.3 259.9 L617.7 260.3 L617.2 260.7 L616.6 261.0 L616.0 261.4 L615.4 261.9 L614.8 262.3 L614.2 262.7 L613.5 263.1 L612.9 263.5 L612.3 264.0 L611.7 264.4 L611.0 264.8 L610.4 265.2 L609.8 265.5 L609.3 265.9 L608.7 266.2 L608.2 266.6 L607.7 266.9 L607.2 267.1 L606.8 267.4 L606.5 267.6 L606.1 268.0 L605.7 268.5 L605.3 269.0 L604.9 269.5 L604.5 270.0 L604.0 270.5 L603.6 271.0 L603.1 271.5 L602.6 271.9 L602.2 272.4 L601.7 272.9 L601.2 273.4 L600.7 273.9 L600.2 274.3 L599.8 274.8 L599.3 275.3 L598.8 275.7 L598.3 276.2 L597.8 276.7 L597.3 277.1 L596.8 277.6 L596.3 278.0 L595.9 278.5 L595.7 279.7 L595.4 280.9 L595.0 281.9 L594.6 282.8 L594.3 283.6 L593.9 284.3 L593.4 284.9 L593.0 285.5 L592.6 286.0 L592.1 286.5 L591.7 286.9 L591.2 287.4 L590.7 287.8 L590.2 288.1 L589.6 288.5 L589.0 288.9 L588.4 289.2 L587.7 289.5 L587.0 289.9 L586.3 290.2 L585.7 290.4 L585.1 290.6 L584.5 290.8 L583.8 291.0 L583.2 291.2 L582.5 291.3 L581.8 291.5 L581.0 291.7 L580.3 291.8 L579.5 292.0 L578.8 292.2 L578.0 292.3 L577.3 292.5 L576.5 292.6 L575.8 292.8 L575.0 292.9 L574.3 293.0 L573.5 293.2 L572.8 293.3 L572.1 293.4 L571.4 293.6 L570.8 293.7 L570.1 293.8 L569.5 293.9 L568.9 294.0 L568.0 294.2 L567.2 294.3 L566.4 294.4 L565.6 294.5 L564.8 294.6 L564.1 294.7 L563.4 294.8 L562.8 294.9 L562.1 294.9 L561.4 295.0 L560.7 295.1 L560.0 295.2 L559.4 295.3 L558.7 295.4 L557.9 295.5 L557.1 295.7 L556.3 295.8 L555.4 296.0 L554.6 296.2 L553.8 296.4 L553.0 296.5 L552.2 296.7 L551.5 296.9 L550.8 297.0 L550.2 297.2 L549.6 297.3 L549.2 297.5 L548.8 297.6 L550.2 305.4 L550.6 305.4 L551.1 305.4 L551.7 305.3 L552.3 305.2 L553.0 305.1 L553.7 305.0 L554.4 305.0 L555.2 304.9 L556.0 304.8 L556.8 304.7 L557.6 304.6 L558.3 304.5 L559.1 304.5 L559.7 304.4 L560.3 304.4 L560.9 304.4 L561.5 304.4 L562.1 304.3 L562.8 304.3 L563.4 304.3 L564.1 304.3 L564.9 304.3 L565.6 304.2 L566.4 304.2 L567.3 304.2 L568.2 304.1 L569.1 304.1 L570.1 304.0 L570.7 303.9 L571.3 303.9 L572.0 303.9 L572.7 303.8 L573.4 303.8 L574.1 303.8 L574.8 303.7 L575.6 303.7 L576.3 303.6 L577.1 303.6 L577.9 303.5 L578.7 303.5 L579.5 303.4 L580.3 303.3 L581.1 303.3 L581.9 303.2 L582.7 303.2 L583.5 303.1 L584.3 303.1 L585.0 303.0 L585.8 303.0 L586.6 302.9 L587.3 302.9 L588.0 302.8 L588.7 302.8 L589.6 302.8 L590.4 302.8 L591.2 302.9 L592.0 302.9 L592.8 303.0 L593.6 303.0 L594.4 303.1 L595.2 303.2 L595.9 303.3 L596.7 303.4 L597.6 303.5 L598.4 303.7 L599.2 303.9 L600.1 304.1 L601.1 304.4 L602.0 304.7 L603.0 305.1 L604.1 305.7 L605.3 306.3 L606.4 307.1 L607.1 307.1 L607.9 307.1 L608.7 307.0 L609.5 307.0 L610.3 306.9 L611.1 306.9 L611.9 306.8 L612.8 306.8 L613.7 306.7 L614.5 306.6 L615.4 306.5 L616.3 306.4 L617.2 306.3 L618.1 306.1 L619.0 306.0 L619.9 305.8 L620.8 305.7 L621.8 305.5 L622.7 305.3 L623.6 305.1 L624.6 304.9 L625.6 304.7 L626.5 304.4 L627.4 304.0 L628.2 303.5 L629.1 303.0 L629.9 302.5 L630.7 302.0 L631.5 301.5 L632.3 301.0 L633.1 300.5 L633.9 300.0 L634.7 299.5 L635.4 299.0 L636.2 298.5 L636.9 298.0 L637.6 297.5 L638.3 297.1 L639.0 296.6 L639.7 296.2 L640.3 295.7 L640.9 295.3 L641.4 294.9 L642.0 294.6 L642.5 294.2 L642.9 293.9 L643.3 293.7 L643.6 293.4 L643.9 293.3 L644.1 293.1Z"/>
<path d="M560.0 297.4 L559.7 297.2 L559.3 297.0 L558.9 296.8 L558.5 296.5 L558.0 296.2 L557.4 295.9 L556.9 295.5 L556.2 295.2 L555.6 294.8 L554.9 294.4 L554.2 294.0 L553.5 293.5 L552.7 293.1 L551.9 292.7 L551.1 292.3 L550.3 291.9 L549.5 291.5 L548.7 291.2 L547.8 290.8 L547.0 290.5 L546.3 290.3 L545.7 290.1 L545.0 289.8 L544.4 289.6 L543.7 289.4 L543.0 289.2 L542.2 289.0 L541.5 288.8 L540.8 288.6 L540.0 288.4 L539.3 288.2 L538.5 288.0 L537.8 287.8 L537.0 287.7 L536.3 287.5 L535.5 287.3 L534.8 287.1 L534.0 287.0 L533.3 286.8 L532.6 286.7 L531.9 286.5 L531.2 286.4 L530.5 286.2 L529.8 286.1 L529.2 286.0 L528.5 285.9 L527.9 285.8 L527.0 285.6 L526.1 285.5 L525.2 285.5 L524.4 285.4 L523.6 285.4 L522.8 285.4 L522.1 285.4 L521.4 285.4 L520.7 285.4 L520.0 285.4 L519.3 285.4 L518.7 285.4 L518.1 285.4 L517.4 285.4 L516.8 285.4 L516.2 285.3 L515.6 285.2 L514.9 285.1 L514.3 284.9 L513.6 284.8 L512.9 284.6 L512.3 284.5 L511.6 284.3 L510.9 284.1 L510.3 283.9 L509.6 283.7 L508.9 283.5 L508.3 283.2 L507.6 283.0 L507.0 282.7 L506.3 282.5 L505.6 282.2 L505.0 281.9 L504.3 281.6 L503.6 281.2 L503.0 280.9 L502.3 280.6 L501.8 280.3 L501.2 279.9 L500.7 279.6 L500.2 279.3 L499.7 278.9 L499.2 278.5 L498.7 278.2 L498.1 277.8 L497.6 277.4 L497.1 276.9 L496.6 276.5 L496.0 276.1 L495.5 275.6 L494.9 275.2 L494.3 274.7 L493.7 274.3 L493.1 273.8 L492.4 273.3 L491.8 272.8 L491.1 272.3 L490.4 271.8 L489.6 271.3 L489.1 271.0 L488.6 270.6 L488.0 270.3 L487.5 269.9 L486.9 269.6 L486.3 269.2 L485.8 268.9 L485.2 268.5 L484.6 268.1 L483.9 267.7 L483.3 267.4 L482.7 267.0 L482.1 266.6 L481.4 266.2 L480.8 265.8 L480.1 265.4 L479.5 265.0 L478.8 264.6 L478.2 264.3 L477.5 263.9 L476.9 263.5 L476.2 263.1 L475.6 262.7 L474.9 262.3 L474.3 261.9 L473.7 261.6 L473.0 261.2 L472.4 260.8 L471.8 260.4 L471.1 260.1 L470.5 259.7 L469.9 259.3 L469.3 259.0 L468.6 258.6 L468.0 258.2 L467.3 257.8 L466.6 257.4 L465.9 257.0 L465.2 256.6 L464.5 256.2 L463.8 255.7 L463.1 255.3 L462.4 254.9 L461.7 254.5 L460.9 254.1 L460.2 253.7 L459.5 253.3 L458.9 252.9 L458.2 252.5 L457.5 252.1 L456.9 251.8 L456.3 251.4 L455.6 251.0 L455.1 250.7 L454.5 250.4 L453.9 250.1 L453.4 249.8 L452.9 249.5 L452.5 249.2 L452.0 249.0 L451.6 248.7 L451.3 248.5 L451.0 248.3 L450.6 248.9 L451.0 249.1 L451.3 249.3 L451.7 249.5 L452.1 249.8 L452.6 250.1 L453.0 250.4 L453.5 250.7 L454.1 251.0 L454.6 251.4 L455.2 251.8 L455.8 252.1 L456.4 252.5 L457.0 252.9 L457.7 253.3 L458.3 253.8 L459.0 254.2 L459.7 254.6 L460.4 255.0 L461.1 255.5 L461.7 255.9 L462.4 256.4 L463.1 256.8 L463.8 257.3 L464.5 257.7 L465.2 258.1 L465.9 258.6 L466.5 259.0 L467.2 259.4 L467.8 259.9 L468.5 260.3 L469.1 260.7 L469.7 261.1 L470.3 261.4 L470.9 261.8 L471.5 262.2 L472.1 262.6 L472.7 263.1 L473.3 263.5 L474.0 263.9 L474.6 264.3 L475.2 264.7 L475.9 265.1 L476.5 265.5 L477.1 266.0 L477.8 266.4 L478.4 266.8 L479.0 267.2 L479.6 267.6 L480.3 268.0 L480.9 268.4 L481.5 268.9 L482.1 269.3 L482.7 269.7 L483.3 270.1 L483.9 270.5 L484.4 270.9 L485.0 271.2 L485.6 271.6 L486.1 272.0 L486.6 272.4 L487.2 272.8 L487.7 273.1 L488.2 273.5 L488.8 274.0 L489.5 274.5 L490.1 275.0 L490.8 275.5 L491.4 276.0 L491.9 276.4 L492.5 276.9 L493.0 277.4 L493.6 277.9 L494.1 278.3 L494.6 278.8 L495.2 279.3 L495.7 279.7 L496.2 280.2 L496.7 280.6 L497.3 281.0 L497.8 281.5 L498.4 281.9 L498.9 282.3 L499.5 282.7 L500.1 283.1 L500.7 283.4 L501.4 283.8 L502.1 284.2 L502.8 284.6 L503.5 285.0 L504.2 285.3 L504.9 285.7 L505.6 286.0 L506.3 286.3 L507.0 286.6 L507.7 286.9 L508.4 287.1 L509.1 287.4 L509.8 287.7 L510.5 287.9 L511.2 288.1 L511.9 288.3 L512.6 288.5 L513.4 288.7 L514.1 288.9 L514.8 289.1 L515.6 289.2 L516.4 289.4 L517.1 289.4 L517.9 289.5 L518.6 289.5 L519.3 289.6 L520.0 289.6 L520.7 289.6 L521.3 289.6 L522.0 289.6 L522.7 289.7 L523.4 289.7 L524.1 289.8 L524.8 289.8 L525.5 289.9 L526.3 290.1 L527.1 290.2 L527.7 290.3 L528.3 290.5 L528.9 290.6 L529.5 290.8 L530.2 290.9 L530.8 291.1 L531.5 291.3 L532.2 291.4 L532.9 291.6 L533.6 291.8 L534.4 292.0 L535.1 292.2 L535.8 292.4 L536.5 292.6 L537.2 292.8 L537.9 293.0 L538.7 293.3 L539.4 293.5 L540.1 293.7 L540.7 293.9 L541.4 294.1 L542.1 294.4 L542.7 294.6 L543.3 294.8 L543.9 295.1 L544.5 295.3 L545.0 295.5 L545.7 295.8 L546.4 296.1 L547.1 296.5 L547.8 296.8 L548.5 297.2 L549.2 297.6 L549.9 298.0 L550.6 298.4 L551.3 298.8 L551.9 299.3 L552.5 299.7 L553.1 300.1 L553.7 300.4 L554.3 300.8 L554.8 301.2 L555.3 301.5 L555.8 301.8 L556.2 302.1 L556.6 302.4 L557.0 302.6Z"/>
<path d="M528.3 287.7 L528.2 287.3 L528.1 286.9 L527.9 286.4 L527.8 285.9 L527.6 285.3 L527.5 284.7 L527.3 284.0 L527.1 283.3 L527.0 282.6 L526.8 281.9 L526.6 281.1 L526.4 280.3 L526.2 279.5 L525.9 278.7 L525.7 277.9 L525.5 277.2 L525.3 276.4 L525.1 275.6 L524.9 274.9 L524.6 274.2 L524.4 273.5 L524.2 272.8 L524.0 272.1 L523.7 271.3 L523.5 270.6 L523.2 269.8 L522.9 269.1 L522.6 268.3 L522.3 267.5 L522.1 266.7 L521.8 266.0 L521.5 265.3 L521.2 264.5 L520.9 263.8 L520.6 263.2 L520.4 262.5 L520.2 261.9 L519.9 261.4 L519.7 260.9 L519.5 260.4 L519.4 260.0 L519.2 259.6 L518.8 259.8 L518.9 260.1 L519.0 260.6 L519.2 261.1 L519.3 261.6 L519.5 262.2 L519.7 262.8 L519.9 263.4 L520.1 264.1 L520.4 264.8 L520.6 265.6 L520.8 266.3 L521.1 267.1 L521.3 267.9 L521.5 268.7 L521.8 269.4 L522.0 270.2 L522.2 271.0 L522.4 271.7 L522.6 272.5 L522.8 273.2 L522.9 273.9 L523.1 274.6 L523.3 275.3 L523.4 276.0 L523.6 276.8 L523.7 277.6 L523.9 278.4 L524.0 279.2 L524.2 280.0 L524.4 280.8 L524.5 281.6 L524.6 282.3 L524.8 283.1 L524.9 283.8 L525.0 284.5 L525.2 285.2 L525.3 285.8 L525.4 286.4 L525.5 287.0 L525.6 287.5 L525.7 287.9 L525.7 288.3Z"/>
<path d="M504.4 285.7 L504.0 285.8 L503.6 286.0 L503.1 286.1 L502.6 286.2 L502.0 286.4 L501.4 286.6 L500.8 286.7 L500.1 286.9 L499.4 287.1 L498.6 287.3 L497.9 287.5 L497.1 287.8 L496.3 288.0 L495.5 288.2 L494.7 288.4 L493.9 288.6 L493.1 288.8 L492.4 289.0 L491.6 289.2 L490.8 289.4 L490.1 289.6 L489.4 289.7 L488.7 289.9 L487.9 290.0 L487.2 290.2 L486.4 290.3 L485.6 290.5 L484.8 290.7 L483.9 290.8 L483.1 291.0 L482.3 291.1 L481.5 291.3 L480.6 291.4 L479.8 291.6 L479.0 291.7 L478.3 291.8 L477.5 292.0 L476.8 292.1 L476.1 292.2 L475.5 292.3 L474.9 292.4 L474.3 292.5 L473.8 292.6 L473.4 292.7 L473.0 292.8 L473.0 293.2 L473.4 293.2 L473.9 293.2 L474.4 293.1 L475.0 293.0 L475.6 293.0 L476.2 292.9 L476.9 292.8 L477.6 292.8 L478.4 292.7 L479.2 292.6 L480.0 292.5 L480.8 292.4 L481.6 292.3 L482.5 292.2 L483.3 292.1 L484.1 292.0 L485.0 291.9 L485.8 291.8 L486.6 291.7 L487.4 291.6 L488.2 291.5 L488.9 291.4 L489.6 291.3 L490.4 291.2 L491.2 291.0 L491.9 290.9 L492.7 290.8 L493.5 290.6 L494.4 290.4 L495.2 290.3 L496.0 290.1 L496.8 290.0 L497.6 289.8 L498.4 289.6 L499.2 289.5 L499.9 289.3 L500.6 289.2 L501.3 289.0 L502.0 288.9 L502.6 288.8 L503.2 288.6 L503.7 288.5 L504.2 288.4 L504.6 288.3 L505.0 288.3Z"/>
<path d="M561.3 303.7 L561.7 303.7 L560.9 295.3 L560.5 295.4 L557.9 295.9 L557.5 295.9 L557.1 296.0 L556.7 296.1 L556.2 296.2 L555.6 296.2 L555.1 296.3 L554.5 296.4 L553.9 296.5 L553.3 296.6 L552.6 296.7 L551.9 296.8 L551.2 296.9 L550.5 297.0 L549.8 297.1 L549.0 297.2 L548.2 297.3 L547.5 297.4 L546.7 297.5 L545.9 297.7 L545.1 297.8 L544.3 297.9 L543.4 298.0 L542.6 298.2 L541.8 298.3 L541.0 298.4 L540.2 298.6 L539.4 298.7 L538.6 298.8 L537.8 299.0 L537.0 299.1 L536.2 299.3 L535.4 299.4 L534.7 299.6 L533.9 299.7 L533.2 299.9 L532.5 300.0 L531.8 300.2 L531.1 300.4 L530.5 300.5 L529.8 300.7 L529.2 300.9 L528.3 301.1 L527.3 301.5 L526.4 301.8 L525.6 302.1 L524.7 302.5 L523.8 302.8 L523.0 303.2 L522.2 303.6 L521.4 304.0 L520.7 304.4 L519.9 304.8 L519.2 305.2 L518.5 305.6 L517.9 305.9 L517.2 306.3 L516.6 306.7 L516.0 307.0 L515.5 307.4 L514.9 307.7 L514.4 308.0 L514.0 308.3 L513.5 308.5 L513.1 308.8 L512.8 309.0 L512.5 309.2 L512.2 309.3 L514.8 314.7 L515.2 314.5 L515.6 314.3 L516.1 314.1 L516.5 313.8 L517.0 313.6 L517.5 313.3 L518.0 313.0 L518.5 312.7 L519.1 312.4 L519.7 312.1 L520.3 311.8 L520.9 311.5 L521.5 311.2 L522.2 310.8 L522.8 310.5 L523.5 310.2 L524.2 309.9 L524.9 309.6 L525.7 309.3 L526.4 309.0 L527.1 308.7 L527.9 308.4 L528.7 308.2 L529.4 307.9 L530.2 307.7 L531.0 307.5 L531.5 307.4 L532.1 307.3 L532.6 307.2 L533.2 307.1 L533.9 307.0 L534.5 306.8 L535.2 306.7 L535.9 306.6 L536.6 306.5 L537.4 306.4 L538.1 306.3 L538.9 306.2 L539.7 306.1 L540.4 306.0 L541.2 305.9 L542.0 305.8 L542.8 305.7 L543.6 305.7 L544.4 305.6 L545.2 305.5 L546.0 305.4 L546.8 305.3 L547.6 305.2 L548.4 305.2 L549.2 305.1 L549.9 305.0 L550.7 305.0 L551.4 304.9 L552.2 304.8 L552.9 304.7 L553.6 304.7 L554.2 304.6 L554.9 304.6 L555.5 304.5 L556.1 304.4 L556.7 304.4 L557.2 304.3 L557.7 304.3 L558.2 304.2 L558.7 304.2 L559.1 304.1 L561.8 303.8 L562.7 303.6 L561.4 295.3 L561.7 295.3Z"/>
<path d="M513.3 310.2 L512.9 310.3 L512.5 310.3 L512.0 310.4 L511.5 310.5 L510.9 310.6 L510.3 310.7 L509.6 310.8 L509.0 310.9 L508.3 311.0 L507.5 311.1 L506.8 311.2 L506.0 311.4 L505.2 311.5 L504.4 311.6 L503.6 311.7 L502.8 311.9 L502.0 312.0 L501.1 312.1 L500.3 312.2 L499.5 312.4 L498.7 312.5 L497.9 312.6 L497.2 312.7 L496.4 312.9 L495.7 313.0 L495.0 313.1 L494.3 313.2 L493.6 313.3 L492.8 313.4 L492.1 313.5 L491.4 313.6 L490.8 313.7 L490.1 313.9 L489.5 314.0 L488.8 314.1 L488.2 314.2 L487.6 314.3 L486.9 314.4 L486.3 314.5 L485.7 314.6 L485.0 314.7 L484.3 314.8 L483.6 314.9 L482.9 315.0 L482.2 315.1 L481.4 315.2 L480.6 315.3 L479.8 315.4 L478.9 315.5 L478.0 315.6 L477.5 315.6 L476.8 315.7 L476.2 315.7 L475.5 315.8 L474.8 315.8 L474.1 315.9 L473.4 316.0 L472.6 316.0 L471.9 316.1 L471.1 316.1 L470.3 316.2 L469.5 316.2 L468.7 316.3 L467.8 316.4 L467.0 316.4 L466.2 316.5 L465.4 316.5 L464.5 316.6 L463.7 316.6 L462.9 316.7 L462.1 316.7 L461.3 316.8 L460.5 316.8 L459.7 316.9 L458.9 316.9 L458.2 317.0 L457.5 317.0 L456.8 317.1 L456.1 317.1 L455.4 317.1 L454.8 317.2 L454.2 317.2 L453.7 317.3 L453.1 317.3 L452.6 317.3 L452.2 317.3 L451.8 317.4 L451.4 317.4 L451.4 318.0 L451.8 318.0 L452.2 318.0 L452.7 318.0 L453.1 318.0 L453.7 318.0 L454.2 318.0 L454.8 317.9 L455.5 317.9 L456.1 317.9 L456.8 317.9 L457.5 317.9 L458.2 317.9 L459.0 317.9 L459.7 317.9 L460.5 317.9 L461.3 317.9 L462.1 317.8 L462.9 317.8 L463.7 317.8 L464.6 317.8 L465.4 317.8 L466.2 317.8 L467.1 317.8 L467.9 317.7 L468.7 317.7 L469.6 317.7 L470.4 317.7 L471.2 317.7 L472.0 317.7 L472.7 317.6 L473.5 317.6 L474.2 317.6 L474.9 317.6 L475.6 317.5 L476.3 317.5 L477.0 317.5 L477.6 317.5 L478.2 317.4 L479.1 317.4 L480.0 317.3 L480.8 317.3 L481.6 317.2 L482.4 317.2 L483.2 317.1 L483.9 317.0 L484.6 317.0 L485.3 316.9 L486.0 316.8 L486.6 316.8 L487.3 316.7 L487.9 316.6 L488.5 316.5 L489.2 316.5 L489.8 316.4 L490.5 316.3 L491.1 316.2 L491.8 316.1 L492.5 316.1 L493.2 316.0 L493.9 315.9 L494.7 315.8 L495.3 315.8 L496.0 315.7 L496.8 315.6 L497.5 315.5 L498.3 315.4 L499.1 315.4 L499.9 315.3 L500.7 315.2 L501.5 315.1 L502.4 315.0 L503.2 314.9 L504.0 314.8 L504.8 314.7 L505.6 314.7 L506.4 314.6 L507.2 314.5 L508.0 314.4 L508.7 314.3 L509.4 314.3 L510.1 314.2 L510.7 314.1 L511.3 314.0 L511.9 314.0 L512.4 313.9 L512.9 313.9 L513.4 313.8 L513.7 313.8Z"/>
<path d="M478.9 316.1 L478.6 316.3 L478.2 316.5 L477.8 316.8 L477.3 317.1 L476.8 317.4 L476.3 317.7 L475.8 318.1 L475.2 318.4 L474.6 318.8 L473.9 319.2 L473.3 319.7 L472.6 320.1 L471.9 320.5 L471.2 321.0 L470.5 321.4 L469.8 321.9 L469.0 322.3 L468.3 322.8 L467.6 323.2 L466.9 323.7 L466.2 324.1 L465.5 324.6 L464.8 325.0 L464.1 325.4 L463.6 325.8 L463.0 326.1 L462.4 326.5 L461.7 326.9 L461.1 327.3 L460.4 327.7 L459.7 328.2 L459.0 328.6 L458.3 329.0 L457.6 329.5 L456.9 329.9 L456.3 330.3 L455.6 330.8 L454.9 331.2 L454.2 331.6 L453.5 332.0 L452.9 332.4 L452.3 332.8 L451.7 333.2 L451.1 333.5 L450.5 333.9 L450.0 334.2 L449.5 334.5 L449.0 334.8 L448.6 335.1 L448.2 335.4 L447.8 335.6 L447.5 335.8 L447.7 336.2 L448.1 336.0 L448.4 335.8 L448.8 335.6 L449.3 335.3 L449.8 335.1 L450.3 334.8 L450.9 334.5 L451.4 334.1 L452.0 333.8 L452.7 333.5 L453.3 333.1 L454.0 332.7 L454.6 332.3 L455.3 331.9 L456.0 331.6 L456.8 331.2 L457.5 330.8 L458.2 330.4 L458.9 330.0 L459.6 329.6 L460.3 329.2 L461.0 328.8 L461.7 328.4 L462.4 328.0 L463.0 327.6 L463.7 327.3 L464.3 326.9 L464.9 326.6 L465.5 326.2 L466.2 325.8 L467.0 325.4 L467.7 325.0 L468.4 324.6 L469.2 324.2 L469.9 323.7 L470.6 323.3 L471.4 322.9 L472.1 322.5 L472.8 322.1 L473.5 321.7 L474.2 321.3 L474.9 320.9 L475.6 320.5 L476.2 320.2 L476.8 319.8 L477.4 319.5 L477.9 319.2 L478.4 318.9 L478.9 318.6 L479.3 318.4 L479.7 318.1 L480.1 317.9Z"/>
<path d="M509.9 311.0 L509.9 311.4 L509.9 311.8 L509.9 312.3 L509.9 312.9 L509.9 313.6 L509.9 314.4 L509.9 315.1 L509.9 316.0 L509.9 316.9 L509.9 317.8 L509.9 318.7 L510.0 319.7 L510.1 320.7 L510.1 321.3 L510.2 321.9 L510.3 322.6 L510.3 323.2 L510.4 323.9 L510.5 324.7 L510.5 325.4 L510.6 326.2 L510.7 326.9 L510.8 327.7 L510.9 328.5 L511.0 329.3 L511.1 330.1 L511.2 330.9 L511.3 331.6 L511.5 332.4 L511.6 333.2 L511.8 334.0 L512.0 334.7 L512.1 335.5 L512.3 336.2 L512.6 337.0 L512.8 337.8 L513.1 338.6 L513.5 339.4 L513.8 340.2 L514.1 341.0 L514.5 341.8 L514.8 342.6 L515.2 343.3 L515.6 344.1 L515.9 344.8 L516.3 345.5 L516.6 346.2 L517.0 346.8 L517.3 347.4 L517.6 348.0 L517.8 348.5 L518.0 349.0 L518.2 349.4 L518.4 349.7 L521.6 348.3 L521.4 347.9 L521.2 347.5 L521.0 347.0 L520.8 346.4 L520.5 345.9 L520.2 345.3 L519.9 344.6 L519.6 343.9 L519.3 343.2 L519.0 342.5 L518.6 341.8 L518.3 341.0 L518.0 340.3 L517.7 339.5 L517.4 338.7 L517.1 338.0 L516.9 337.3 L516.6 336.5 L516.4 335.8 L516.3 335.2 L516.1 334.5 L516.0 333.9 L515.8 333.2 L515.7 332.5 L515.6 331.7 L515.5 331.0 L515.4 330.3 L515.3 329.5 L515.3 328.8 L515.2 328.0 L515.1 327.3 L515.1 326.5 L515.0 325.8 L515.0 325.0 L514.9 324.3 L514.9 323.6 L514.9 322.9 L514.8 322.2 L514.8 321.6 L514.7 320.9 L514.7 320.3 L514.7 319.4 L514.6 318.5 L514.6 317.7 L514.6 316.8 L514.7 316.0 L514.7 315.2 L514.7 314.5 L514.8 313.8 L514.8 313.1 L514.8 312.5 L514.9 312.0 L514.9 311.5 L514.9 311.0Z"/>
<path d="M519.1 349.6 L519.3 350.0 L519.6 350.3 L519.9 350.7 L520.3 351.1 L520.6 351.5 L521.0 352.0 L521.4 352.5 L521.8 353.0 L522.3 353.5 L522.7 354.1 L523.2 354.7 L523.7 355.3 L524.2 355.9 L524.7 356.5 L525.2 357.2 L525.7 357.8 L526.1 358.5 L526.6 359.2 L527.1 359.9 L527.6 360.6 L528.0 361.3 L528.4 362.0 L528.8 362.7 L529.1 363.3 L529.4 363.9 L529.7 364.5 L530.1 365.1 L530.4 365.7 L530.7 366.4 L531.0 367.1 L531.3 367.8 L531.7 368.6 L532.0 369.3 L532.3 370.1 L532.7 370.8 L533.0 371.6 L533.3 372.3 L533.6 373.1 L534.0 373.9 L534.3 374.6 L534.6 375.4 L534.9 376.1 L535.2 376.8 L535.5 377.5 L535.7 378.2 L536.0 378.9 L536.3 379.5 L536.5 380.1 L536.7 380.7 L537.0 381.2 L537.2 381.7 L537.4 382.2 L537.6 382.7 L537.7 383.0 L537.9 383.4 L538.3 383.2 L538.2 382.9 L538.0 382.5 L537.9 382.0 L537.7 381.5 L537.5 381.0 L537.3 380.5 L537.1 379.9 L536.9 379.2 L536.7 378.6 L536.4 377.9 L536.2 377.2 L535.9 376.5 L535.7 375.8 L535.4 375.0 L535.1 374.3 L534.8 373.5 L534.6 372.7 L534.3 372.0 L534.0 371.2 L533.7 370.4 L533.4 369.6 L533.1 368.9 L532.8 368.1 L532.5 367.3 L532.2 366.6 L531.9 365.9 L531.6 365.2 L531.3 364.5 L531.0 363.9 L530.7 363.2 L530.4 362.6 L530.2 362.1 L529.8 361.3 L529.3 360.5 L528.9 359.8 L528.5 359.0 L528.0 358.3 L527.6 357.6 L527.1 356.8 L526.6 356.1 L526.1 355.5 L525.7 354.8 L525.2 354.1 L524.7 353.5 L524.3 352.9 L523.9 352.3 L523.4 351.7 L523.0 351.2 L522.6 350.7 L522.3 350.2 L521.9 349.8 L521.6 349.4 L521.3 349.0 L521.1 348.7 L520.9 348.4Z"/>
<path d="M515.4 342.6 L515.1 342.8 L514.9 343.2 L514.6 343.5 L514.2 343.9 L513.9 344.3 L513.5 344.8 L513.1 345.2 L512.6 345.7 L512.2 346.2 L511.7 346.8 L511.3 347.3 L510.8 347.9 L510.3 348.5 L509.8 349.0 L509.2 349.6 L508.7 350.3 L508.2 350.9 L507.6 351.5 L507.1 352.1 L506.6 352.7 L506.0 353.4 L505.5 354.0 L505.0 354.6 L504.5 355.2 L503.9 355.8 L503.4 356.4 L503.0 357.0 L502.5 357.5 L502.0 358.1 L501.6 358.7 L501.1 359.2 L500.6 359.8 L500.1 360.5 L499.6 361.1 L499.0 361.7 L498.5 362.4 L498.0 363.0 L497.4 363.6 L496.9 364.3 L496.4 364.9 L495.9 365.6 L495.3 366.2 L494.8 366.8 L494.3 367.5 L493.8 368.1 L493.4 368.7 L492.9 369.2 L492.4 369.8 L492.0 370.3 L491.6 370.8 L491.2 371.3 L490.8 371.8 L490.5 372.2 L490.1 372.6 L489.8 373.0 L489.6 373.3 L489.3 373.6 L489.7 374.0 L489.9 373.7 L490.2 373.4 L490.5 373.0 L490.9 372.6 L491.3 372.2 L491.7 371.7 L492.1 371.3 L492.5 370.8 L493.0 370.3 L493.4 369.7 L493.9 369.2 L494.4 368.6 L495.0 368.0 L495.5 367.4 L496.0 366.8 L496.6 366.2 L497.1 365.6 L497.7 364.9 L498.2 364.3 L498.8 363.7 L499.3 363.1 L499.9 362.5 L500.4 361.8 L501.0 361.2 L501.5 360.7 L502.0 360.1 L502.5 359.5 L503.0 359.0 L503.5 358.5 L504.0 357.9 L504.5 357.4 L505.0 356.8 L505.6 356.2 L506.1 355.6 L506.7 355.0 L507.2 354.4 L507.8 353.8 L508.3 353.2 L508.9 352.6 L509.5 352.0 L510.0 351.4 L510.6 350.9 L511.1 350.3 L511.7 349.7 L512.2 349.2 L512.7 348.6 L513.2 348.1 L513.7 347.6 L514.1 347.1 L514.6 346.6 L515.0 346.2 L515.4 345.7 L515.8 345.3 L516.1 345.0 L516.5 344.6 L516.8 344.3 L517.0 344.0Z"/>
<path d="M665.9 283.0 L666.4 283.0 L667.0 282.8 L667.7 282.7 L668.3 282.6 L668.9 282.5 L669.6 282.3 L670.2 282.2 L670.9 282.1 L671.6 281.9 L672.3 281.8 L673.0 281.6 L673.8 281.5 L674.5 281.3 L675.3 281.2 L676.0 281.1 L676.8 280.9 L677.5 280.8 L678.2 280.7 L678.9 280.6 L679.6 280.4 L680.3 280.4 L680.9 280.3 L681.5 280.2 L682.0 280.1 L682.5 280.1 L682.9 280.0 L683.3 280.0 L683.5 280.0 L683.7 280.0 L684.0 279.7 L684.4 279.4 L684.7 279.2 L685.0 278.9 L685.2 278.7 L685.5 278.4 L685.9 278.2 L686.2 277.9 L686.6 277.7 L687.0 277.5 L687.4 277.3 L687.9 277.2 L688.5 277.0 L689.1 276.9 L689.7 276.7 L690.4 276.6 L691.2 276.5 L692.0 276.5 L692.8 276.4 L693.7 276.3 L694.9 275.3 L696.1 274.3 L697.3 273.5 L698.1 273.1 L698.9 272.8 L699.6 272.5 L700.4 272.3 L701.1 272.1 L701.9 271.9 L702.6 271.7 L703.4 271.6 L704.2 271.5 L704.9 271.5 L705.7 271.5 L706.5 271.4 L707.3 271.5 L708.0 271.5 L708.8 271.5 L709.6 271.6 L710.3 271.6 L711.1 271.7 L711.9 271.8 L712.6 271.9 L713.4 272.0 L714.1 272.1 L714.8 272.3 L715.5 272.4 L716.2 272.5 L716.9 272.7 L717.6 272.8 L718.2 273.0 L718.9 273.1 L719.5 273.3 L720.1 273.4 L720.6 273.6 L721.1 273.8 L721.6 273.9 L722.1 274.1 L722.7 274.3 L723.3 274.6 L723.9 274.9 L724.4 275.2 L725.0 275.5 L725.5 275.8 L726.0 276.2 L726.5 276.5 L727.0 276.9 L727.5 277.4 L728.0 277.8 L728.5 278.2 L729.0 278.7 L729.6 279.2 L730.1 279.6 L730.6 280.1 L731.2 280.6 L731.8 281.1 L732.4 281.6 L733.0 282.1 L733.6 282.5 L734.3 283.0 L735.0 283.4 L735.7 283.8 L736.4 284.2 L737.0 284.5 L737.6 284.9 L738.3 285.2 L738.9 285.5 L739.6 285.9 L740.2 286.2 L740.9 286.5 L741.5 286.8 L742.2 287.1 L742.9 287.4 L743.6 287.7 L744.3 287.9 L745.0 288.2 L745.7 288.5 L746.4 288.7 L747.1 288.9 L747.9 289.1 L748.6 289.3 L749.4 289.5 L750.1 289.6 L750.9 289.8 L751.7 289.9 L752.5 290.0 L753.2 290.0 L753.9 290.1 L754.6 290.1 L755.4 290.2 L756.1 290.2 L756.8 290.1 L757.6 290.1 L758.3 290.1 L759.1 290.0 L759.8 290.0 L760.6 289.9 L761.4 289.8 L762.1 289.7 L762.9 289.6 L763.6 289.5 L764.4 289.4 L765.1 289.3 L765.9 289.2 L766.6 289.1 L767.4 289.0 L768.1 288.9 L768.8 288.8 L769.5 288.6 L770.2 288.5 L770.9 288.4 L771.6 288.3 L772.3 288.2 L772.9 288.1 L773.7 288.0 L774.5 287.9 L775.3 287.8 L776.1 287.7 L776.9 287.5 L777.7 287.4 L778.5 287.2 L779.4 287.1 L780.2 286.9 L781.0 286.8 L781.7 286.6 L782.5 286.5 L783.3 286.4 L784.0 286.2 L784.7 286.1 L785.4 285.9 L786.0 285.8 L786.7 285.7 L787.2 285.5 L787.8 285.4 L788.3 285.3 L788.8 285.2 L789.2 285.1 L789.5 285.0 L789.5 284.4 L789.1 284.4 L788.7 284.4 L788.2 284.5 L787.7 284.5 L787.1 284.5 L786.5 284.6 L785.9 284.6 L785.2 284.7 L784.5 284.8 L783.8 284.8 L783.1 284.9 L782.3 285.0 L781.5 285.0 L780.7 285.1 L779.9 285.2 L779.1 285.2 L778.3 285.3 L777.5 285.4 L776.7 285.4 L775.8 285.5 L775.0 285.5 L774.2 285.6 L773.5 285.6 L772.7 285.7 L772.0 285.7 L771.3 285.7 L770.6 285.8 L769.9 285.8 L769.2 285.9 L768.5 285.9 L767.8 286.0 L767.0 286.1 L766.3 286.1 L765.5 286.2 L764.8 286.2 L764.1 286.3 L763.3 286.3 L762.6 286.4 L761.8 286.4 L761.1 286.5 L760.4 286.5 L759.7 286.5 L758.9 286.5 L758.2 286.5 L757.5 286.5 L756.9 286.5 L756.2 286.4 L755.5 286.4 L754.9 286.3 L754.3 286.2 L753.7 286.1 L753.1 286.0 L752.4 285.9 L751.8 285.7 L751.1 285.5 L750.5 285.3 L749.9 285.1 L749.3 284.8 L748.6 284.6 L748.0 284.3 L747.4 284.0 L746.9 283.8 L746.3 283.5 L745.7 283.1 L745.1 282.8 L744.6 282.5 L744.0 282.2 L743.4 281.8 L742.8 281.4 L742.3 281.1 L741.7 280.7 L741.2 280.3 L740.6 279.9 L740.0 279.5 L739.4 279.1 L738.9 278.8 L738.4 278.4 L738.0 278.0 L737.6 277.6 L737.2 277.2 L736.8 276.8 L736.4 276.3 L736.0 275.9 L735.5 275.4 L735.1 274.8 L734.7 274.3 L734.2 273.8 L733.8 273.2 L733.3 272.6 L732.8 272.0 L732.2 271.5 L731.7 270.9 L731.1 270.3 L730.4 269.7 L729.8 269.1 L729.0 268.5 L728.3 267.9 L727.5 267.4 L726.6 266.8 L725.7 266.3 L725.0 266.0 L724.4 265.7 L723.7 265.4 L723.1 265.1 L722.4 264.8 L721.7 264.5 L721.0 264.2 L720.2 264.0 L719.5 263.7 L718.7 263.4 L718.0 263.2 L717.2 262.9 L716.5 262.7 L715.7 262.4 L714.9 262.2 L714.2 261.9 L713.4 261.6 L712.6 261.4 L711.8 261.1 L711.1 260.8 L710.3 260.6 L709.6 260.3 L708.9 260.0 L708.1 259.6 L707.4 259.3 L706.7 258.9 L706.1 258.6 L705.4 258.2 L704.8 257.7 L704.2 257.3 L703.6 256.8 L703.0 256.3 L702.5 255.7 L702.1 255.2 L701.7 254.5 L701.1 253.3 L700.7 251.9 L700.3 250.5 L699.7 250.0 L699.1 249.6 L698.5 249.1 L697.9 248.7 L697.3 248.2 L696.6 247.7 L696.0 247.3 L695.3 246.8 L694.5 246.3 L693.7 245.9 L692.9 245.4 L692.0 245.0 L691.0 244.5 L690.1 244.1 L689.0 243.7 L688.0 243.3 L686.9 242.9 L685.7 242.6 L684.5 242.3 L683.3 242.0 L682.2 242.0 L681.1 242.1 L680.0 242.2 L678.9 242.2 L677.9 242.4 L676.9 242.5 L675.8 242.6 L674.8 242.7 L673.8 242.9 L672.9 243.0 L671.9 243.2 L670.9 243.4 L670.0 243.5 L669.1 243.7 L668.2 243.9 L667.3 244.0 L666.4 244.2 L665.6 244.4 L664.8 244.5 L664.1 244.7 L663.3 244.8 L662.6 245.0 L662.0 245.1 L661.4 245.2 L660.9 245.3 L660.5 245.4 L660.1 245.5 L659.9 245.5 L659.6 245.6Z"/>
<path d="M736.0 281.7 L736.1 282.1 L736.2 282.5 L736.4 282.9 L736.5 283.4 L736.7 284.0 L736.9 284.6 L737.1 285.3 L737.3 285.9 L737.6 286.6 L737.8 287.4 L738.1 288.1 L738.3 288.9 L738.6 289.7 L738.9 290.4 L739.2 291.2 L739.5 292.0 L739.8 292.8 L740.2 293.6 L740.5 294.3 L740.9 295.1 L741.2 295.7 L741.5 296.3 L741.9 296.9 L742.3 297.6 L742.7 298.3 L743.1 299.0 L743.5 299.7 L743.9 300.4 L744.4 301.1 L744.8 301.8 L745.3 302.5 L745.7 303.2 L746.2 303.9 L746.6 304.6 L747.1 305.3 L747.5 305.9 L747.9 306.5 L748.3 307.1 L748.7 307.7 L749.0 308.2 L749.4 308.7 L749.7 309.2 L749.9 309.6 L750.2 310.0 L750.4 310.3 L750.8 310.1 L750.6 309.7 L750.4 309.3 L750.2 308.9 L749.9 308.4 L749.6 307.9 L749.3 307.3 L749.0 306.7 L748.6 306.1 L748.2 305.4 L747.9 304.8 L747.5 304.1 L747.1 303.4 L746.7 302.6 L746.3 301.9 L745.9 301.2 L745.5 300.4 L745.1 299.7 L744.7 299.0 L744.4 298.3 L744.0 297.5 L743.7 296.9 L743.3 296.2 L743.0 295.5 L742.8 294.9 L742.5 294.3 L742.2 293.6 L741.9 292.9 L741.7 292.1 L741.4 291.3 L741.2 290.5 L740.9 289.8 L740.7 289.0 L740.5 288.2 L740.3 287.4 L740.1 286.7 L739.9 286.0 L739.7 285.3 L739.6 284.6 L739.4 283.9 L739.2 283.3 L739.1 282.7 L739.0 282.2 L738.9 281.7 L738.7 281.3 L738.6 280.9Z"/>
<path d="M671.7 263.1 L671.8 262.8 L672.0 262.5 L672.3 262.2 L672.5 261.8 L672.8 261.4 L673.1 260.9 L673.4 260.4 L673.7 259.8 L674.1 259.3 L674.5 258.7 L674.9 258.1 L675.3 257.4 L675.7 256.8 L676.1 256.1 L676.6 255.4 L677.0 254.7 L677.4 254.0 L677.9 253.2 L678.4 252.5 L678.8 251.8 L679.3 251.0 L679.7 250.2 L680.2 249.5 L680.7 248.7 L681.1 247.9 L681.6 247.2 L682.0 246.4 L682.5 245.6 L682.9 244.8 L683.2 243.9 L683.5 243.1 L683.8 242.2 L684.0 241.3 L684.3 240.5 L684.5 239.7 L684.7 238.9 L684.9 238.1 L685.1 237.3 L685.2 236.5 L685.4 235.8 L685.5 235.1 L685.7 234.3 L685.8 233.6 L686.0 232.9 L686.1 232.3 L686.2 231.6 L686.3 230.9 L686.5 230.3 L686.6 229.7 L685.9 228.6 L685.2 227.6 L684.7 226.7 L684.3 225.8 L684.0 225.0 L683.7 224.1 L683.5 223.3 L683.4 222.6 L683.3 221.8 L683.3 221.1 L683.3 220.4 L683.3 219.7 L683.4 219.0 L683.5 218.5 L683.7 218.0 L683.9 217.5 L684.1 217.0 L684.4 216.5 L684.7 216.0 L685.0 215.5 L685.3 215.0 L685.6 214.5 L686.0 214.0 L686.3 213.5 L686.7 213.0 L687.1 212.5 L687.5 212.0 L687.9 211.5 L688.3 211.0 L688.8 210.4 L689.2 209.9 L689.7 209.4 L690.2 208.8 L690.6 208.3 L691.1 207.8 L691.6 207.2 L692.1 206.6 L692.6 206.1 L693.1 205.5 L693.6 204.9 L694.1 204.3 L694.6 203.7 L695.1 203.1 L695.6 202.4 L696.1 201.8 L696.6 201.1 L697.1 200.5 L697.6 199.8 L698.1 199.1 L698.6 198.4 L699.1 197.7 L699.5 197.1 L699.9 196.5 L700.2 196.0 L700.6 195.4 L701.0 194.7 L701.4 194.1 L701.8 193.5 L702.2 192.9 L702.6 192.2 L703.0 191.6 L703.4 190.9 L703.8 190.2 L704.2 189.6 L704.6 188.9 L705.0 188.2 L705.4 187.5 L705.8 186.9 L706.2 186.2 L706.6 185.5 L707.0 184.8 L707.4 184.1 L707.7 183.4 L708.1 182.7 L708.5 182.1 L708.9 181.4 L709.3 180.7 L709.6 180.0 L710.0 179.4 L710.4 178.7 L710.7 178.1 L711.1 177.4 L711.4 176.8 L711.8 176.1 L712.1 175.5 L712.4 174.9 L712.8 174.3 L713.1 173.7 L713.4 173.1 L713.7 172.6 L714.0 172.0 L714.3 171.5 L714.6 171.0 L714.8 170.5 L715.1 170.0 L715.4 169.5 L715.6 169.1 L715.9 168.6 L716.5 167.6 L717.0 166.6 L717.5 165.6 L718.0 164.8 L718.4 164.0 L718.7 163.3 L719.0 162.6 L719.3 162.0 L719.5 161.4 L719.7 161.0 L719.9 160.5 L720.1 160.1 L720.3 159.7 L720.6 159.4 L720.8 159.0 L721.1 158.7 L721.4 158.3 L721.8 157.8 L722.2 157.4 L722.6 157.1 L723.0 156.7 L723.4 156.4 L723.9 156.1 L724.4 155.8 L724.9 155.4 L725.4 155.1 L726.0 154.8 L726.6 154.5 L727.2 154.2 L727.8 153.9 L728.5 153.5 L729.1 153.2 L729.8 152.9 L730.4 152.6 L731.1 152.3 L731.8 152.0 L732.5 151.6 L733.2 151.3 L733.9 151.0 L734.5 150.6 L735.2 150.2 L735.9 149.9 L736.6 149.5 L737.2 149.1 L737.8 148.7 L738.5 148.3 L739.2 147.9 L739.9 147.5 L740.6 147.1 L741.3 146.7 L742.0 146.2 L742.7 145.8 L743.4 145.4 L744.1 144.9 L744.8 144.5 L745.5 144.1 L746.1 143.7 L746.8 143.3 L747.4 142.9 L748.0 142.5 L748.6 142.1 L749.1 141.8 L749.7 141.4 L750.1 141.1 L750.6 140.8 L751.0 140.6 L751.4 140.3 L751.7 140.1 L749.9 137.1 L749.6 137.3 L749.2 137.5 L748.8 137.7 L748.3 138.0 L747.8 138.2 L747.2 138.5 L746.7 138.9 L746.1 139.2 L745.4 139.5 L744.8 139.9 L744.1 140.3 L743.4 140.7 L742.7 141.0 L742.0 141.4 L741.3 141.8 L740.6 142.2 L739.9 142.6 L739.2 143.0 L738.4 143.4 L737.7 143.8 L737.0 144.2 L736.4 144.5 L735.7 144.9 L735.0 145.2 L734.4 145.5 L733.8 145.8 L733.2 146.1 L732.5 146.4 L731.9 146.6 L731.2 146.9 L730.5 147.2 L729.9 147.4 L729.2 147.7 L728.5 147.9 L727.8 148.2 L727.1 148.5 L726.4 148.7 L725.7 149.0 L725.0 149.3 L724.3 149.6 L723.6 149.9 L722.9 150.2 L722.2 150.5 L721.6 150.8 L720.9 151.2 L720.2 151.5 L719.6 151.9 L719.0 152.4 L718.4 152.8 L717.7 153.3 L717.1 153.9 L716.5 154.4 L716.0 154.9 L715.5 155.5 L715.0 156.0 L714.6 156.6 L714.2 157.1 L713.9 157.7 L713.5 158.3 L713.2 158.8 L712.8 159.4 L712.5 160.0 L712.1 160.6 L711.7 161.3 L711.2 162.0 L710.7 162.8 L710.2 163.6 L709.5 164.6 L709.2 165.0 L708.9 165.4 L708.6 165.9 L708.3 166.4 L707.9 166.9 L707.6 167.4 L707.2 167.9 L706.9 168.4 L706.5 168.9 L706.1 169.5 L705.7 170.1 L705.4 170.6 L705.0 171.2 L704.6 171.8 L704.2 172.4 L703.8 173.0 L703.4 173.6 L703.0 174.2 L702.5 174.9 L702.1 175.5 L701.7 176.1 L701.3 176.7 L700.9 177.4 L700.4 178.0 L700.0 178.7 L699.6 179.3 L699.1 179.9 L698.7 180.6 L698.3 181.2 L697.8 181.8 L697.4 182.5 L697.0 183.1 L696.5 183.7 L696.1 184.3 L695.7 184.9 L695.2 185.5 L694.8 186.1 L694.4 186.7 L694.0 187.2 L693.5 187.8 L693.1 188.3 L692.7 188.9 L692.3 189.4 L691.9 189.9 L691.5 190.4 L691.1 190.9 L690.7 191.3 L690.2 191.8 L689.8 192.3 L689.3 192.8 L688.8 193.3 L688.3 193.8 L687.8 194.3 L687.3 194.7 L686.8 195.2 L686.2 195.6 L685.7 196.1 L685.2 196.5 L684.7 197.0 L684.1 197.4 L683.6 197.8 L683.1 198.3 L682.5 198.7 L682.0 199.1 L681.4 199.6 L680.9 200.0 L680.3 200.4 L679.7 200.8 L679.2 201.3 L678.6 201.7 L678.0 202.2 L677.4 202.6 L676.9 203.0 L676.3 203.5 L675.7 204.0 L675.1 204.4 L674.5 204.9 L673.9 205.4 L673.3 205.9 L672.7 206.4 L672.1 206.9 L671.5 207.4 L670.9 207.9 L670.2 208.4 L669.6 209.0 L668.8 209.6 L668.0 210.1 L667.2 210.6 L666.3 211.2 L665.5 211.7 L664.6 212.2 L663.6 212.7 L662.6 213.2 L661.6 213.6 L660.5 214.0 L659.3 214.4 L658.0 214.7 L656.7 215.0 L656.1 215.7 L655.6 216.3 L655.1 217.0 L654.7 217.6 L654.2 218.3 L653.7 218.9 L653.3 219.5 L652.8 220.0 L652.4 220.6 L651.9 221.1 L651.5 221.7 L651.1 222.2 L650.7 222.6 L650.3 223.1 L649.9 223.5 L649.5 223.9 L649.2 224.2 L648.8 224.6 L648.4 224.9 L648.1 225.2 L647.8 225.7 L647.4 226.3 L647.1 226.9 L646.7 227.6 L646.3 228.2 L645.9 228.9 L645.5 229.5 L645.1 230.2 L644.7 230.8 L644.3 231.5 L643.9 232.2 L643.5 232.8 L643.1 233.5 L642.7 234.2 L642.3 234.8 L641.9 235.4 L641.5 236.1 L641.1 236.7 L640.7 237.3 L640.3 237.8 L640.0 238.4 L639.6 238.9 L639.3 239.4 L639.0 239.9 L638.7 240.4 L638.4 240.9 L638.1 241.3 L637.9 241.7 L637.7 242.1Z"/>
<path d="M721.7 155.3 L721.7 154.9 L721.8 154.5 L721.8 153.9 L721.9 153.3 L722.0 152.6 L722.1 151.9 L722.2 151.2 L722.3 150.4 L722.4 149.6 L722.4 148.7 L722.5 147.9 L722.6 147.1 L722.7 146.2 L722.7 145.4 L722.8 144.6 L722.8 143.8 L722.8 143.0 L722.8 142.3 L722.8 141.5 L722.7 140.7 L722.7 139.9 L722.6 139.1 L722.6 138.2 L722.5 137.4 L722.4 136.6 L722.3 135.8 L722.2 135.1 L722.1 134.3 L722.1 133.6 L722.0 133.0 L721.9 132.4 L721.8 131.8 L721.8 131.4 L721.7 131.0 L721.3 131.0 L721.3 131.4 L721.3 131.9 L721.3 132.4 L721.3 133.0 L721.3 133.7 L721.3 134.4 L721.3 135.1 L721.4 135.9 L721.4 136.7 L721.4 137.5 L721.4 138.3 L721.4 139.1 L721.3 139.9 L721.3 140.7 L721.3 141.5 L721.2 142.3 L721.2 143.0 L721.1 143.7 L721.0 144.4 L720.9 145.2 L720.8 146.0 L720.6 146.8 L720.5 147.6 L720.3 148.4 L720.1 149.2 L720.0 150.0 L719.8 150.8 L719.6 151.5 L719.5 152.2 L719.3 152.9 L719.2 153.5 L719.1 154.0 L719.0 154.5 L718.9 154.9Z"/>
<path d="M751.3 139.6 L751.7 139.4 L752.1 139.1 L752.6 138.9 L753.1 138.5 L753.7 138.2 L754.3 137.8 L755.0 137.5 L755.7 137.1 L756.4 136.7 L757.1 136.2 L757.8 135.8 L758.5 135.4 L759.2 135.0 L759.8 134.6 L760.4 134.2 L761.1 133.8 L761.7 133.4 L762.4 132.9 L763.1 132.5 L763.8 132.0 L764.4 131.6 L765.1 131.1 L765.7 130.7 L766.3 130.3 L766.9 129.9 L767.4 129.5 L767.9 129.2 L768.3 128.9 L768.6 128.7 L768.4 128.3 L768.0 128.5 L767.6 128.7 L767.1 129.0 L766.6 129.3 L766.0 129.6 L765.3 130.0 L764.7 130.4 L764.0 130.8 L763.3 131.2 L762.5 131.6 L761.8 132.0 L761.1 132.4 L760.4 132.7 L759.8 133.1 L759.2 133.4 L758.5 133.7 L757.8 134.1 L757.1 134.4 L756.4 134.8 L755.6 135.1 L754.9 135.5 L754.2 135.8 L753.5 136.1 L752.8 136.5 L752.2 136.7 L751.6 137.0 L751.1 137.2 L750.7 137.5 L750.3 137.6Z"/>
<path d="M667.3 273.4 L667.6 273.3 L667.9 273.1 L668.2 273.0 L668.7 272.8 L669.1 272.6 L669.7 272.3 L670.2 272.1 L670.9 271.8 L671.5 271.5 L672.2 271.2 L672.9 270.9 L673.6 270.6 L674.4 270.3 L675.1 269.9 L675.9 269.6 L676.7 269.2 L677.5 268.9 L678.3 268.5 L679.1 268.1 L680.0 267.7 L680.8 267.3 L681.6 266.9 L682.4 266.5 L683.2 266.1 L684.1 265.6 L684.9 265.2 L685.7 264.8 L686.5 264.3 L687.3 263.8 L688.1 263.1 L688.9 262.4 L689.6 261.6 L690.3 260.9 L691.0 260.2 L691.7 259.5 L692.3 258.8 L692.9 258.1 L693.4 257.4 L693.9 256.7 L694.4 256.1 L694.9 255.4 L695.4 254.8 L695.8 254.2 L696.2 253.6 L696.6 253.0 L697.0 252.4 L697.4 251.9 L697.7 251.4 L698.1 250.9 L698.0 249.9 L698.0 249.0 L698.0 248.1 L698.0 247.3 L698.1 246.6 L698.5 245.8 L698.8 245.2 L699.2 244.5 L699.6 243.9 L700.1 243.3 L700.5 242.8 L701.0 242.3 L701.5 241.8 L702.0 241.3 L702.5 240.8 L703.0 240.3 L703.6 239.9 L704.1 239.4 L704.7 238.9 L705.2 238.5 L705.8 238.0 L706.4 237.6 L707.0 237.1 L707.6 236.7 L708.2 236.2 L708.8 235.7 L709.4 235.3 L710.0 234.9 L710.6 234.4 L711.2 234.0 L711.8 233.6 L712.4 233.1 L713.0 232.7 L713.6 232.3 L714.3 231.8 L714.9 231.4 L715.5 230.9 L716.1 230.5 L716.7 230.1 L717.3 229.7 L717.9 229.2 L718.5 228.8 L719.1 228.4 L719.6 228.0 L720.2 227.6 L720.7 227.2 L721.3 226.9 L721.8 226.5 L722.3 226.2 L722.9 225.8 L723.6 225.4 L724.2 225.0 L724.8 224.7 L725.4 224.4 L726.1 224.0 L726.7 223.7 L727.3 223.4 L728.0 223.0 L728.7 222.6 L729.3 222.2 L730.0 221.8 L730.7 221.3 L731.4 220.8 L732.1 220.2 L732.8 219.6 L733.3 219.1 L733.9 218.6 L734.4 218.0 L734.9 217.5 L735.4 216.9 L735.9 216.3 L736.4 215.7 L736.9 215.1 L737.3 214.5 L737.8 213.9 L738.3 213.2 L738.7 212.6 L739.1 212.0 L739.6 211.4 L740.0 210.7 L740.4 210.1 L740.8 209.5 L741.2 208.9 L741.6 208.3 L742.0 207.7 L742.4 207.0 L742.8 206.4 L743.1 205.7 L743.5 205.1 L743.8 204.5 L744.1 203.9 L744.4 203.3 L744.7 202.7 L745.0 202.1 L745.3 201.5 L745.5 200.8 L745.8 200.2 L746.1 199.5 L746.5 198.8 L746.8 198.1 L747.1 197.3 L747.5 196.5 L747.9 195.6 L748.2 195.1 L748.4 194.6 L748.7 194.0 L748.9 193.4 L749.2 192.9 L749.5 192.2 L749.7 191.6 L750.0 191.0 L750.3 190.3 L750.6 189.7 L750.9 189.0 L751.3 188.3 L751.6 187.6 L751.9 187.0 L752.2 186.3 L752.5 185.6 L752.8 184.9 L753.2 184.2 L753.5 183.5 L753.8 182.8 L754.1 182.1 L754.4 181.4 L754.7 180.7 L755.0 180.0 L755.3 179.3 L755.6 178.6 L755.9 178.0 L756.2 177.3 L756.4 176.7 L756.7 176.0 L756.9 175.4 L757.2 174.8 L757.5 174.0 L757.7 173.3 L758.0 172.5 L758.3 171.7 L758.6 170.9 L758.9 170.1 L759.1 169.3 L759.4 168.5 L759.6 167.7 L759.9 166.9 L760.1 166.1 L760.4 165.4 L760.6 164.6 L760.8 163.9 L761.0 163.2 L761.2 162.5 L761.4 161.9 L761.6 161.2 L761.7 160.6 L761.9 160.1 L762.0 159.5 L762.2 159.0 L762.3 158.6 L762.4 158.2 L762.5 157.8 L761.9 157.6 L761.7 157.9 L761.5 158.3 L761.3 158.7 L761.1 159.2 L760.9 159.7 L760.6 160.2 L760.4 160.8 L760.1 161.4 L759.8 162.0 L759.5 162.7 L759.2 163.3 L758.9 164.0 L758.6 164.7 L758.3 165.4 L758.0 166.2 L757.6 166.9 L757.3 167.7 L757.0 168.4 L756.6 169.2 L756.3 169.9 L755.9 170.7 L755.5 171.4 L755.2 172.1 L754.8 172.9 L754.4 173.6 L754.1 174.1 L753.8 174.7 L753.5 175.3 L753.2 175.9 L752.9 176.5 L752.6 177.2 L752.2 177.8 L751.9 178.4 L751.5 179.1 L751.2 179.8 L750.8 180.4 L750.4 181.1 L750.1 181.8 L749.7 182.4 L749.3 183.1 L749.0 183.8 L748.6 184.4 L748.2 185.1 L747.8 185.7 L747.5 186.4 L747.1 187.0 L746.7 187.7 L746.4 188.3 L746.0 188.9 L745.7 189.5 L745.3 190.1 L745.0 190.7 L744.7 191.3 L744.4 191.8 L744.1 192.4 L743.8 192.9 L743.5 193.4 L743.0 194.2 L742.6 195.0 L742.2 195.8 L741.8 196.5 L741.4 197.2 L741.1 197.8 L740.7 198.4 L740.4 199.0 L740.1 199.6 L739.8 200.1 L739.5 200.6 L739.2 201.2 L738.8 201.7 L738.5 202.2 L738.2 202.7 L737.8 203.2 L737.4 203.8 L737.0 204.3 L736.6 204.9 L736.2 205.4 L735.8 206.0 L735.4 206.5 L734.9 207.1 L734.5 207.6 L734.1 208.2 L733.6 208.7 L733.2 209.3 L732.7 209.8 L732.2 210.3 L731.8 210.9 L731.3 211.4 L730.9 211.9 L730.4 212.3 L730.0 212.8 L729.5 213.2 L729.1 213.6 L728.6 214.0 L728.2 214.4 L727.7 214.8 L727.2 215.1 L726.7 215.5 L726.2 215.8 L725.7 216.1 L725.2 216.3 L724.6 216.6 L724.1 216.9 L723.5 217.2 L722.8 217.5 L722.1 217.8 L721.4 218.1 L720.7 218.5 L719.9 218.9 L719.1 219.3 L718.3 219.8 L717.8 220.1 L717.2 220.5 L716.6 220.8 L716.0 221.2 L715.4 221.5 L714.8 221.9 L714.2 222.3 L713.6 222.7 L712.9 223.0 L712.3 223.4 L711.7 223.8 L711.0 224.2 L710.4 224.6 L709.8 225.0 L709.1 225.4 L708.5 225.8 L707.8 226.2 L707.2 226.5 L706.6 226.9 L706.0 227.3 L705.4 227.6 L704.8 228.0 L704.2 228.3 L703.5 228.6 L702.9 228.9 L702.2 229.2 L701.6 229.5 L700.9 229.8 L700.3 230.0 L699.6 230.3 L699.0 230.6 L698.3 230.8 L697.6 231.1 L696.9 231.3 L696.2 231.6 L695.5 231.8 L694.8 232.0 L694.0 232.3 L693.2 232.5 L692.4 232.7 L691.6 232.9 L690.7 233.1 L689.8 233.3 L688.9 233.4 L687.9 233.4 L686.9 233.5 L685.8 233.4 L684.7 233.4 L683.6 233.2 L682.9 233.6 L682.2 233.9 L681.5 234.3 L680.8 234.6 L680.1 235.0 L679.5 235.3 L678.9 235.6 L678.2 235.9 L677.6 236.2 L677.0 236.5 L676.4 236.7 L675.8 237.0 L675.3 237.2 L674.7 237.4 L674.2 237.6 L673.7 237.7 L673.2 237.9 L672.7 238.0 L672.2 238.1 L671.7 238.2 L671.4 238.4 L670.9 238.6 L670.5 238.9 L670.0 239.2 L669.4 239.4 L668.9 239.7 L668.3 240.0 L667.6 240.3 L667.0 240.7 L666.3 241.0 L665.6 241.3 L664.9 241.6 L664.3 241.9 L663.6 242.2 L662.9 242.6 L662.2 242.9 L661.5 243.2 L660.8 243.5 L660.1 243.8 L659.5 244.0 L658.9 244.3 L658.3 244.6 L657.7 244.8 L657.1 245.1 L656.5 245.3 L656.0 245.6 L655.5 245.8 L655.0 246.0 L654.6 246.2Z"/>
<path d="M733.0 216.3 L733.0 215.9 L733.1 215.5 L733.2 215.0 L733.3 214.4 L733.4 213.8 L733.5 213.2 L733.7 212.5 L733.8 211.7 L733.9 211.0 L734.1 210.2 L734.2 209.4 L734.4 208.6 L734.5 207.8 L734.7 207.0 L734.8 206.1 L734.9 205.3 L735.1 204.5 L735.2 203.7 L735.3 202.9 L735.4 202.2 L735.4 201.4 L735.5 200.7 L735.6 200.1 L735.6 199.3 L735.6 198.5 L735.7 197.8 L735.7 197.1 L735.7 196.4 L735.7 195.7 L735.7 195.0 L735.7 194.4 L735.6 193.7 L735.6 193.1 L735.5 192.4 L735.4 191.7 L735.3 191.0 L735.2 190.3 L735.1 189.5 L734.9 188.7 L734.7 187.9 L734.6 187.3 L734.4 186.6 L734.3 186.0 L734.1 185.3 L733.9 184.5 L733.7 183.8 L733.5 183.0 L733.2 182.3 L733.0 181.5 L732.8 180.7 L732.5 179.9 L732.3 179.1 L732.0 178.3 L731.8 177.5 L731.5 176.8 L731.3 176.0 L731.0 175.3 L730.8 174.6 L730.6 173.9 L730.4 173.3 L730.2 172.7 L730.0 172.1 L729.8 171.6 L729.7 171.1 L729.6 170.7 L729.4 170.3 L729.0 170.5 L729.1 170.8 L729.2 171.3 L729.3 171.7 L729.4 172.3 L729.6 172.9 L729.7 173.5 L729.9 174.1 L730.1 174.8 L730.3 175.5 L730.5 176.3 L730.7 177.0 L730.9 177.8 L731.1 178.6 L731.3 179.4 L731.5 180.2 L731.7 181.0 L731.9 181.8 L732.1 182.6 L732.3 183.4 L732.5 184.1 L732.6 184.9 L732.8 185.6 L732.9 186.3 L733.1 186.9 L733.2 187.6 L733.3 188.1 L733.4 189.0 L733.5 189.8 L733.6 190.5 L733.7 191.2 L733.7 191.9 L733.8 192.6 L733.8 193.2 L733.8 193.8 L733.8 194.4 L733.8 195.1 L733.8 195.7 L733.8 196.3 L733.7 197.0 L733.7 197.7 L733.6 198.4 L733.5 199.1 L733.4 199.9 L733.4 200.5 L733.3 201.2 L733.2 201.8 L733.0 202.6 L732.9 203.3 L732.7 204.1 L732.6 204.9 L732.4 205.7 L732.2 206.5 L732.0 207.3 L731.8 208.1 L731.7 208.9 L731.5 209.7 L731.3 210.4 L731.1 211.2 L730.9 211.9 L730.8 212.6 L730.6 213.2 L730.5 213.8 L730.3 214.4 L730.2 214.9 L730.1 215.3 L730.0 215.7Z"/>
<path d="M667.0 276.1 L667.4 276.0 L667.7 275.9 L668.2 275.8 L668.6 275.7 L669.1 275.6 L669.7 275.5 L670.2 275.3 L670.9 275.2 L671.5 275.0 L672.2 274.9 L672.9 274.7 L673.6 274.5 L674.3 274.4 L675.1 274.2 L675.9 274.0 L676.7 273.8 L677.5 273.6 L678.3 273.4 L679.1 273.2 L679.9 273.0 L680.8 272.8 L681.6 272.6 L682.4 272.4 L683.3 272.2 L684.1 271.9 L684.9 271.7 L685.7 271.5 L686.5 271.3 L687.3 271.1 L688.1 270.8 L688.8 270.6 L689.6 270.4 L690.4 270.0 L691.2 269.5 L692.0 269.1 L692.7 268.7 L693.5 268.3 L694.2 267.8 L694.9 267.4 L695.7 267.0 L696.3 266.5 L697.0 266.1 L697.7 265.7 L698.4 265.2 L699.0 264.8 L699.7 264.4 L700.1 263.3 L700.5 262.4 L700.9 261.5 L701.3 260.7 L701.8 259.9 L702.2 259.2 L702.7 258.6 L703.2 258.0 L703.7 257.4 L704.2 256.9 L704.7 256.3 L705.2 255.9 L705.7 255.4 L706.1 254.9 L706.7 254.6 L707.2 254.3 L707.7 254.0 L708.2 253.8 L708.7 253.6 L709.2 253.4 L709.7 253.2 L710.2 253.1 L710.8 252.9 L711.4 252.7 L712.0 252.6 L712.6 252.4 L713.2 252.1 L713.9 251.9 L714.7 251.7 L715.4 251.4 L716.2 251.0 L717.0 250.7 L717.9 250.3 L718.8 249.8 L719.7 249.4 L720.7 248.8 L721.8 248.2 L722.3 248.0 L722.7 247.7 L723.2 247.4 L723.7 247.1 L724.2 246.8 L724.7 246.5 L725.2 246.2 L725.8 245.9 L726.3 245.6 L726.9 245.3 L727.4 244.9 L728.0 244.6 L728.6 244.2 L729.2 243.9 L729.7 243.5 L730.3 243.1 L730.9 242.8 L731.6 242.4 L732.2 242.0 L732.8 241.6 L733.4 241.2 L734.0 240.8 L734.7 240.4 L735.3 240.0 L736.0 239.6 L736.6 239.2 L737.2 238.8 L737.9 238.4 L738.5 237.9 L739.2 237.5 L739.8 237.1 L740.5 236.7 L741.1 236.2 L741.8 235.8 L742.4 235.4 L743.1 234.9 L743.7 234.5 L744.4 234.1 L745.0 233.7 L745.7 233.2 L746.3 232.8 L746.9 232.4 L747.6 232.0 L748.2 231.5 L748.8 231.1 L749.4 230.7 L750.0 230.3 L750.6 229.9 L751.2 229.5 L751.8 229.0 L752.4 228.6 L753.0 228.2 L753.6 227.9 L754.1 227.5 L754.7 227.1 L755.3 226.6 L755.9 226.2 L756.6 225.7 L757.2 225.3 L757.8 224.8 L758.4 224.4 L759.0 223.9 L759.7 223.4 L760.3 223.0 L760.9 222.5 L761.5 222.0 L762.1 221.5 L762.7 221.0 L763.3 220.6 L763.9 220.1 L764.5 219.6 L765.1 219.1 L765.7 218.6 L766.3 218.2 L766.9 217.7 L767.5 217.2 L768.0 216.7 L768.6 216.3 L769.2 215.8 L769.8 215.3 L770.3 214.9 L770.9 214.4 L771.4 213.9 L772.0 213.5 L772.6 213.1 L773.1 212.6 L773.6 212.2 L774.2 211.8 L774.7 211.4 L775.2 210.9 L775.8 210.5 L776.3 210.2 L776.8 209.8 L777.3 209.4 L777.8 209.0 L778.3 208.7 L778.8 208.3 L779.3 208.0 L779.7 207.7 L780.2 207.4 L780.7 207.1 L781.1 206.8 L781.6 206.5 L782.0 206.2 L782.9 205.8 L783.7 205.3 L784.4 204.9 L785.2 204.6 L785.9 204.2 L786.7 203.9 L787.4 203.6 L788.0 203.4 L788.7 203.1 L789.4 202.9 L790.0 202.7 L790.7 202.5 L791.3 202.4 L791.9 202.2 L792.5 202.1 L793.2 202.0 L793.8 201.9 L794.4 201.7 L795.0 201.6 L795.7 201.5 L796.3 201.5 L796.9 201.4 L797.6 201.3 L798.3 201.2 L798.9 201.1 L799.6 201.0 L800.3 200.9 L801.1 200.8 L801.9 200.8 L802.6 200.7 L803.5 200.7 L804.3 200.7 L805.1 200.7 L805.9 200.7 L806.8 200.7 L807.6 200.7 L808.4 200.8 L809.2 200.8 L810.0 200.8 L810.8 200.9 L811.6 200.9 L812.3 201.0 L813.0 201.0 L813.7 201.1 L814.3 201.1 L814.9 201.2 L815.4 201.2 L815.9 201.2 L816.4 201.2 L816.8 201.2 L816.8 200.6 L816.4 200.5 L816.0 200.5 L815.5 200.4 L815.0 200.3 L814.4 200.2 L813.8 200.1 L813.1 200.0 L812.4 199.9 L811.7 199.8 L810.9 199.7 L810.1 199.6 L809.4 199.5 L808.5 199.4 L807.7 199.3 L806.9 199.2 L806.0 199.2 L805.2 199.1 L804.3 199.0 L803.5 199.0 L802.6 199.0 L801.8 198.9 L801.0 198.9 L800.2 199.0 L799.4 199.0 L798.7 199.0 L798.1 199.1 L797.4 199.1 L796.7 199.1 L796.1 199.2 L795.4 199.2 L794.8 199.3 L794.1 199.3 L793.5 199.4 L792.8 199.4 L792.1 199.5 L791.4 199.6 L790.7 199.7 L790.0 199.8 L789.3 199.9 L788.6 200.1 L787.9 200.3 L787.1 200.5 L786.3 200.7 L785.5 201.0 L784.7 201.2 L783.9 201.6 L783.1 201.9 L782.2 202.3 L781.3 202.7 L780.4 203.2 L779.9 203.4 L779.4 203.7 L778.8 204.0 L778.3 204.3 L777.8 204.6 L777.3 204.9 L776.7 205.2 L776.2 205.6 L775.7 205.9 L775.1 206.3 L774.6 206.6 L774.0 207.0 L773.5 207.4 L772.9 207.8 L772.4 208.2 L771.8 208.6 L771.2 209.0 L770.6 209.4 L770.1 209.8 L769.5 210.2 L768.9 210.7 L768.3 211.1 L767.7 211.5 L767.2 212.0 L766.6 212.4 L766.0 212.9 L765.4 213.3 L764.8 213.8 L764.2 214.2 L763.6 214.7 L763.0 215.1 L762.4 215.6 L761.8 216.0 L761.1 216.5 L760.5 216.9 L759.9 217.4 L759.3 217.8 L758.7 218.3 L758.1 218.7 L757.5 219.2 L756.8 219.6 L756.2 220.0 L755.6 220.5 L755.0 220.9 L754.4 221.3 L753.8 221.7 L753.1 222.1 L752.5 222.5 L751.9 222.9 L751.3 223.3 L750.8 223.6 L750.2 224.0 L749.6 224.4 L749.0 224.8 L748.4 225.1 L747.8 225.5 L747.2 225.9 L746.6 226.3 L745.9 226.7 L745.3 227.1 L744.7 227.5 L744.0 227.9 L743.4 228.3 L742.7 228.7 L742.1 229.1 L741.4 229.5 L740.8 229.9 L740.1 230.3 L739.5 230.7 L738.8 231.1 L738.1 231.5 L737.5 231.9 L736.8 232.3 L736.2 232.7 L735.5 233.1 L734.9 233.5 L734.2 233.9 L733.5 234.3 L732.9 234.7 L732.3 235.0 L731.6 235.4 L731.0 235.8 L730.3 236.2 L729.7 236.5 L729.1 236.9 L728.5 237.2 L727.9 237.6 L727.2 237.9 L726.6 238.3 L726.1 238.6 L725.5 238.9 L724.9 239.2 L724.3 239.5 L723.8 239.8 L723.2 240.1 L722.7 240.4 L722.2 240.7 L721.6 241.0 L721.1 241.2 L720.6 241.5 L720.2 241.7 L719.7 242.0 L719.2 242.2 L718.8 242.4 L717.8 242.8 L716.9 243.2 L716.0 243.5 L715.3 243.7 L714.5 243.9 L713.9 244.1 L713.2 244.2 L712.7 244.3 L712.1 244.4 L711.6 244.5 L711.0 244.5 L710.5 244.5 L710.0 244.5 L709.4 244.5 L708.9 244.5 L708.3 244.6 L707.6 244.6 L706.9 244.6 L706.2 244.7 L705.4 244.7 L704.6 244.8 L703.8 244.9 L702.9 245.1 L702.1 245.0 L701.3 245.0 L700.6 245.0 L699.8 244.9 L699.0 244.9 L698.2 244.8 L697.4 244.7 L696.5 244.5 L695.7 244.3 L694.8 244.1 L693.9 243.8 L693.0 243.5 L692.1 243.0 L691.1 242.5 L690.4 242.6 L689.6 242.7 L688.9 242.8 L688.2 242.9 L687.5 243.0 L686.8 243.1 L686.1 243.2 L685.4 243.3 L684.7 243.4 L684.1 243.4 L683.4 243.5 L682.7 243.5 L682.1 243.6 L681.4 243.6 L680.9 243.8 L680.3 244.0 L679.7 244.1 L679.0 244.3 L678.3 244.5 L677.6 244.7 L676.9 244.9 L676.2 245.1 L675.5 245.3 L674.7 245.4 L673.9 245.6 L673.2 245.8 L672.4 246.0 L671.6 246.2 L670.9 246.4 L670.1 246.6 L669.4 246.8 L668.6 246.9 L667.9 247.1 L667.2 247.3 L666.5 247.4 L665.8 247.6 L665.1 247.8 L664.5 247.9 L663.8 248.1 L663.2 248.2 L662.7 248.3 L662.1 248.5 L661.6 248.6 L661.1 248.7 L660.7 248.8 L660.3 248.9Z"/>
<path d="M697.1 301.5 L697.5 301.5 L698.0 301.6 L698.6 301.8 L699.2 301.9 L699.8 302.0 L700.6 302.2 L701.3 302.3 L702.1 302.5 L702.9 302.7 L703.7 302.9 L704.6 303.0 L705.4 303.2 L706.2 303.4 L707.0 303.6 L707.8 303.7 L708.5 303.9 L709.2 304.1 L709.9 304.2 L710.6 304.4 L711.3 304.6 L712.0 304.7 L712.7 304.9 L713.4 305.1 L714.1 305.3 L714.7 305.4 L715.4 305.6 L716.1 305.8 L716.8 305.9 L717.5 306.1 L718.2 306.3 L718.9 306.4 L719.6 306.6 L720.4 306.7 L721.1 306.8 L721.8 306.9 L722.6 307.1 L723.5 307.2 L724.3 307.3 L725.2 307.4 L726.0 307.5 L726.8 307.6 L727.7 307.7 L728.5 307.8 L729.3 307.9 L730.0 308.0 L730.7 308.1 L731.3 308.1 L731.9 308.2 L732.3 308.2 L732.8 308.3 L732.8 307.7 L732.4 307.6 L732.0 307.5 L731.4 307.4 L730.8 307.3 L730.1 307.2 L729.4 307.1 L728.6 306.9 L727.8 306.8 L727.0 306.6 L726.2 306.5 L725.3 306.3 L724.5 306.1 L723.7 306.0 L722.9 305.8 L722.1 305.6 L721.3 305.5 L720.6 305.3 L719.9 305.1 L719.2 304.9 L718.6 304.7 L717.9 304.5 L717.2 304.3 L716.6 304.1 L715.9 303.9 L715.2 303.7 L714.6 303.5 L713.9 303.3 L713.2 303.0 L712.6 302.8 L711.9 302.6 L711.2 302.4 L710.5 302.2 L709.8 301.9 L709.1 301.7 L708.3 301.5 L707.6 301.3 L706.8 301.1 L706.0 300.8 L705.2 300.6 L704.3 300.4 L703.5 300.1 L702.7 299.9 L702.0 299.7 L701.2 299.5 L700.5 299.3 L699.9 299.1 L699.3 298.9 L698.7 298.8 L698.3 298.7 L697.9 298.5Z"/>
<path d="M713.4 303.4 L713.6 303.0 L713.8 302.5 L714.0 301.9 L714.2 301.2 L714.5 300.4 L714.8 299.6 L715.1 298.8 L715.5 298.0 L715.8 297.1 L716.1 296.3 L716.4 295.5 L716.7 294.7 L717.0 294.0 L717.2 293.4 L717.4 292.9 L717.5 292.5 L717.1 292.3 L716.9 292.7 L716.6 293.2 L716.3 293.7 L716.0 294.4 L715.6 295.1 L715.2 295.9 L714.8 296.6 L714.3 297.4 L713.9 298.2 L713.5 299.0 L713.1 299.8 L712.7 300.5 L712.4 301.1 L712.0 301.7 L711.8 302.2 L711.6 302.6Z"/>
<path d="M721.5 306.3 L721.5 305.9 L721.6 305.4 L721.8 304.8 L721.9 304.1 L722.0 303.4 L722.2 302.6 L722.4 301.8 L722.5 301.0 L722.7 300.1 L722.9 299.2 L723.1 298.4 L723.2 297.5 L723.4 296.7 L723.6 295.9 L723.7 295.2 L723.8 294.5 L724.0 294.0 L724.1 293.5 L724.1 293.1 L723.7 292.9 L723.5 293.3 L723.4 293.8 L723.2 294.4 L723.0 295.0 L722.8 295.7 L722.5 296.5 L722.3 297.3 L722.0 298.1 L721.7 298.9 L721.5 299.8 L721.2 300.6 L720.9 301.4 L720.7 302.2 L720.4 303.0 L720.2 303.7 L720.0 304.3 L719.8 304.9 L719.7 305.4 L719.5 305.7Z"/>
<path d="M708.7 304.4 L709.0 304.8 L709.3 305.3 L709.7 305.9 L710.2 306.6 L710.6 307.4 L711.1 308.1 L711.6 308.8 L712.0 309.4 L712.3 309.9 L712.6 310.3 L713.0 310.1 L712.8 309.7 L712.6 309.1 L712.3 308.4 L712.0 307.6 L711.7 306.8 L711.3 306.0 L711.0 305.3 L710.7 304.6 L710.5 304.0 L710.3 303.6Z"/>
<path d="M676.3 306.3 L676.4 306.7 L676.5 307.2 L676.7 307.8 L676.9 308.5 L677.1 309.3 L677.3 310.1 L677.6 311.0 L677.8 311.8 L678.1 312.7 L678.4 313.5 L678.8 314.3 L679.1 314.9 L679.4 315.6 L679.8 316.4 L680.3 317.1 L680.7 317.8 L681.1 318.5 L681.6 319.2 L682.0 319.9 L682.4 320.5 L682.8 321.1 L683.1 321.6 L683.4 322.1 L683.6 322.4 L684.0 322.2 L683.8 321.8 L683.6 321.3 L683.3 320.8 L683.0 320.2 L682.7 319.5 L682.4 318.8 L682.0 318.0 L681.7 317.3 L681.3 316.5 L681.0 315.8 L680.7 315.0 L680.4 314.4 L680.2 313.7 L680.0 313.0 L679.8 312.2 L679.6 311.3 L679.5 310.5 L679.3 309.7 L679.2 308.9 L679.1 308.1 L679.0 307.4 L678.9 306.7 L678.8 306.2 L678.7 305.7Z"/>
<path d="M665.6 315.6 L665.8 315.8 L666.1 316.2 L666.4 316.5 L666.8 317.0 L667.1 317.5 L667.6 318.0 L668.0 318.5 L668.5 319.1 L669.0 319.7 L669.5 320.3 L670.0 320.9 L670.6 321.6 L671.1 322.2 L671.7 322.9 L672.3 323.5 L672.9 324.1 L673.5 324.7 L674.0 325.3 L674.6 325.9 L675.2 326.4 L675.8 326.9 L676.4 327.4 L677.0 327.8 L677.7 328.3 L678.3 328.7 L679.0 329.0 L679.6 329.4 L680.3 329.7 L680.9 330.0 L681.6 330.3 L682.2 330.5 L682.9 330.8 L683.5 331.0 L684.2 331.2 L684.8 331.5 L685.5 331.7 L686.2 332.0 L686.9 332.2 L687.6 332.5 L688.3 332.7 L689.0 333.0 L689.6 333.3 L690.3 333.5 L691.0 333.8 L691.7 334.1 L692.5 334.4 L693.2 334.7 L694.0 335.0 L694.8 335.3 L695.6 335.6 L696.4 335.9 L697.2 336.2 L698.0 336.5 L698.8 336.8 L699.5 337.1 L700.3 337.4 L701.0 337.6 L701.7 337.9 L702.4 338.1 L703.0 338.4 L703.6 338.6 L704.1 338.8 L704.6 339.0 L705.0 339.1 L705.4 339.3 L705.6 338.7 L705.3 338.5 L704.8 338.3 L704.4 338.1 L703.9 337.9 L703.3 337.6 L702.7 337.3 L702.1 337.0 L701.4 336.7 L700.7 336.3 L700.0 336.0 L699.3 335.6 L698.5 335.3 L697.8 334.9 L697.0 334.5 L696.2 334.1 L695.5 333.8 L694.7 333.4 L694.0 333.0 L693.2 332.6 L692.5 332.3 L691.8 331.9 L691.2 331.6 L690.6 331.3 L690.0 331.0 L689.2 330.6 L688.5 330.3 L687.8 329.9 L687.2 329.6 L686.5 329.3 L685.8 329.0 L685.2 328.7 L684.6 328.4 L684.0 328.1 L683.4 327.8 L682.8 327.5 L682.3 327.2 L681.7 326.9 L681.2 326.6 L680.7 326.2 L680.1 325.9 L679.6 325.5 L679.1 325.1 L678.6 324.6 L678.2 324.2 L677.7 323.8 L677.3 323.3 L676.8 322.7 L676.3 322.1 L675.8 321.5 L675.4 320.9 L674.9 320.3 L674.4 319.6 L673.9 319.0 L673.5 318.3 L673.0 317.6 L672.6 317.0 L672.1 316.4 L671.7 315.8 L671.3 315.2 L671.0 314.6 L670.6 314.1 L670.3 313.6 L670.0 313.2 L669.7 312.8 L669.4 312.4Z"/>
<path d="M661.6 100.4 L661.9 100.1 L662.3 99.7 L662.8 99.3 L663.4 98.8 L664.0 98.3 L664.6 97.7 L665.3 97.1 L665.9 96.5 L666.6 96.0 L667.2 95.5 L667.7 95.0 L668.3 94.4 L668.9 93.9 L669.5 93.4 L670.1 92.9 L670.7 92.4 L671.2 92.0 L671.8 91.5 L672.4 91.0 L672.9 90.5 L673.4 90.1 L674.1 89.5 L674.8 88.9 L675.4 88.2 L676.1 87.6 L676.7 87.1 L677.2 86.6 L677.6 86.2 L678.0 85.8 L677.6 85.4 L677.2 85.6 L676.7 86.0 L676.1 86.4 L675.5 86.9 L674.8 87.4 L674.0 87.9 L673.3 88.4 L672.6 88.9 L672.0 89.3 L671.4 89.7 L670.8 90.1 L670.2 90.5 L669.5 90.9 L668.9 91.3 L668.2 91.8 L667.6 92.2 L666.9 92.6 L666.3 93.0 L665.6 93.5 L665.0 93.9 L664.3 94.4 L663.5 94.9 L662.8 95.3 L662.1 95.8 L661.4 96.3 L660.8 96.7 L660.3 97.1 L659.8 97.4 L659.4 97.6Z"/>
<path d="M661.8 98.2 L661.5 97.8 L661.1 97.4 L660.7 96.9 L660.3 96.3 L659.8 95.7 L659.3 95.0 L658.8 94.3 L658.2 93.6 L657.7 92.9 L657.3 92.2 L656.8 91.6 L656.5 91.0 L656.1 90.3 L655.7 89.6 L655.3 88.9 L654.9 88.1 L654.5 87.4 L654.2 86.6 L653.8 85.9 L653.5 85.2 L653.2 84.6 L652.9 84.0 L652.7 83.6 L652.5 83.2 L651.9 83.4 L652.1 83.8 L652.2 84.3 L652.4 84.9 L652.6 85.6 L652.9 86.3 L653.1 87.0 L653.4 87.8 L653.7 88.6 L654.0 89.5 L654.3 90.3 L654.6 91.0 L654.9 91.8 L655.2 92.4 L655.5 93.2 L655.9 94.0 L656.4 94.8 L656.8 95.6 L657.2 96.4 L657.7 97.1 L658.1 97.8 L658.4 98.4 L658.8 99.0 L659.0 99.5 L659.2 99.8Z"/>
<path d="M752.0 139.2 L752.1 138.8 L752.3 138.3 L752.6 137.8 L752.8 137.2 L753.1 136.5 L753.4 135.8 L753.7 135.1 L754.0 134.3 L754.4 133.5 L754.7 132.7 L755.0 131.9 L755.4 131.2 L755.7 130.4 L756.0 129.7 L756.4 129.0 L756.7 128.3 L757.0 127.6 L757.3 126.9 L757.7 126.1 L758.1 125.4 L758.5 124.6 L758.8 123.9 L759.2 123.2 L759.6 122.5 L759.9 121.8 L760.2 121.2 L760.5 120.6 L760.8 120.1 L761.0 119.7 L761.2 119.3 L760.8 119.1 L760.6 119.4 L760.3 119.8 L760.0 120.3 L759.6 120.8 L759.3 121.4 L758.9 122.1 L758.4 122.7 L758.0 123.4 L757.5 124.1 L757.1 124.8 L756.6 125.5 L756.2 126.3 L755.8 127.0 L755.3 127.7 L755.0 128.3 L754.6 128.9 L754.2 129.6 L753.8 130.4 L753.4 131.1 L753.0 131.9 L752.6 132.6 L752.1 133.4 L751.7 134.1 L751.4 134.8 L751.0 135.5 L750.7 136.1 L750.3 136.7 L750.1 137.2 L749.8 137.7 L749.6 138.0Z"/>
<path d="M510.3 308.2 L510.1 308.4 L509.8 308.6 L509.5 308.8 L509.0 309.1 L508.6 309.4 L508.0 309.8 L507.5 310.2 L506.9 310.6 L506.2 311.1 L505.6 311.6 L504.9 312.1 L504.1 312.7 L503.4 313.4 L502.7 314.1 L501.9 314.8 L501.2 315.6 L500.5 316.5 L500.1 316.9 L499.7 317.4 L499.3 317.9 L498.9 318.4 L498.5 318.9 L498.1 319.4 L497.7 320.0 L497.2 320.6 L496.8 321.2 L496.4 321.7 L496.0 322.4 L495.5 323.0 L495.1 323.6 L494.6 324.2 L494.2 324.9 L493.7 325.5 L493.3 326.2 L492.9 326.8 L492.4 327.5 L492.0 328.1 L491.6 328.8 L491.1 329.4 L490.7 330.0 L490.3 330.7 L489.9 331.3 L489.5 331.9 L489.1 332.6 L488.7 333.2 L488.3 333.8 L488.0 334.4 L487.6 334.9 L487.3 335.5 L486.9 336.0 L486.5 336.8 L486.1 337.5 L485.7 338.2 L485.3 339.0 L484.9 339.7 L484.5 340.4 L484.2 341.1 L483.8 341.8 L483.5 342.5 L483.1 343.2 L482.8 343.8 L482.5 344.5 L482.2 345.2 L481.9 345.8 L481.6 346.4 L481.4 347.1 L481.1 347.7 L480.8 348.3 L480.6 348.9 L480.3 349.5 L480.1 350.1 L479.8 350.7 L479.6 351.2 L479.4 351.8 L479.1 352.7 L478.8 353.5 L478.5 354.4 L478.2 355.2 L477.9 356.1 L477.7 356.9 L477.5 357.6 L477.3 358.4 L477.1 359.1 L476.9 359.8 L476.7 360.5 L476.6 361.2 L476.4 361.8 L476.3 362.4 L476.2 362.9 L476.1 363.4 L475.9 364.9 L475.9 366.0 L476.0 366.9 L476.2 367.5 L476.4 368.0 L477.8 368.2 L478.2 367.8 L478.5 367.3 L478.8 366.6 L479.3 365.8 L479.9 364.6 L480.1 364.1 L480.3 363.6 L480.5 363.0 L480.8 362.5 L481.0 361.9 L481.3 361.2 L481.5 360.6 L481.8 359.9 L482.1 359.2 L482.4 358.5 L482.7 357.8 L483.0 357.0 L483.3 356.3 L483.7 355.5 L484.0 354.8 L484.4 354.0 L484.7 353.4 L484.9 352.9 L485.2 352.3 L485.4 351.8 L485.7 351.2 L486.0 350.6 L486.2 350.0 L486.5 349.4 L486.8 348.8 L487.1 348.2 L487.4 347.6 L487.7 347.0 L488.0 346.4 L488.3 345.7 L488.7 345.1 L489.0 344.5 L489.3 343.8 L489.7 343.2 L490.1 342.5 L490.4 341.9 L490.8 341.2 L491.2 340.5 L491.6 339.8 L492.1 339.2 L492.4 338.7 L492.7 338.1 L493.1 337.6 L493.4 337.0 L493.8 336.5 L494.2 335.9 L494.6 335.3 L495.0 334.7 L495.4 334.1 L495.8 333.5 L496.2 332.8 L496.7 332.2 L497.1 331.6 L497.5 331.0 L498.0 330.3 L498.4 329.7 L498.9 329.1 L499.3 328.5 L499.7 327.9 L500.2 327.3 L500.6 326.7 L501.1 326.1 L501.5 325.5 L501.9 325.0 L502.3 324.4 L502.8 323.9 L503.2 323.4 L503.6 322.9 L503.9 322.4 L504.3 321.9 L504.7 321.5 L505.0 321.1 L505.3 320.7 L506.0 320.1 L506.6 319.4 L507.2 318.9 L507.8 318.3 L508.4 317.9 L509.0 317.4 L509.6 317.0 L510.1 316.6 L510.7 316.2 L511.2 315.8 L511.8 315.5 L512.3 315.2 L512.8 314.9 L513.2 314.6 L513.7 314.4 L514.1 314.1 L514.5 313.8Z"/>
<path d="M518.3 348.8 L518.2 349.2 L518.2 349.7 L518.2 350.2 L518.2 350.7 L518.2 351.2 L518.2 351.8 L518.1 352.4 L518.1 353.0 L518.1 353.6 L518.1 354.3 L518.1 355.0 L518.1 355.8 L518.0 356.5 L518.0 357.3 L517.9 358.1 L517.9 358.9 L517.8 359.7 L517.7 360.6 L517.6 361.4 L517.5 362.3 L517.4 363.2 L517.3 364.1 L517.1 365.0 L516.9 365.9 L516.8 366.5 L516.7 367.1 L516.5 367.7 L516.4 368.3 L516.2 369.0 L516.1 369.6 L515.9 370.3 L515.7 371.1 L515.5 371.8 L515.3 372.5 L515.1 373.3 L514.9 374.1 L514.7 374.9 L514.5 375.6 L514.3 376.4 L514.0 377.2 L513.8 378.0 L513.6 378.9 L513.3 379.7 L513.1 380.5 L512.9 381.2 L512.7 382.0 L512.4 382.8 L512.2 383.6 L512.0 384.4 L511.7 385.1 L511.5 385.8 L511.3 386.6 L511.1 387.3 L510.9 387.9 L510.7 388.6 L510.5 389.3 L510.3 389.9 L510.2 390.5 L510.0 391.0 L509.8 391.5 L509.7 392.0 L509.6 392.5 L509.4 393.0 L509.3 393.4 L509.2 393.7 L509.8 393.9 L509.9 393.5 L510.0 393.2 L510.2 392.7 L510.4 392.3 L510.5 391.8 L510.7 391.3 L510.9 390.7 L511.1 390.1 L511.4 389.5 L511.6 388.9 L511.8 388.3 L512.1 387.6 L512.3 386.9 L512.6 386.2 L512.8 385.5 L513.1 384.7 L513.4 384.0 L513.7 383.2 L513.9 382.5 L514.2 381.7 L514.5 380.9 L514.8 380.1 L515.1 379.3 L515.4 378.5 L515.6 377.8 L515.9 377.0 L516.2 376.2 L516.4 375.4 L516.7 374.6 L517.0 373.9 L517.2 373.1 L517.5 372.4 L517.7 371.6 L517.9 370.9 L518.2 370.2 L518.4 369.6 L518.6 368.9 L518.8 368.3 L519.0 367.6 L519.1 367.0 L519.3 366.5 L519.5 365.5 L519.7 364.6 L519.9 363.7 L520.1 362.7 L520.3 361.8 L520.5 361.0 L520.6 360.1 L520.7 359.2 L520.8 358.4 L520.9 357.6 L521.0 356.8 L521.1 356.0 L521.2 355.2 L521.3 354.5 L521.3 353.8 L521.4 353.2 L521.4 352.5 L521.5 351.9 L521.5 351.4 L521.6 350.8 L521.6 350.4 L521.6 349.9 L521.7 349.5 L521.7 349.2Z"/>
<path d="M621.2 277.6 L621.1 277.9 L621.0 278.3 L620.8 278.7 L620.6 279.2 L620.4 279.7 L620.2 280.2 L620.0 280.8 L619.7 281.4 L619.5 282.0 L619.2 282.7 L618.9 283.4 L618.7 284.1 L618.4 284.8 L618.1 285.5 L617.8 286.3 L617.5 287.0 L617.2 287.8 L616.9 288.6 L616.6 289.4 L616.2 290.2 L615.9 291.0 L615.6 291.8 L615.3 292.6 L615.0 293.3 L614.7 294.1 L614.4 294.9 L614.1 295.7 L613.8 296.5 L613.5 297.2 L613.2 297.9 L613.0 298.7 L612.7 299.4 L612.6 300.2 L612.5 301.0 L612.3 301.8 L612.2 302.6 L612.1 303.4 L612.0 304.2 L611.9 305.0 L611.8 305.8 L611.7 306.6 L611.6 307.3 L611.5 308.1 L611.4 308.9 L611.4 309.6 L612.2 310.7 L612.9 311.7 L613.5 312.7 L614.0 313.6 L614.4 314.5 L614.7 315.4 L615.0 316.2 L615.3 317.0 L615.5 317.8 L615.7 318.5 L615.8 319.3 L615.9 320.0 L616.0 320.7 L616.1 321.4 L616.2 322.1 L616.2 322.7 L616.3 323.3 L616.2 324.1 L616.1 324.8 L616.0 325.4 L615.8 326.1 L615.7 326.7 L615.6 327.3 L615.4 327.9 L615.2 328.5 L615.1 329.1 L614.9 329.7 L614.7 330.4 L614.5 331.0 L614.3 331.7 L614.1 332.5 L613.9 333.2 L613.7 334.0 L613.5 334.8 L613.3 335.7 L613.1 336.6 L612.9 337.6 L612.7 338.5 L612.5 339.1 L612.4 339.7 L612.3 340.4 L612.2 341.0 L612.0 341.6 L611.9 342.3 L611.8 342.9 L611.6 343.6 L611.5 344.3 L611.4 345.0 L611.3 345.7 L611.1 346.4 L611.0 347.1 L610.9 347.9 L610.8 348.6 L610.6 349.3 L610.5 350.1 L610.4 350.8 L610.3 351.6 L610.1 352.3 L610.0 353.1 L609.9 353.9 L609.8 354.6 L609.7 355.4 L609.6 356.2 L609.5 356.9 L609.3 357.7 L609.2 358.4 L609.1 359.2 L609.0 360.0 L609.0 360.7 L608.9 361.5 L608.8 362.2 L608.7 362.9 L608.6 363.7 L608.5 364.4 L608.5 365.1 L608.4 365.9 L608.4 366.7 L608.3 367.4 L608.2 368.2 L608.2 369.0 L608.2 369.8 L608.1 370.6 L608.1 371.4 L608.0 372.2 L608.0 372.9 L608.0 373.7 L607.9 374.5 L607.9 375.3 L607.9 376.1 L607.9 376.9 L607.9 377.7 L607.8 378.4 L607.8 379.2 L607.8 380.0 L607.8 380.7 L607.8 381.4 L607.8 382.2 L607.8 382.9 L607.8 383.6 L607.8 384.3 L607.8 385.0 L607.8 385.6 L607.8 386.3 L607.8 386.9 L607.8 387.5 L607.8 388.1 L607.8 388.7 L607.8 389.2 L607.8 389.8 L607.8 390.9 L607.8 391.9 L607.8 392.8 L607.8 393.7 L607.9 394.6 L607.9 395.4 L607.9 396.2 L608.0 396.9 L608.0 397.6 L608.1 398.2 L608.2 398.8 L608.2 399.4 L608.3 399.9 L608.3 400.5 L608.4 401.0 L608.4 401.4 L608.5 401.9 L608.7 403.3 L608.9 404.3 L609.1 405.0 L609.3 405.5 L609.6 406.0 L611.0 406.0 L611.3 405.6 L611.6 405.1 L611.9 404.4 L612.2 403.5 L612.5 402.1 L612.6 401.6 L612.7 401.1 L612.8 400.6 L612.9 400.1 L612.9 399.5 L613.0 398.9 L613.1 398.3 L613.2 397.7 L613.3 397.1 L613.4 396.4 L613.5 395.6 L613.6 394.9 L613.7 394.0 L613.8 393.2 L614.0 392.2 L614.1 391.3 L614.2 390.2 L614.3 389.7 L614.4 389.1 L614.5 388.5 L614.5 387.9 L614.6 387.3 L614.7 386.7 L614.8 386.0 L614.8 385.4 L614.9 384.7 L615.0 384.0 L615.1 383.3 L615.1 382.6 L615.2 381.9 L615.3 381.2 L615.4 380.4 L615.5 379.7 L615.5 379.0 L615.6 378.2 L615.7 377.4 L615.8 376.7 L615.9 375.9 L616.0 375.2 L616.1 374.4 L616.2 373.6 L616.3 372.9 L616.4 372.1 L616.5 371.4 L616.6 370.6 L616.7 369.9 L616.8 369.2 L617.0 368.4 L617.1 367.7 L617.2 367.0 L617.3 366.3 L617.5 365.6 L617.6 364.9 L617.7 364.3 L617.8 363.6 L618.0 362.9 L618.1 362.2 L618.3 361.5 L618.4 360.7 L618.6 360.0 L618.7 359.3 L618.9 358.6 L619.0 357.9 L619.2 357.1 L619.3 356.4 L619.5 355.7 L619.7 355.0 L619.8 354.2 L620.0 353.5 L620.2 352.8 L620.4 352.1 L620.5 351.4 L620.7 350.7 L620.9 350.0 L621.1 349.3 L621.2 348.6 L621.4 348.0 L621.6 347.3 L621.8 346.7 L621.9 346.0 L622.1 345.4 L622.3 344.8 L622.5 344.2 L622.7 343.6 L622.8 343.0 L623.0 342.5 L623.2 342.0 L623.3 341.5 L623.6 340.6 L623.9 339.9 L624.2 339.3 L624.5 338.6 L624.8 338.1 L625.1 337.5 L625.4 337.0 L625.7 336.5 L626.0 336.1 L626.3 335.6 L626.6 335.1 L627.0 334.6 L627.3 334.1 L627.7 333.5 L628.1 332.9 L628.4 332.3 L628.9 331.7 L629.3 331.0 L629.7 330.3 L630.2 329.5 L630.7 328.7 L631.2 328.1 L631.7 327.6 L632.1 327.1 L632.7 326.6 L633.2 326.1 L633.7 325.5 L634.3 325.0 L634.9 324.5 L635.6 324.0 L636.3 323.5 L637.1 323.0 L637.9 322.5 L638.7 322.0 L639.7 321.6 L640.8 321.2 L641.9 320.9 L643.2 320.5 L643.6 319.9 L644.0 319.3 L644.4 318.7 L644.8 318.0 L645.2 317.4 L645.6 316.8 L646.0 316.2 L646.4 315.6 L646.7 315.0 L647.1 314.4 L647.5 313.8 L647.9 313.2 L648.3 312.6 L648.5 312.0 L648.8 311.4 L649.0 310.7 L649.3 310.0 L649.6 309.3 L649.8 308.6 L650.1 307.9 L650.4 307.1 L650.7 306.4 L651.0 305.6 L651.3 304.8 L651.6 304.1 L651.9 303.3 L652.2 302.5 L652.5 301.8 L652.8 301.0 L653.1 300.3 L653.4 299.5 L653.7 298.8 L654.0 298.1 L654.2 297.4 L654.5 296.8 L654.8 296.1 L655.0 295.5 L655.3 294.9 L655.5 294.3 L655.7 293.8 L655.9 293.2 L656.1 292.8 L656.3 292.3 L656.4 291.9 L656.6 291.5Z"/>
<path d="M631.5 287.0 L631.6 287.3 L631.6 287.7 L631.7 288.1 L631.8 288.6 L631.8 289.1 L631.9 289.7 L632.0 290.3 L632.1 291.0 L632.2 291.6 L632.3 292.4 L632.3 293.1 L632.4 293.9 L632.6 294.7 L632.7 295.5 L632.8 296.3 L632.9 297.2 L633.0 298.0 L633.1 298.9 L633.3 299.7 L633.4 300.6 L633.5 301.5 L633.6 302.4 L633.8 303.3 L633.9 304.1 L634.1 305.0 L634.2 305.9 L634.4 306.7 L634.5 307.6 L634.7 308.4 L634.8 309.2 L635.1 310.0 L635.4 310.7 L635.7 311.4 L636.0 312.1 L636.3 312.8 L636.6 313.5 L636.9 314.3 L637.2 315.0 L637.6 315.7 L637.9 316.5 L638.2 317.2 L638.5 317.9 L638.9 318.7 L639.2 319.4 L639.5 320.1 L639.9 320.9 L641.0 321.4 L642.0 322.0 L642.9 322.5 L643.8 323.1 L644.6 323.7 L645.3 324.3 L646.0 324.9 L646.6 325.5 L647.2 326.1 L647.8 326.7 L648.4 327.3 L648.9 327.9 L649.4 328.5 L649.9 329.2 L650.3 329.8 L650.7 330.5 L651.2 331.1 L651.5 331.8 L651.9 332.4 L652.3 333.1 L652.7 333.8 L653.1 334.5 L653.5 335.1 L653.9 335.8 L654.3 336.5 L654.7 337.2 L655.1 337.9 L655.5 338.5 L656.0 339.2 L656.5 339.9 L656.9 340.6 L657.4 341.2 L658.0 341.9 L658.5 342.6 L659.1 343.2 L659.7 343.9 L660.3 344.5 L660.9 345.1 L661.4 345.7 L662.0 346.2 L662.5 346.7 L663.1 347.2 L663.7 347.7 L664.2 348.2 L664.8 348.7 L665.4 349.2 L666.0 349.6 L666.7 350.1 L667.3 350.5 L667.9 351.0 L668.5 351.4 L669.2 351.8 L669.8 352.3 L670.5 352.7 L671.1 353.1 L671.8 353.5 L672.4 353.9 L673.1 354.3 L673.7 354.7 L674.4 355.1 L675.1 355.5 L675.7 355.9 L676.4 356.3 L677.0 356.6 L677.6 357.0 L678.3 357.4 L678.9 357.8 L679.6 358.1 L680.2 358.5 L680.8 358.9 L681.4 359.2 L682.0 359.6 L682.7 359.9 L683.3 360.3 L683.9 360.6 L684.6 361.0 L685.2 361.3 L685.8 361.6 L686.5 362.0 L687.1 362.3 L687.7 362.6 L688.4 363.0 L689.0 363.3 L689.7 363.6 L690.3 363.9 L691.0 364.2 L691.6 364.5 L692.3 364.9 L692.9 365.2 L693.5 365.5 L694.2 365.8 L694.8 366.1 L695.5 366.4 L696.1 366.7 L696.8 367.1 L697.4 367.4 L698.1 367.7 L698.7 368.0 L699.3 368.3 L700.0 368.6 L700.6 369.0 L701.2 369.3 L701.9 369.6 L702.5 369.9 L703.2 370.2 L703.9 370.5 L704.5 370.9 L705.2 371.2 L705.8 371.5 L706.5 371.8 L707.2 372.1 L707.8 372.5 L708.5 372.8 L709.2 373.1 L709.8 373.4 L710.5 373.7 L711.1 374.0 L711.8 374.3 L712.5 374.7 L713.1 375.0 L713.8 375.3 L714.4 375.6 L715.0 375.9 L715.7 376.2 L716.3 376.5 L716.9 376.8 L717.5 377.1 L718.2 377.4 L718.8 377.8 L719.3 378.1 L719.9 378.4 L720.5 378.7 L721.1 379.0 L721.8 379.3 L722.5 379.7 L723.2 380.1 L723.9 380.4 L724.5 380.8 L725.2 381.1 L725.9 381.5 L726.5 381.8 L727.2 382.1 L727.8 382.5 L728.5 382.8 L729.1 383.1 L729.7 383.5 L730.3 383.8 L730.9 384.2 L731.5 384.5 L732.1 384.8 L732.7 385.2 L733.2 385.5 L733.8 385.9 L734.3 386.2 L734.9 386.6 L735.4 387.0 L735.9 387.3 L736.4 387.7 L736.9 388.1 L737.4 388.5 L738.0 389.0 L738.5 389.4 L739.1 389.9 L739.6 390.4 L740.1 390.9 L740.6 391.4 L741.1 391.9 L741.6 392.4 L742.0 393.0 L742.5 393.5 L743.0 394.1 L743.4 394.6 L743.9 395.1 L744.3 395.7 L744.7 396.2 L745.1 396.8 L745.5 397.4 L745.9 397.9 L746.3 398.5 L746.7 399.0 L747.0 399.6 L747.4 400.1 L747.7 400.6 L748.0 401.2 L748.4 401.8 L748.8 402.5 L749.1 403.3 L749.4 404.0 L749.8 404.8 L750.1 405.6 L750.3 406.4 L750.6 407.2 L750.9 408.0 L751.1 408.7 L751.3 409.5 L751.5 410.2 L751.7 410.9 L751.9 411.6 L752.1 412.2 L752.2 412.7 L752.4 413.3 L752.6 413.7 L752.7 414.1 L753.3 413.9 L753.2 413.5 L753.1 413.1 L753.0 412.6 L753.0 412.0 L752.8 411.3 L752.7 410.7 L752.6 410.0 L752.5 409.2 L752.3 408.4 L752.1 407.6 L752.0 406.8 L751.8 406.0 L751.5 405.1 L751.3 404.3 L751.0 403.4 L750.8 402.6 L750.5 401.8 L750.1 401.0 L749.8 400.2 L749.5 399.6 L749.2 399.1 L748.9 398.5 L748.5 397.9 L748.2 397.3 L747.8 396.7 L747.5 396.1 L747.1 395.5 L746.7 394.8 L746.3 394.2 L745.9 393.6 L745.5 393.0 L745.1 392.4 L744.6 391.8 L744.2 391.2 L743.7 390.6 L743.2 390.0 L742.7 389.5 L742.2 388.9 L741.7 388.3 L741.2 387.7 L740.7 387.2 L740.1 386.6 L739.6 386.1 L739.1 385.6 L738.5 385.2 L738.0 384.7 L737.5 384.3 L736.9 383.8 L736.4 383.4 L735.8 383.0 L735.2 382.6 L734.7 382.1 L734.1 381.7 L733.5 381.3 L732.9 380.9 L732.3 380.5 L731.7 380.2 L731.1 379.8 L730.4 379.4 L729.8 379.0 L729.2 378.6 L728.6 378.2 L727.9 377.8 L727.3 377.4 L726.6 377.0 L726.0 376.7 L725.3 376.3 L724.6 375.9 L724.0 375.5 L723.3 375.0 L722.8 374.7 L722.2 374.4 L721.6 374.0 L721.0 373.6 L720.4 373.3 L719.8 372.9 L719.2 372.6 L718.6 372.2 L718.0 371.9 L717.4 371.5 L716.7 371.2 L716.1 370.8 L715.5 370.5 L714.8 370.1 L714.2 369.7 L713.5 369.4 L712.9 369.0 L712.3 368.7 L711.6 368.3 L711.0 368.0 L710.3 367.6 L709.7 367.2 L709.0 366.9 L708.4 366.5 L707.8 366.2 L707.1 365.8 L706.5 365.5 L705.9 365.1 L705.3 364.8 L704.6 364.4 L704.0 364.1 L703.4 363.7 L702.8 363.4 L702.2 363.0 L701.6 362.6 L700.9 362.3 L700.3 361.9 L699.7 361.5 L699.1 361.2 L698.4 360.8 L697.8 360.5 L697.2 360.1 L696.6 359.8 L695.9 359.4 L695.3 359.1 L694.7 358.7 L694.1 358.4 L693.5 358.0 L692.9 357.7 L692.3 357.3 L691.7 356.9 L691.1 356.6 L690.5 356.2 L689.9 355.9 L689.3 355.5 L688.7 355.2 L688.1 354.8 L687.5 354.4 L687.0 354.1 L686.4 353.7 L685.8 353.3 L685.3 353.0 L684.7 352.6 L684.2 352.2 L683.6 351.9 L683.0 351.4 L682.4 351.0 L681.8 350.6 L681.2 350.1 L680.6 349.7 L680.0 349.3 L679.4 348.8 L678.8 348.4 L678.2 348.0 L677.6 347.5 L677.1 347.1 L676.5 346.7 L675.9 346.2 L675.3 345.8 L674.8 345.4 L674.3 344.9 L673.7 344.5 L673.2 344.1 L672.7 343.6 L672.2 343.2 L671.7 342.7 L671.2 342.3 L670.8 341.9 L670.3 341.4 L669.9 341.0 L669.5 340.6 L669.1 340.1 L668.8 339.7 L668.4 339.3 L668.1 338.9 L667.8 338.3 L667.4 337.8 L667.1 337.3 L666.8 336.7 L666.6 336.2 L666.3 335.7 L666.1 335.1 L665.9 334.6 L665.7 334.0 L665.5 333.5 L665.3 332.9 L665.1 332.3 L664.9 331.7 L664.8 331.1 L664.6 330.5 L664.5 329.9 L664.3 329.3 L664.2 328.6 L664.1 327.9 L664.0 327.2 L663.9 326.5 L663.8 325.8 L663.7 325.0 L663.6 324.3 L663.6 323.5 L663.6 322.8 L663.7 322.1 L663.9 321.5 L664.1 320.8 L664.3 320.1 L664.5 319.4 L664.8 318.7 L665.1 317.9 L665.6 317.2 L666.0 316.4 L666.6 315.6 L667.3 314.8 L668.0 313.9 L668.0 313.2 L668.0 312.6 L668.0 311.9 L668.0 311.2 L668.1 310.5 L668.1 309.9 L668.1 309.2 L668.1 308.5 L668.1 307.8 L668.1 307.1 L668.1 306.3 L668.1 305.6 L668.1 304.9 L668.2 304.2 L668.2 303.5 L668.2 302.8 L668.1 302.2 L668.0 301.5 L667.8 300.9 L667.7 300.2 L667.6 299.5 L667.5 298.8 L667.4 298.0 L667.3 297.3 L667.1 296.5 L667.0 295.7 L666.9 294.9 L666.8 294.1 L666.7 293.3 L666.6 292.5 L666.5 291.7 L666.4 291.0 L666.3 290.2 L666.2 289.4 L666.1 288.7 L666.0 288.0 L665.9 287.3 L665.8 286.6 L665.7 285.9 L665.6 285.3 L665.5 284.7 L665.5 284.1 L665.4 283.6 L665.3 283.1 L665.3 282.6 L665.2 282.1Z"/>
<path d="M701.0 370.2 L701.1 370.6 L701.1 371.1 L701.2 371.6 L701.3 372.2 L701.4 372.8 L701.4 373.5 L701.5 374.2 L701.7 374.9 L701.8 375.7 L701.9 376.5 L702.0 377.3 L702.1 378.1 L702.2 378.9 L702.3 379.8 L702.4 380.6 L702.5 381.4 L702.6 382.3 L702.7 383.1 L702.8 383.9 L702.8 384.7 L702.9 385.4 L702.9 386.1 L703.0 386.8 L703.0 387.4 L703.0 388.0 L703.0 388.8 L703.0 389.6 L702.9 390.4 L702.9 391.1 L702.8 391.9 L702.7 392.6 L702.5 393.3 L702.4 394.0 L702.3 394.7 L702.1 395.4 L702.0 396.0 L701.9 396.7 L701.7 397.3 L701.6 397.9 L701.5 398.5 L701.4 399.1 L701.3 399.7 L701.2 400.8 L701.2 401.7 L701.2 402.6 L701.1 403.4 L701.2 404.1 L701.2 404.6 L701.2 405.1 L701.3 405.6 L702.7 405.8 L702.9 405.5 L703.1 405.0 L703.4 404.5 L703.6 403.8 L703.9 403.1 L704.1 402.3 L704.4 401.3 L704.7 400.3 L704.8 399.8 L705.0 399.3 L705.1 398.7 L705.2 398.2 L705.4 397.5 L705.6 396.9 L705.8 396.2 L705.9 395.5 L706.1 394.8 L706.3 394.0 L706.4 393.3 L706.6 392.4 L706.7 391.6 L706.8 390.7 L706.9 389.9 L707.0 388.9 L707.0 388.0 L707.0 387.3 L707.0 386.6 L706.9 385.9 L706.9 385.1 L706.8 384.3 L706.7 383.5 L706.7 382.7 L706.6 381.8 L706.5 381.0 L706.4 380.1 L706.3 379.3 L706.2 378.4 L706.1 377.6 L705.9 376.7 L705.8 375.9 L705.7 375.1 L705.6 374.4 L705.5 373.6 L705.4 372.9 L705.3 372.3 L705.2 371.7 L705.2 371.1 L705.1 370.6 L705.0 370.1 L705.0 369.8Z"/>
</g>
<ellipse cx="645.8" cy="267.0" rx="52" ry="53" fill="#F6AC0E"/>
<circle cx="644.3" cy="269.0" r="47" fill="url(#somaR)"/>
<circle cx="645.3" cy="272.0" r="23" fill="url(#nucR)"/>
<g fill="#EE7A22" opacity="0.5" filter="url(#blur1)"><ellipse cx="647.3" cy="270.0" rx="4" ry="9" transform="rotate(20 647.3 270.0)"/><ellipse cx="657.3" cy="276.0" rx="4" ry="8" transform="rotate(-15 657.3 276.0)"/></g>
<circle cx="645.3" cy="272.0" r="23" fill="url(#nucER)"/>
<path d="M264 354 L281 345 L311 373 L300 390 L266 364 Z" fill="#F2AA10"/>
<path d="M272 356 L288.5 349.5 L300 364 L300 374 L272 366 Z" fill="url(#hil)" opacity="0.75"/>
<g transform="translate(306.4 383.4) rotate(38.7)">
<rect x="-2" y="-16.5" width="65.0" height="33.0" rx="5" fill="#B9E4FA" filter="url(#blur1)"/>
<rect x="0" y="-14.5" width="61.0" height="29.0" rx="3" fill="url(#cyl)"/>
<circle cx="61.0" cy="0" r="16.0" fill="#9ED8F7" filter="url(#blur05)"/>
<circle cx="61.0" cy="0" r="14.0" fill="#8ED0F4"/>
<circle cx="61.0" cy="0" r="12.0" fill="none" stroke="#C9ECFC" stroke-width="0.9"/>
<circle cx="61.0" cy="0" r="9.0" fill="none" stroke="#C9ECFC" stroke-width="0.9"/>
</g>
<g transform="translate(352.0 419.0) rotate(38.2)"><rect x="0" y="-5.5" width="17.8" height="11.0" rx="1.0" fill="url(#orng)"/></g>
<g transform="translate(363.6 427.9) rotate(34.0)">
<rect x="-2" y="-16.5" width="59.0" height="33.0" rx="5" fill="#B9E4FA" filter="url(#blur1)"/>
<rect x="0" y="-14.5" width="55.0" height="29.0" rx="3" fill="url(#cyl)"/>
<circle cx="55.0" cy="0" r="16.0" fill="#9ED8F7" filter="url(#blur05)"/>
<circle cx="55.0" cy="0" r="14.0" fill="#8ED0F4"/>
<circle cx="55.0" cy="0" r="12.0" fill="none" stroke="#C9ECFC" stroke-width="0.9"/>
<circle cx="55.0" cy="0" r="9.0" fill="none" stroke="#C9ECFC" stroke-width="0.9"/>
</g>
<g transform="translate(408.0 455.0) rotate(32.5)"><rect x="0" y="-6.0" width="26.1" height="12.0" rx="1.0" fill="url(#orng)"/></g>
<path d="M514.7 460.6 L518.2 460.9 L521.7 461.7 L525.1 462.7 L528.4 464.0 L531.6 465.7 L534.5 467.6 L537.3 469.9 L539.8 472.3 L542.2 475.0 L544.2 478.0 L545.9 481.0 L547.4 484.3 L548.5 487.7 L549.4 491.1 L549.8 494.6 L550.0 498.2 L549.8 501.7 L549.3 505.2 L548.4 508.7 L547.3 512.0 L545.8 515.3 L544.0 518.3 L541.9 521.2 L539.6 523.9 L537.0 526.4 L534.2 528.6 L531.2 530.5 L528.1 532.1 L524.8 533.4 L521.4 534.4 L517.9 535.1 L514.4 535.5 L510.8 535.5 L507.3 535.1 L503.8 534.5 L500.4 533.5 L497.1 532.2 L493.9 530.6 L490.9 528.6 L488.1 526.5 L429.5 476.2 L429.0 475.7 L428.5 475.2 L428.0 474.7 L427.6 474.1 L427.2 473.5 L426.8 472.9 L426.5 472.3 L426.3 471.6 L426.0 470.9 L425.8 470.2 L425.7 469.5 L425.6 468.8 L425.5 468.1 L425.5 467.4 L425.5 466.7 L425.6 466.0 L425.7 465.2 L425.9 464.6 L426.1 463.9 L426.3 463.2 L426.6 462.5 L427.0 461.9 L427.3 461.3 L427.7 460.7 L428.2 460.1 L428.6 459.6 L429.2 459.1 L429.7 458.6 L430.3 458.2 L430.9 457.8 L431.5 457.4 L432.1 457.1 L432.8 456.8 L433.4 456.6 L434.1 456.4 L434.8 456.2 L435.5 456.1 L436.2 456.0 L437.0 456.0 L437.7 456.0Z" fill="#B6E2FA" filter="url(#blur1)"/>
<path d="M514.6 462.1 L518.0 462.4 L521.4 463.1 L524.6 464.1 L527.8 465.4 L530.8 467.0 L533.6 468.9 L536.3 471.0 L538.8 473.4 L541.0 476.0 L542.9 478.8 L544.6 481.7 L546.0 484.8 L547.1 488.1 L547.9 491.4 L548.4 494.8 L548.5 498.2 L548.3 501.6 L547.8 505.0 L547.0 508.3 L545.9 511.5 L544.5 514.6 L542.7 517.5 L540.8 520.3 L538.5 522.9 L536.0 525.2 L533.4 527.3 L530.5 529.2 L527.5 530.7 L524.3 532.0 L521.0 533.0 L517.7 533.6 L514.3 534.0 L510.9 534.0 L507.5 533.6 L504.1 533.0 L500.8 532.1 L497.7 530.8 L494.6 529.3 L491.8 527.4 L489.1 525.3 L430.5 475.1 L430.0 474.7 L429.6 474.2 L429.2 473.7 L428.8 473.3 L428.5 472.7 L428.2 472.2 L427.9 471.6 L427.7 471.1 L427.5 470.5 L427.3 469.9 L427.2 469.3 L427.1 468.6 L427.0 468.0 L427.0 467.4 L427.0 466.8 L427.1 466.2 L427.2 465.5 L427.3 464.9 L427.5 464.3 L427.7 463.8 L428.0 463.2 L428.3 462.6 L428.6 462.1 L428.9 461.6 L429.3 461.1 L429.7 460.6 L430.2 460.2 L430.6 459.8 L431.1 459.4 L431.7 459.0 L432.2 458.7 L432.7 458.4 L433.3 458.2 L433.9 458.0 L434.5 457.8 L435.1 457.7 L435.7 457.6 L436.3 457.5 L437.0 457.5 L437.6 457.5Z" fill="url(#cone)"/>
<g transform="translate(349.6 392.0) rotate(35.0)"><ellipse cx="0" cy="0" rx="9.5" ry="6.5" fill="url(#nucb)"/><ellipse cx="-2" cy="-2.3" rx="5.7" ry="2.6" fill="#3596D3" opacity="0.6"/></g>
<g transform="translate(400.7 424.5) rotate(30.0)"><ellipse cx="0" cy="0" rx="9.3" ry="6.2" fill="url(#nucb)"/><ellipse cx="-2" cy="-2.2" rx="5.6" ry="2.5" fill="#3596D3" opacity="0.6"/></g>
<g transform="translate(475.3 455.5) rotate(10.0)"><ellipse cx="0" cy="0" rx="12.5" ry="6.3" fill="url(#nucb)"/><ellipse cx="-2" cy="-2.2" rx="7.5" ry="2.5" fill="#3596D3" opacity="0.6"/></g>
<circle cx="512.5" cy="498" r="35.5" fill="url(#face)"/>
<circle cx="514" cy="498.5" r="29" fill="none" stroke="#E2F5FE" stroke-width="1.2" opacity="0.8"/>
<circle cx="514" cy="498.5" r="23" fill="none" stroke="#E2F5FE" stroke-width="1.2" opacity="0.9"/>
<circle cx="514" cy="498.5" r="14" fill="none" stroke="#E2F5FE" stroke-width="1.2" opacity="0.9"/>
<g transform="translate(509.0 496.5) rotate(5.0)"><rect x="0" y="-6.8" width="34.1" height="13.5" rx="6.8" fill="url(#orng)"/></g>
<path d="M673.5 302 L690.5 293 L720.5 321 L709.5 338 L675.5 312 Z" fill="#F2AA10"/>
<path d="M681.5 304 L698 297.5 L709.5 312 L709.5 322 L681.5 314 Z" fill="url(#hil)" opacity="0.75"/>
<g transform="translate(716.4 333.6) rotate(36)"><rect x="-3" y="-18.5" width="66" height="37" rx="10" fill="#BCE5FA" filter="url(#blur1)"/><rect x="0" y="-16.5" width="60" height="33" rx="8" fill="#A4D9F7"/><rect x="3" y="-11" width="42" height="23" rx="10" fill="#9AD4F5" stroke="#C6EAFB" stroke-width="1.6"/><circle cx="56" cy="1" r="15" fill="#9CD5F6" stroke="#C2E8FB" stroke-width="1.4"/><g fill="#F7B868" stroke="#E6A456" stroke-width="0.9"><ellipse cx="13" cy="1.5" rx="8" ry="5.8"/><ellipse cx="30" cy="1.5" rx="8.5" ry="5.5"/></g><g fill="#F7B868"><ellipse cx="13" cy="1.5" rx="7.5" ry="5.3"/><ellipse cx="30" cy="1.5" rx="8" ry="5"/><rect x="15" y="-2" width="12" height="6"/></g></g>
<g transform="translate(757.0 366.0) rotate(37.5)"><rect x="0" y="-7.0" width="18.9" height="14.0" rx="1.0" fill="url(#orng)"/></g>
<g transform="translate(769 371) rotate(31)"><rect x="-2" y="-18" width="68" height="34" rx="8" fill="#BDE5FA" filter="url(#blur1)"/><rect x="0" y="-16" width="64" height="30" rx="6" fill="#F6B465"/><path d="M0 -16 L58 -16 Q64 -16 64 -10 L64 6 C55 8 50 3 44 5 C36 8 30 2 22 3 C14 4 8 10 0 7 Z" fill="#68B5E3"/><path d="M0 -16 L58 -16 Q64 -16 64 -10 L64 -7 L0 -7 Z" fill="#80C7F0"/><circle cx="62" cy="0" r="10" fill="#5CACDF"/></g>
<g transform="translate(803.0 394.0) rotate(30.0)"><rect x="0" y="-12.5" width="52.0" height="25.0" rx="12.5" fill="#C4E7FB"/></g>
<path d="M838 403 C858 400 888 400 908.4 413.7 A35 35 0 1 1 903.1 474.1 C880 466 855 446 836 428 Q830 415 838 403 Z" fill="#B6E2FA" stroke="#B6E2FA" stroke-width="3" filter="url(#blur1)"/>
<path d="M838 403 C858 400 888 400 908.4 413.7 A35 35 0 1 1 903.1 474.1 C880 466 855 446 836 428 Q830 415 838 403 Z" fill="#7CC5EF"/>
<path d="M907.8 424.3 L909.2 424.6 L910.5 425.0 L911.8 425.5 L913.0 426.2 L914.2 426.9 L915.3 427.8 L916.3 428.7 L917.3 429.7 L918.1 430.8 L918.9 432.0 L919.5 433.3 L920.0 434.5 L920.5 435.9 L920.8 437.2 L920.9 438.6 L921.0 440.0 L920.9 441.4 L920.8 442.8 L920.5 444.1 L920.0 445.5 L919.5 446.8 L918.9 448.0 L918.1 449.2 L917.3 450.3 L916.3 451.3 L915.3 452.2 L914.2 453.1 L913.0 453.8 L911.8 454.5 L910.5 455.0 L909.2 455.4 L907.8 455.8 L906.4 455.9 L905.0 456.0 L903.6 455.9 L902.3 455.8 L900.9 455.5 L899.6 455.1 L898.3 454.5 L897.0 453.9 L847.0 425.2 L846.7 425.0 L846.3 424.7 L846.0 424.5 L845.7 424.2 L845.4 423.9 L845.2 423.5 L844.9 423.2 L844.7 422.8 L844.5 422.5 L844.4 422.1 L844.2 421.7 L844.1 421.3 L844.1 420.8 L844.0 420.4 L844.0 420.0 L844.0 419.6 L844.1 419.2 L844.1 418.8 L844.2 418.3 L844.4 417.9 L844.5 417.6 L844.7 417.2 L844.9 416.8 L845.1 416.5 L845.4 416.1 L845.7 415.8 L846.0 415.5 L846.3 415.3 L846.6 415.0 L847.0 414.8 L847.4 414.6 L847.8 414.4 L848.2 414.3 L848.6 414.2 L849.0 414.1 L849.4 414.0 L849.8 414.0 L850.2 414.0 L850.6 414.0 L851.1 414.1Z" fill="#8ACFF3" opacity="0.7"/>
<g transform="translate(808.0 401.0) rotate(23.2)"><rect x="0" y="-7.8" width="76.2" height="15.5" rx="7.8" fill="url(#orng)"/></g>
<g transform="translate(845.0 417.0) rotate(23.0)"><rect x="0" y="-6.8" width="35.8" height="13.5" rx="6.8" fill="#FAD3A0"/></g>
<g transform="translate(753.7 339.5) rotate(35.0)"><ellipse cx="0" cy="0" rx="9.5" ry="6.6" fill="url(#nucb)"/><ellipse cx="-2" cy="-2.3" rx="5.7" ry="2.6" fill="#3596D3" opacity="0.6"/></g>
<g transform="translate(807.3 373.5) rotate(30.0)"><ellipse cx="0" cy="0" rx="9.8" ry="6.6" fill="url(#nucb)"/><ellipse cx="-2" cy="-2.3" rx="5.9" ry="2.6" fill="#3596D3" opacity="0.6"/></g>
<g transform="translate(891.5 405.5) rotate(8.0)"><ellipse cx="0" cy="0" rx="12.0" ry="6.0" fill="url(#nucb)"/><ellipse cx="-2" cy="-2.1" rx="7.2" ry="2.4" fill="#3596D3" opacity="0.6"/></g>
<circle cx="923.2" cy="445.4" r="35" fill="#80C9F1"/>
<circle cx="925.5" cy="447" r="27" fill="#4598D2"/>
<circle cx="925.5" cy="447" r="23" fill="#6CB9E8"/>
<circle cx="925.5" cy="447" r="17" fill="#3F93CE"/>
<circle cx="925.5" cy="447" r="13" fill="#4FA2D9"/>
<g transform="translate(919.0 446.5) rotate(1.8)"><rect x="0" y="-7.5" width="32.5" height="15.0" rx="7.5" fill="url(#orng)"/></g>
<line x1="383.1" y1="451.7" x2="375.6" y2="498.0" stroke="#1a1a1a" stroke-width="1.1"/>
<circle cx="383.1" cy="451.7" r="2.9" fill="#111"/>
<line x1="423.1" y1="458.3" x2="476.0" y2="430.5" stroke="#1a1a1a" stroke-width="1.1"/>
<circle cx="423.1" cy="458.3" r="2.9" fill="#111"/>
<line x1="535.7" y1="499.6" x2="513.0" y2="568.0" stroke="#1a1a1a" stroke-width="1.1"/>
<circle cx="535.7" cy="499.6" r="2.9" fill="#111"/>
<line x1="785.4" y1="368.7" x2="815.6" y2="339.0" stroke="#1a1a1a" stroke-width="1.1"/>
<circle cx="785.4" cy="368.7" r="2.9" fill="#111"/>
<line x1="842.0" y1="418.0" x2="807.2" y2="461.4" stroke="#1a1a1a" stroke-width="1.1"/>
<circle cx="842.0" cy="418.0" r="2.9" fill="#111"/>
<text x="33.5" y="87.4" style="font-family:'Liberation Sans',sans-serif;font-size:31.5px;font-weight:bold;font-style:italic;" fill="#111" textLength="112.3" lengthAdjust="spacingAndGlyphs">Healthy</text>
<text x="769.5" y="87.5" style="font-family:'Liberation Sans',sans-serif;font-size:31.5px;font-weight:bold;font-style:italic;" fill="#111" textLength="208.6" lengthAdjust="spacingAndGlyphs">Nerve affected</text>
<text x="893.5" y="116.9" style="font-family:'Liberation Sans',sans-serif;font-size:31.5px;font-weight:bold;font-style:italic;" fill="#111" textLength="85.8" lengthAdjust="spacingAndGlyphs">by MS</text>
<text x="483.7" y="437.0" style="font-family:'Liberation Sans',sans-serif;font-size:23.0px;" fill="#111" textLength="166.0" lengthAdjust="spacingAndGlyphs">Node of Ranvier</text>
<text x="325.6" y="522.3" style="font-family:'Liberation Sans',sans-serif;font-size:23.0px;" fill="#111" textLength="97.2" lengthAdjust="spacingAndGlyphs">Schwann</text>
<text x="326.6" y="546.9" style="font-family:'Liberation Sans',sans-serif;font-size:23.0px;" fill="#111" textLength="46.2" lengthAdjust="spacingAndGlyphs">cells</text>
<text x="458.0" y="598.0" style="font-family:'Liberation Sans',sans-serif;font-size:23.0px;" fill="#111" textLength="115.6" lengthAdjust="spacingAndGlyphs">Nerve fiber</text>
<text x="793.6" y="304.6" style="font-family:'Liberation Sans',sans-serif;font-size:23.0px;" fill="#111" textLength="104.1" lengthAdjust="spacingAndGlyphs">Damaged</text>
<text x="810.0" y="328.7" style="font-family:'Liberation Sans',sans-serif;font-size:23.0px;" fill="#111" textLength="71.6" lengthAdjust="spacingAndGlyphs">myelin</text>
<text x="756.0" y="481.0" style="font-family:'Liberation Sans',sans-serif;font-size:23.0px;" fill="#111" textLength="89.0" lengthAdjust="spacingAndGlyphs">Exposed</text>
<text x="776.4" y="505.5" style="font-family:'Liberation Sans',sans-serif;font-size:23.0px;" fill="#111" textLength="48.2" lengthAdjust="spacingAndGlyphs">fiber</text>
</svg>
</body></html>
